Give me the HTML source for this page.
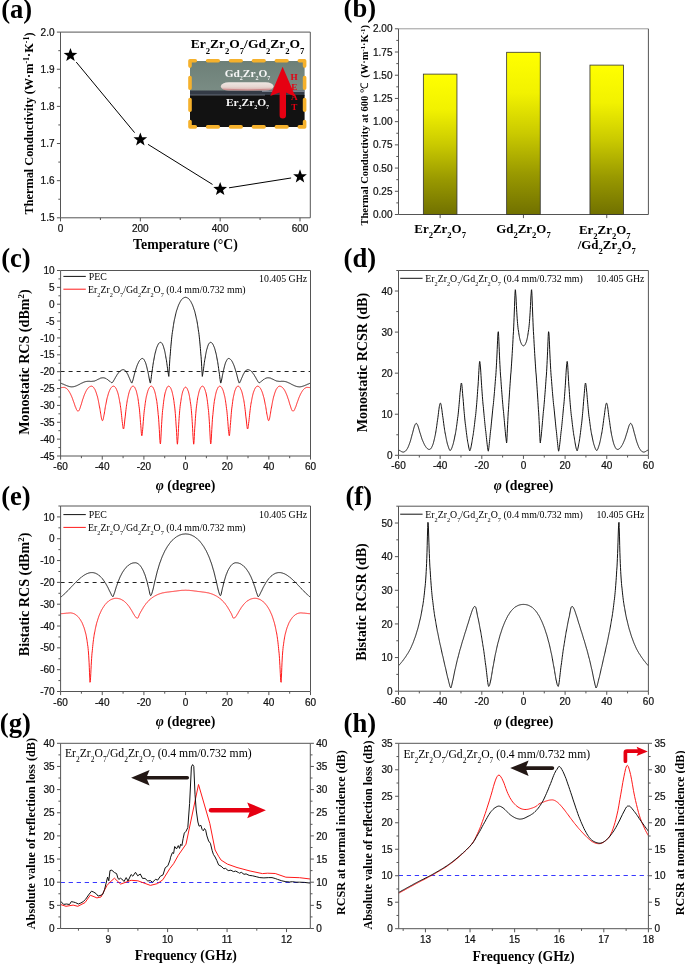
<!DOCTYPE html>
<html><head><meta charset="utf-8"><style>
html,body{margin:0;padding:0;background:#fff;}
svg{display:block;will-change:transform;}
</style></head><body>
<svg width="685" height="964" viewBox="0 0 685 964">
<rect width="685" height="964" fill="#fff"/>
<text x="1.20" y="17.50" text-anchor="start" font-family='"Liberation Serif", serif' font-size="26.6" font-weight="bold" fill="#000">(a)</text>
<text x="343.60" y="17.40" text-anchor="start" font-family='"Liberation Serif", serif' font-size="26.6" font-weight="bold" fill="#000">(b)</text>
<text x="1.20" y="266.90" text-anchor="start" font-family='"Liberation Serif", serif' font-size="26.6" font-weight="bold" fill="#000">(c)</text>
<text x="343.60" y="266.80" text-anchor="start" font-family='"Liberation Serif", serif' font-size="26.6" font-weight="bold" fill="#000">(d)</text>
<text x="1.20" y="505.20" text-anchor="start" font-family='"Liberation Serif", serif' font-size="26.6" font-weight="bold" fill="#000">(e)</text>
<text x="345.50" y="505.00" text-anchor="start" font-family='"Liberation Serif", serif' font-size="26.6" font-weight="bold" fill="#000">(f)</text>
<text x="-0.20" y="731.80" text-anchor="start" font-family='"Liberation Serif", serif' font-size="26.6" font-weight="bold" fill="#000">(g)</text>
<text x="343.60" y="731.70" text-anchor="start" font-family='"Liberation Serif", serif' font-size="26.6" font-weight="bold" fill="#000">(h)</text>
<path d="M60.50,32.10V217.80H310.30" fill="none" stroke="#555555" stroke-width="1.0"/>
<path d="M60.50,32.10H310.30" fill="none" stroke="#555555" stroke-width="1.0"/>
<path d="M310.30,32.10V217.80" fill="none" stroke="#555555" stroke-width="1.0"/>
<path d="M60.50,217.80h-3.60M60.50,180.66h-3.60M60.50,143.52h-3.60M60.50,106.38h-3.60M60.50,69.24h-3.60M60.50,32.10h-3.60M60.50,199.23h-2.20M60.50,162.09h-2.20M60.50,124.95h-2.20M60.50,87.81h-2.20M60.50,50.67h-2.20" stroke="#555555" stroke-width="1.0" fill="none"/>
<text x="54.50" y="221.40" text-anchor="end" font-family='"Liberation Sans", sans-serif' font-size="10.0" fill="#111" stroke="#111" stroke-width="0.22">1.5</text>
<text x="54.50" y="184.26" text-anchor="end" font-family='"Liberation Sans", sans-serif' font-size="10.0" fill="#111" stroke="#111" stroke-width="0.22">1.6</text>
<text x="54.50" y="147.12" text-anchor="end" font-family='"Liberation Sans", sans-serif' font-size="10.0" fill="#111" stroke="#111" stroke-width="0.22">1.7</text>
<text x="54.50" y="109.98" text-anchor="end" font-family='"Liberation Sans", sans-serif' font-size="10.0" fill="#111" stroke="#111" stroke-width="0.22">1.8</text>
<text x="54.50" y="72.84" text-anchor="end" font-family='"Liberation Sans", sans-serif' font-size="10.0" fill="#111" stroke="#111" stroke-width="0.22">1.9</text>
<text x="54.50" y="35.70" text-anchor="end" font-family='"Liberation Sans", sans-serif' font-size="10.0" fill="#111" stroke="#111" stroke-width="0.22">2.0</text>
<path d="M60.50,217.80v3.60M140.33,217.80v3.60M220.17,217.80v3.60M300.00,217.80v3.60M100.42,217.80v2.20M180.25,217.80v2.20M260.08,217.80v2.20" stroke="#555555" stroke-width="1.0" fill="none"/>
<text x="60.50" y="231.80" text-anchor="middle" font-family='"Liberation Sans", sans-serif' font-size="10.0" fill="#111" stroke="#111" stroke-width="0.22">0</text>
<text x="140.33" y="231.80" text-anchor="middle" font-family='"Liberation Sans", sans-serif' font-size="10.0" fill="#111" stroke="#111" stroke-width="0.22">200</text>
<text x="220.17" y="231.80" text-anchor="middle" font-family='"Liberation Sans", sans-serif' font-size="10.0" fill="#111" stroke="#111" stroke-width="0.22">400</text>
<text x="300.00" y="231.80" text-anchor="middle" font-family='"Liberation Sans", sans-serif' font-size="10.0" fill="#111" stroke="#111" stroke-width="0.22">600</text>
<text x="185.50" y="248.50" text-anchor="middle" font-family='"Liberation Serif", serif' font-size="13.8" font-weight="bold" fill="#000">Temperature (°C)</text>
<text x="32.60" y="123.50" text-anchor="middle" font-family='"Liberation Serif", serif' font-size="12.3" font-weight="bold" fill="#000" transform="rotate(-90 32.60 123.50)">Thermal Conductivity (W·m<tspan font-size="8" baseline-shift="super">-1</tspan>·K<tspan font-size="8" baseline-shift="super">-1</tspan>)</text>
<path d="M76.22,62.06L134.60,132.65M147.98,144.33L212.52,184.45M229.06,187.80L291.11,177.98" stroke="#000" stroke-width="1" fill="none"/>
<polygon points="70.48,47.93 72.24,52.70 77.33,52.90 73.33,56.05 74.71,60.95 70.48,58.13 66.25,60.95 67.63,56.05 63.63,52.90 68.72,52.70" fill="#000"/>
<polygon points="140.33,132.38 142.10,137.16 147.18,137.36 143.19,140.51 144.57,145.41 140.33,142.58 136.10,145.41 137.48,140.51 133.49,137.36 138.57,137.16" fill="#000"/>
<polygon points="220.17,182.00 221.93,186.78 227.01,186.98 223.02,190.13 224.40,195.03 220.17,192.20 215.93,195.03 217.31,190.13 213.32,186.98 218.40,186.78" fill="#000"/>
<polygon points="300.00,169.37 301.76,174.15 306.85,174.35 302.85,177.50 304.23,182.40 300.00,179.57 295.77,182.40 297.15,177.50 293.15,174.35 298.24,174.15" fill="#000"/>
<text x="247.50" y="48.00" text-anchor="middle" font-family='"Liberation Serif", serif' font-size="13.5" font-weight="bold" fill="#000"><tspan>Er</tspan><tspan font-size="8.64" baseline-shift="-5.80">2</tspan><tspan>Zr</tspan><tspan font-size="8.64" baseline-shift="-5.80">2</tspan><tspan>O</tspan><tspan font-size="8.64" baseline-shift="-5.80">7</tspan><tspan>/</tspan><tspan>Gd</tspan><tspan font-size="8.64" baseline-shift="-5.80">2</tspan><tspan>Zr</tspan><tspan font-size="8.64" baseline-shift="-5.80">2</tspan><tspan>O</tspan><tspan font-size="8.64" baseline-shift="-5.80">7</tspan></text>
<defs><linearGradient id="gtop" x1="0" y1="0" x2="0" y2="1"><stop offset="0" stop-color="#6d8078"/><stop offset="1" stop-color="#7a8c84"/></linearGradient><linearGradient id="ybar" x1="0" y1="0" x2="0" y2="1"><stop offset="0" stop-color="#ffff00"/><stop offset="0.25" stop-color="#f2f200"/><stop offset="0.5" stop-color="#caca00"/><stop offset="0.75" stop-color="#999900"/><stop offset="1" stop-color="#717100"/></linearGradient></defs>
<rect x="190" y="61" width="114.6" height="30" fill="url(#gtop)"/>
<rect x="190" y="90.5" width="114.6" height="5" fill="#343b46"/>
<rect x="190" y="95" width="114.6" height="32" fill="#121212"/>
<defs><linearGradient id="disk" x1="0" y1="0" x2="0" y2="1"><stop offset="0" stop-color="#efe7e3"/><stop offset="0.55" stop-color="#e6d6d1"/><stop offset="1" stop-color="#d9aaa8"/></linearGradient></defs>
<rect x="190" y="94.6" width="75" height="0.9" fill="#9aa3b0" opacity="0.6"/>
<rect x="262" y="90.6" width="42.6" height="1.2" fill="#aab3c0" opacity="0.75"/>
<rect x="220.8" y="82.3" width="52.8" height="8.2" rx="8" ry="4" fill="url(#disk)"/>
<path d="M223,89.2 Q247,90.6 271.5,89.2" stroke="#c77f82" stroke-width="0.8" fill="none"/>
<text x="247.50" y="76.60" text-anchor="middle" font-family='"Liberation Serif", serif' font-size="11.4" font-weight="bold" fill="#f6f6f6"><tspan>Gd</tspan><tspan font-size="6.00" baseline-shift="-3.00">2</tspan><tspan>Zr</tspan><tspan font-size="6.00" baseline-shift="-3.00">2</tspan><tspan>O</tspan><tspan font-size="6.00" baseline-shift="-3.00">7</tspan></text>
<text x="247.50" y="105.60" text-anchor="middle" font-family='"Liberation Serif", serif' font-size="11.4" font-weight="bold" fill="#f6f6f6"><tspan>Er</tspan><tspan font-size="6.00" baseline-shift="-3.00">2</tspan><tspan>Zr</tspan><tspan font-size="6.00" baseline-shift="-3.00">2</tspan><tspan>O</tspan><tspan font-size="6.00" baseline-shift="-3.00">7</tspan></text>
<path d="M282.6,66.8 L295.6,97.0 L286.0,92.6 L286.0,115.3 A3.2,3.2 0 0 1 279.6,115.3 L279.6,92.6 L270.3,96.0 Z" fill="#e60012"/>
<text x="294.20" y="79.70" text-anchor="middle" font-family='"Liberation Serif", serif' font-size="9.2" font-weight="bold" fill="#e60012">H</text>
<text x="294.20" y="89.60" text-anchor="middle" font-family='"Liberation Serif", serif' font-size="9.2" font-weight="bold" fill="#e60012">E</text>
<text x="294.20" y="99.60" text-anchor="middle" font-family='"Liberation Serif", serif' font-size="9.2" font-weight="bold" fill="#e60012">A</text>
<text x="294.20" y="109.60" text-anchor="middle" font-family='"Liberation Serif", serif' font-size="9.2" font-weight="bold" fill="#e60012">T</text>
<path d="M195.3,60.8L190.0,60.8L190.0,66.1M299.3,60.8L304.6,60.8L304.6,66.1M195.3,126.9L190.0,126.9L190.0,121.60000000000001M299.3,126.9L304.6,126.9L304.6,121.60000000000001M207.62,60.8H218.22M207.62,126.9H218.22M230.54,60.8H241.14M230.54,126.9H241.14M253.46,60.8H264.06M253.46,126.9H264.06M276.38,60.8H286.98M276.38,126.9H286.98M190.0,77.53V88.13M304.6,77.53V88.13M190.0,99.57V110.17M304.6,99.57V110.17" fill="none" stroke="#f5b12c" stroke-width="3.6" stroke-linecap="round" stroke-linejoin="round"/>
<path d="M398.50,28.80V214.50H648.40" fill="none" stroke="#555555" stroke-width="1.0"/>
<path d="M398.50,28.80H648.40" fill="none" stroke="#9a9a9a" stroke-width="1.0"/>
<path d="M648.40,28.80V214.50" fill="none" stroke="#555555" stroke-width="1.0"/>
<path d="M398.50,214.50h-3.60M398.50,191.29h-3.60M398.50,168.07h-3.60M398.50,144.86h-3.60M398.50,121.65h-3.60M398.50,98.44h-3.60M398.50,75.23h-3.60M398.50,52.01h-3.60M398.50,28.80h-3.60M398.50,202.89h-2.20M398.50,179.68h-2.20M398.50,156.47h-2.20M398.50,133.26h-2.20M398.50,110.04h-2.20M398.50,86.83h-2.20M398.50,63.62h-2.20M398.50,40.41h-2.20" stroke="#555555" stroke-width="1.0" fill="none"/>
<text x="392.50" y="218.10" text-anchor="end" font-family='"Liberation Sans", sans-serif' font-size="10.0" fill="#111" stroke="#111" stroke-width="0.22">0.00</text>
<text x="392.50" y="194.89" text-anchor="end" font-family='"Liberation Sans", sans-serif' font-size="10.0" fill="#111" stroke="#111" stroke-width="0.22">0.25</text>
<text x="392.50" y="171.67" text-anchor="end" font-family='"Liberation Sans", sans-serif' font-size="10.0" fill="#111" stroke="#111" stroke-width="0.22">0.50</text>
<text x="392.50" y="148.46" text-anchor="end" font-family='"Liberation Sans", sans-serif' font-size="10.0" fill="#111" stroke="#111" stroke-width="0.22">0.75</text>
<text x="392.50" y="125.25" text-anchor="end" font-family='"Liberation Sans", sans-serif' font-size="10.0" fill="#111" stroke="#111" stroke-width="0.22">1.00</text>
<text x="392.50" y="102.04" text-anchor="end" font-family='"Liberation Sans", sans-serif' font-size="10.0" fill="#111" stroke="#111" stroke-width="0.22">1.25</text>
<text x="392.50" y="78.83" text-anchor="end" font-family='"Liberation Sans", sans-serif' font-size="10.0" fill="#111" stroke="#111" stroke-width="0.22">1.50</text>
<text x="392.50" y="55.61" text-anchor="end" font-family='"Liberation Sans", sans-serif' font-size="10.0" fill="#111" stroke="#111" stroke-width="0.22">1.75</text>
<text x="392.50" y="32.40" text-anchor="end" font-family='"Liberation Sans", sans-serif' font-size="10.0" fill="#111" stroke="#111" stroke-width="0.22">2.00</text>
<path d="M440.15,214.50v3.60M523.45,214.50v3.60M606.75,214.50v3.60" stroke="#555555" stroke-width="1.0" fill="none"/>
<rect x="423.35" y="74.11" width="33.6" height="140.39" fill="url(#ybar)" stroke="#333" stroke-width="0.8"/>
<rect x="506.65" y="52.29" width="33.6" height="162.21" fill="url(#ybar)" stroke="#333" stroke-width="0.8"/>
<rect x="589.95" y="65.10" width="33.6" height="149.40" fill="url(#ybar)" stroke="#333" stroke-width="0.8"/>
<text x="440.15" y="232.60" text-anchor="middle" font-family='"Liberation Serif", serif' font-size="12.9" font-weight="bold" fill="#000"><tspan>Er</tspan><tspan font-size="8.60" baseline-shift="-5.20">2</tspan><tspan>Zr</tspan><tspan font-size="8.60" baseline-shift="-5.20">2</tspan><tspan>O</tspan><tspan font-size="8.60" baseline-shift="-5.20">7</tspan></text>
<text x="523.45" y="232.60" text-anchor="middle" font-family='"Liberation Serif", serif' font-size="12.9" font-weight="bold" fill="#000"><tspan>Gd</tspan><tspan font-size="8.60" baseline-shift="-5.20">2</tspan><tspan>Zr</tspan><tspan font-size="8.60" baseline-shift="-5.20">2</tspan><tspan>O</tspan><tspan font-size="8.60" baseline-shift="-5.20">7</tspan></text>
<text x="604.75" y="233.60" text-anchor="middle" font-family='"Liberation Serif", serif' font-size="12.9" font-weight="bold" fill="#000"><tspan>Er</tspan><tspan font-size="8.60" baseline-shift="-5.20">2</tspan><tspan>Zr</tspan><tspan font-size="8.60" baseline-shift="-5.20">2</tspan><tspan>O</tspan><tspan font-size="8.60" baseline-shift="-5.20">7</tspan></text>
<text x="606.75" y="248.60" text-anchor="middle" font-family='"Liberation Serif", serif' font-size="12.9" font-weight="bold" fill="#000">/<tspan>Gd</tspan><tspan font-size="8.60" baseline-shift="-5.20">2</tspan><tspan>Zr</tspan><tspan font-size="8.60" baseline-shift="-5.20">2</tspan><tspan>O</tspan><tspan font-size="8.60" baseline-shift="-5.20">7</tspan></text>
<text x="368.40" y="125.30" text-anchor="middle" font-family='"Liberation Serif", serif' font-size="10.5" font-weight="bold" fill="#000" transform="rotate(-90 368.40 125.30)">Thermal Conductivity at 600 <tspan font-weight="normal">℃</tspan>&#160;&#160;(W·m<tspan font-size="6.8" baseline-shift="super">-1</tspan>·K<tspan font-size="6.8" baseline-shift="super">-1</tspan>)</text>
<path d="M60.60,371.5H310.50" stroke="#222" stroke-width="1" stroke-dasharray="4 4" fill="none"/>
<path d="M60.6,387.7L60.8,387.7L61.0,387.7L61.2,387.6L61.4,387.6L61.6,387.6L61.8,387.5L62.1,387.5L62.3,387.5L62.5,387.5L62.7,387.4L62.9,387.4L63.1,387.4L63.3,387.4L63.5,387.4L63.7,387.4L63.9,387.4L64.1,387.4L64.4,387.4L64.6,387.5L64.8,387.5L65.0,387.6L65.2,387.7L65.4,387.8L65.6,387.9L65.8,388.0L66.0,388.1L66.3,388.3L66.5,388.4L66.7,388.6L66.9,388.8L67.1,389.0L67.3,389.2L67.5,389.4L67.7,389.7L68.0,389.9L68.2,390.2L68.4,390.5L68.6,390.7L68.8,391.1L69.0,391.4L69.2,391.7L69.4,392.1L69.6,392.4L69.9,392.8L70.1,393.2L70.3,393.6L70.5,394.0L70.7,394.4L70.9,394.9L71.1,395.3L71.3,395.8L71.5,396.3L71.8,396.8L72.0,397.3L72.2,397.9L72.4,398.4L72.6,398.9L72.8,399.5L73.0,400.1L73.2,400.7L73.4,401.3L73.7,401.9L73.9,402.5L74.1,403.1L74.3,403.7L74.5,404.3L74.7,404.9L74.9,405.5L75.1,406.1L75.3,406.7L75.6,407.2L75.8,407.8L76.0,408.3L76.2,408.8L76.4,409.3L76.6,409.7L76.8,410.0L77.0,410.4L77.2,410.6L77.5,410.9L77.7,411.0L77.9,411.1L78.1,411.1L78.3,411.1L78.5,411.0L78.7,410.8L78.9,410.5L79.2,410.2L79.4,409.7L79.6,409.3L79.8,408.8L80.0,408.2L80.2,407.6L80.4,407.0L80.6,406.3L80.8,405.6L81.1,405.0L81.3,404.3L81.5,403.6L81.7,402.9L81.9,402.2L82.1,401.5L82.3,400.8L82.5,400.1L82.7,399.4L83.0,398.8L83.2,398.2L83.4,397.5L83.6,396.9L83.8,396.3L84.0,395.8L84.2,395.2L84.4,394.7L84.7,394.1L84.9,393.6L85.1,393.2L85.3,392.7L85.5,392.2L85.7,391.8L85.9,391.4L86.1,391.0L86.3,390.6L86.6,390.2L86.8,389.9L87.0,389.5L87.2,389.2L87.4,388.9L87.6,388.6L87.8,388.4L88.0,388.1L88.2,387.9L88.5,387.7L88.7,387.5L88.9,387.3L89.1,387.1L89.3,386.9L89.5,386.8L89.7,386.7L89.9,386.6L90.2,386.5L90.4,386.4L90.6,386.3L90.8,386.3L91.0,386.2L91.2,386.2L91.4,386.2L91.6,386.2L91.8,386.2L92.0,386.3L92.3,386.4L92.5,386.5L92.7,386.6L92.9,386.8L93.1,386.9L93.3,387.1L93.5,387.4L93.7,387.6L93.9,387.9L94.1,388.2L94.3,388.5L94.5,388.9L94.8,389.2L95.0,389.7L95.2,390.1L95.4,390.6L95.6,391.0L95.8,391.6L96.0,392.1L96.2,392.7L96.4,393.3L96.6,394.0L96.8,394.6L97.0,395.4L97.3,396.1L97.5,396.9L97.7,397.7L97.9,398.6L98.1,399.5L98.3,400.4L98.5,401.4L98.7,402.5L98.9,403.5L99.1,404.6L99.3,405.8L99.5,406.9L99.8,408.1L100.0,409.4L100.2,410.6L100.4,411.9L100.6,413.2L100.8,414.4L101.0,415.6L101.2,416.8L101.4,417.8L101.6,418.8L101.8,419.5L102.0,420.1L102.2,420.5L102.5,420.6L102.7,420.5L102.9,420.1L103.1,419.5L103.3,418.7L103.5,417.7L103.7,416.7L103.9,415.5L104.2,414.2L104.4,413.0L104.6,411.7L104.8,410.4L105.0,409.1L105.2,407.8L105.4,406.6L105.6,405.4L105.9,404.3L106.1,403.2L106.3,402.1L106.5,401.1L106.7,400.1L106.9,399.1L107.1,398.2L107.3,397.4L107.6,396.5L107.8,395.8L108.0,395.0L108.2,394.3L108.4,393.6L108.6,393.0L108.8,392.4L109.0,391.8L109.3,391.2L109.5,390.7L109.7,390.2L109.9,389.8L110.1,389.4L110.3,389.0L110.5,388.6L110.7,388.3L110.9,388.0L111.2,387.7L111.4,387.4L111.6,387.2L111.8,387.0L112.0,386.8L112.2,386.6L112.4,386.5L112.6,386.4L112.9,386.3L113.1,386.2L113.3,386.2L113.5,386.2L113.7,386.2L113.9,386.2L114.1,386.3L114.3,386.4L114.5,386.6L114.7,386.7L115.0,386.9L115.2,387.1L115.4,387.4L115.6,387.7L115.8,388.0L116.0,388.4L116.2,388.8L116.4,389.2L116.6,389.6L116.8,390.1L117.0,390.7L117.2,391.2L117.5,391.9L117.7,392.5L117.9,393.2L118.1,393.9L118.3,394.7L118.5,395.6L118.7,396.5L118.9,397.4L119.1,398.4L119.3,399.4L119.5,400.6L119.7,401.7L120.0,403.0L120.2,404.3L120.4,405.7L120.6,407.2L120.8,408.7L121.0,410.3L121.2,412.0L121.4,413.8L121.6,415.7L121.8,417.6L122.0,419.6L122.2,421.5L122.5,423.4L122.7,425.2L122.9,426.7L123.1,428.0L123.3,428.7L123.5,429.0L123.7,428.7L123.9,427.9L124.1,426.5L124.3,424.9L124.5,423.0L124.7,421.0L124.9,419.0L125.2,416.9L125.4,415.0L125.6,413.0L125.8,411.2L126.0,409.5L126.2,407.8L126.4,406.3L126.6,404.8L126.8,403.4L127.0,402.1L127.2,400.8L127.4,399.6L127.7,398.5L127.9,397.5L128.1,396.5L128.3,395.6L128.5,394.7L128.7,393.9L128.9,393.1L129.1,392.4L129.3,391.7L129.5,391.1L129.7,390.5L129.9,390.0L130.2,389.5L130.4,389.0L130.6,388.6L130.8,388.2L131.0,387.8L131.2,387.5L131.4,387.2L131.6,387.0L131.8,386.8L132.0,386.6L132.2,386.4L132.4,386.3L132.7,386.2L132.9,386.2L133.1,386.2L133.3,386.2L133.5,386.3L133.7,386.4L133.9,386.5L134.1,386.7L134.4,386.9L134.6,387.2L134.8,387.5L135.0,387.9L135.2,388.3L135.4,388.8L135.6,389.3L135.8,389.8L136.1,390.4L136.3,391.1L136.5,391.8L136.7,392.6L136.9,393.5L137.1,394.4L137.3,395.3L137.6,396.4L137.8,397.5L138.0,398.7L138.2,400.0L138.4,401.4L138.6,402.9L138.8,404.5L139.0,406.2L139.3,408.1L139.5,410.1L139.7,412.2L139.9,414.5L140.1,417.0L140.3,419.7L140.5,422.5L140.8,425.4L141.0,428.3L141.2,431.1L141.4,433.5L141.6,435.2L141.8,435.8L142.0,435.3L142.2,433.9L142.4,431.8L142.7,429.3L142.9,426.7L143.1,424.0L143.3,421.4L143.5,418.9L143.7,416.5L143.9,414.3L144.1,412.2L144.3,410.2L144.6,408.4L144.8,406.7L145.0,405.1L145.2,403.6L145.4,402.2L145.6,400.8L145.8,399.6L146.0,398.4L146.2,397.4L146.4,396.3L146.7,395.4L146.9,394.5L147.1,393.6L147.3,392.9L147.5,392.1L147.7,391.5L147.9,390.8L148.1,390.2L148.3,389.7L148.6,389.2L148.8,388.7L149.0,388.3L149.2,387.9L149.4,387.6L149.6,387.3L149.8,387.0L150.0,386.8L150.2,386.6L150.5,386.5L150.7,386.3L150.9,386.3L151.1,386.2L151.3,386.2L151.5,386.2L151.7,386.3L151.9,386.4L152.1,386.5L152.3,386.7L152.6,386.9L152.8,387.1L153.0,387.4L153.2,387.8L153.4,388.1L153.6,388.6L153.8,389.0L154.0,389.5L154.2,390.1L154.5,390.7L154.7,391.4L154.9,392.1L155.1,392.9L155.3,393.7L155.5,394.6L155.7,395.5L155.9,396.6L156.1,397.7L156.3,398.9L156.6,400.1L156.8,401.5L157.0,403.0L157.2,404.5L157.4,406.2L157.6,408.1L157.8,410.0L158.0,412.2L158.2,414.5L158.5,417.0L158.7,419.8L158.9,422.8L159.1,426.0L159.3,429.5L159.5,433.2L159.7,437.0L159.9,440.4L160.1,442.9L160.4,443.9L160.6,442.8L160.8,439.9L161.0,436.1L161.2,432.1L161.4,428.2L161.6,424.5L161.8,421.2L162.0,418.1L162.2,415.3L162.4,412.7L162.6,410.4L162.9,408.3L163.1,406.3L163.3,404.5L163.5,402.8L163.7,401.2L163.9,399.8L164.1,398.4L164.3,397.2L164.5,396.1L164.7,395.0L164.9,394.0L165.1,393.1L165.3,392.2L165.6,391.5L165.8,390.7L166.0,390.1L166.2,389.5L166.4,388.9L166.6,388.5L166.8,388.0L167.0,387.6L167.2,387.3L167.4,387.0L167.6,386.7L167.8,386.5L168.1,386.4L168.3,386.3L168.5,386.2L168.7,386.2L168.9,386.2L169.1,386.3L169.3,386.4L169.5,386.5L169.7,386.7L170.0,387.0L170.2,387.2L170.4,387.6L170.6,387.9L170.8,388.3L171.0,388.8L171.2,389.3L171.5,389.9L171.7,390.5L171.9,391.2L172.1,391.9L172.3,392.7L172.5,393.6L172.7,394.5L172.9,395.5L173.2,396.6L173.4,397.8L173.6,399.0L173.8,400.4L174.0,401.8L174.2,403.4L174.4,405.1L174.7,406.9L174.9,408.9L175.1,411.0L175.3,413.4L175.5,415.9L175.7,418.7L175.9,421.8L176.1,425.1L176.4,428.8L176.6,432.6L176.8,436.6L177.0,440.3L177.2,443.1L177.4,444.2L177.6,443.1L177.8,440.2L178.1,436.4L178.3,432.4L178.5,428.5L178.7,424.8L178.9,421.5L179.1,418.4L179.3,415.6L179.5,413.1L179.7,410.7L179.9,408.6L180.1,406.6L180.3,404.8L180.6,403.1L180.8,401.6L181.0,400.2L181.2,398.9L181.4,397.6L181.6,396.5L181.8,395.4L182.0,394.5L182.2,393.6L182.4,392.8L182.6,392.0L182.8,391.3L183.1,390.7L183.3,390.1L183.5,389.6L183.7,389.1L183.9,388.7L184.1,388.4L184.3,388.0L184.5,387.8L184.7,387.6L184.9,387.4L185.1,387.3L185.3,387.2L185.6,387.2L185.8,387.2L186.0,387.3L186.2,387.4L186.4,387.6L186.6,387.8L186.8,388.0L187.0,388.4L187.2,388.7L187.4,389.1L187.6,389.6L187.8,390.1L188.0,390.7L188.3,391.3L188.5,392.0L188.7,392.8L188.9,393.6L189.1,394.5L189.3,395.4L189.5,396.5L189.7,397.6L189.9,398.9L190.1,400.2L190.3,401.6L190.5,403.1L190.8,404.8L191.0,406.6L191.2,408.6L191.4,410.7L191.6,413.1L191.8,415.6L192.0,418.4L192.2,421.5L192.4,424.8L192.6,428.5L192.8,432.4L193.0,436.4L193.3,440.2L193.5,443.1L193.7,444.2L193.9,443.1L194.1,440.3L194.3,436.6L194.5,432.6L194.7,428.8L195.0,425.1L195.2,421.8L195.4,418.7L195.6,415.9L195.8,413.4L196.0,411.0L196.2,408.9L196.4,406.9L196.7,405.1L196.9,403.4L197.1,401.8L197.3,400.4L197.5,399.0L197.7,397.8L197.9,396.6L198.2,395.5L198.4,394.5L198.6,393.6L198.8,392.7L199.0,391.9L199.2,391.2L199.4,390.5L199.6,389.9L199.9,389.3L200.1,388.8L200.3,388.3L200.5,387.9L200.7,387.6L200.9,387.2L201.1,387.0L201.4,386.7L201.6,386.5L201.8,386.4L202.0,386.3L202.2,386.2L202.4,386.2L202.6,386.2L202.8,386.3L203.0,386.4L203.3,386.5L203.5,386.7L203.7,387.0L203.9,387.3L204.1,387.6L204.3,388.0L204.5,388.5L204.7,388.9L204.9,389.5L205.1,390.1L205.3,390.7L205.5,391.5L205.8,392.2L206.0,393.1L206.2,394.0L206.4,395.0L206.6,396.1L206.8,397.2L207.0,398.4L207.2,399.8L207.4,401.2L207.6,402.8L207.8,404.5L208.0,406.3L208.2,408.3L208.5,410.4L208.7,412.7L208.9,415.3L209.1,418.1L209.3,421.2L209.5,424.5L209.7,428.2L209.9,432.1L210.1,436.1L210.3,439.9L210.5,442.8L210.7,443.9L211.0,442.9L211.2,440.4L211.4,437.0L211.6,433.2L211.8,429.5L212.0,426.0L212.2,422.8L212.4,419.8L212.6,417.0L212.9,414.5L213.1,412.2L213.3,410.0L213.5,408.1L213.7,406.2L213.9,404.5L214.1,403.0L214.3,401.5L214.5,400.1L214.8,398.9L215.0,397.7L215.2,396.6L215.4,395.5L215.6,394.6L215.8,393.7L216.0,392.9L216.2,392.1L216.4,391.4L216.6,390.7L216.9,390.1L217.1,389.5L217.3,389.0L217.5,388.6L217.7,388.1L217.9,387.8L218.1,387.4L218.3,387.1L218.5,386.9L218.8,386.7L219.0,386.5L219.2,386.4L219.4,386.3L219.6,386.2L219.8,386.2L220.0,386.2L220.2,386.3L220.4,386.3L220.6,386.5L220.9,386.6L221.1,386.8L221.3,387.0L221.5,387.3L221.7,387.6L221.9,387.9L222.1,388.3L222.3,388.7L222.5,389.2L222.8,389.7L223.0,390.2L223.2,390.8L223.4,391.5L223.6,392.1L223.8,392.9L224.0,393.6L224.2,394.5L224.4,395.4L224.7,396.3L224.9,397.4L225.1,398.4L225.3,399.6L225.5,400.8L225.7,402.2L225.9,403.6L226.1,405.1L226.3,406.7L226.5,408.4L226.8,410.2L227.0,412.2L227.2,414.3L227.4,416.5L227.6,418.9L227.8,421.4L228.0,424.0L228.2,426.7L228.4,429.3L228.7,431.8L228.9,433.9L229.1,435.3L229.3,435.8L229.5,435.2L229.7,433.5L229.9,431.1L230.1,428.3L230.3,425.4L230.6,422.5L230.8,419.7L231.0,417.0L231.2,414.5L231.4,412.2L231.6,410.1L231.8,408.1L232.1,406.2L232.3,404.5L232.5,402.9L232.7,401.4L232.9,400.0L233.1,398.7L233.3,397.5L233.5,396.4L233.8,395.3L234.0,394.4L234.2,393.5L234.4,392.6L234.6,391.8L234.8,391.1L235.0,390.4L235.3,389.8L235.5,389.3L235.7,388.8L235.9,388.3L236.1,387.9L236.3,387.5L236.5,387.2L236.7,386.9L237.0,386.7L237.2,386.5L237.4,386.4L237.6,386.3L237.8,386.2L238.0,386.2L238.2,386.2L238.4,386.2L238.7,386.3L238.9,386.4L239.1,386.6L239.3,386.8L239.5,387.0L239.7,387.2L239.9,387.5L240.1,387.8L240.3,388.2L240.5,388.6L240.7,389.0L240.9,389.5L241.2,390.0L241.4,390.5L241.6,391.1L241.8,391.7L242.0,392.4L242.2,393.1L242.4,393.9L242.6,394.7L242.8,395.6L243.0,396.5L243.2,397.5L243.4,398.5L243.7,399.6L243.9,400.8L244.1,402.1L244.3,403.4L244.5,404.8L244.7,406.3L244.9,407.8L245.1,409.5L245.3,411.2L245.5,413.0L245.7,415.0L245.9,416.9L246.2,419.0L246.4,421.0L246.6,423.0L246.8,424.9L247.0,426.5L247.2,427.9L247.4,428.7L247.6,429.0L247.8,428.7L248.0,428.0L248.2,426.7L248.4,425.2L248.6,423.4L248.9,421.5L249.1,419.6L249.3,417.6L249.5,415.7L249.7,413.8L249.9,412.0L250.1,410.3L250.3,408.7L250.5,407.2L250.7,405.7L250.9,404.3L251.1,403.0L251.4,401.7L251.6,400.6L251.8,399.4L252.0,398.4L252.2,397.4L252.4,396.5L252.6,395.6L252.8,394.7L253.0,393.9L253.2,393.2L253.4,392.5L253.6,391.9L253.9,391.2L254.1,390.7L254.3,390.1L254.5,389.6L254.7,389.2L254.9,388.8L255.1,388.4L255.3,388.0L255.5,387.7L255.7,387.4L255.9,387.1L256.1,386.9L256.4,386.7L256.6,386.6L256.8,386.4L257.0,386.3L257.2,386.2L257.4,386.2L257.6,386.2L257.8,386.2L258.0,386.2L258.2,386.3L258.5,386.4L258.7,386.5L258.9,386.6L259.1,386.8L259.3,387.0L259.5,387.2L259.7,387.4L259.9,387.7L260.2,388.0L260.4,388.3L260.6,388.6L260.8,389.0L261.0,389.4L261.2,389.8L261.4,390.2L261.6,390.7L261.8,391.2L262.1,391.8L262.3,392.4L262.5,393.0L262.7,393.6L262.9,394.3L263.1,395.0L263.3,395.8L263.5,396.5L263.8,397.4L264.0,398.2L264.2,399.1L264.4,400.1L264.6,401.1L264.8,402.1L265.0,403.2L265.2,404.3L265.5,405.4L265.7,406.6L265.9,407.8L266.1,409.1L266.3,410.4L266.5,411.7L266.7,413.0L266.9,414.2L267.2,415.5L267.4,416.7L267.6,417.7L267.8,418.7L268.0,419.5L268.2,420.1L268.4,420.5L268.6,420.6L268.9,420.5L269.1,420.1L269.3,419.5L269.5,418.8L269.7,417.8L269.9,416.8L270.1,415.6L270.3,414.4L270.5,413.2L270.7,411.9L270.9,410.6L271.1,409.4L271.3,408.1L271.6,406.9L271.8,405.8L272.0,404.6L272.2,403.5L272.4,402.5L272.6,401.4L272.8,400.4L273.0,399.5L273.2,398.6L273.4,397.7L273.6,396.9L273.8,396.1L274.1,395.4L274.3,394.6L274.5,394.0L274.7,393.3L274.9,392.7L275.1,392.1L275.3,391.6L275.5,391.0L275.7,390.6L275.9,390.1L276.1,389.7L276.3,389.2L276.6,388.9L276.8,388.5L277.0,388.2L277.2,387.9L277.4,387.6L277.6,387.4L277.8,387.1L278.0,386.9L278.2,386.8L278.4,386.6L278.6,386.5L278.8,386.4L279.1,386.3L279.3,386.2L279.5,386.2L279.7,386.2L279.9,386.2L280.1,386.2L280.3,386.3L280.5,386.3L280.7,386.4L280.9,386.5L281.2,386.6L281.4,386.7L281.6,386.8L281.8,386.9L282.0,387.1L282.2,387.3L282.4,387.5L282.6,387.7L282.9,387.9L283.1,388.1L283.3,388.4L283.5,388.6L283.7,388.9L283.9,389.2L284.1,389.5L284.3,389.9L284.5,390.2L284.8,390.6L285.0,391.0L285.2,391.4L285.4,391.8L285.6,392.2L285.8,392.7L286.0,393.2L286.2,393.6L286.4,394.1L286.7,394.7L286.9,395.2L287.1,395.8L287.3,396.3L287.5,396.9L287.7,397.5L287.9,398.2L288.1,398.8L288.4,399.4L288.6,400.1L288.8,400.8L289.0,401.5L289.2,402.2L289.4,402.9L289.6,403.6L289.8,404.3L290.0,405.0L290.3,405.6L290.5,406.3L290.7,407.0L290.9,407.6L291.1,408.2L291.3,408.8L291.5,409.3L291.7,409.7L291.9,410.2L292.2,410.5L292.4,410.8L292.6,411.0L292.8,411.1L293.0,411.1L293.2,411.1L293.4,411.0L293.6,410.9L293.9,410.6L294.1,410.4L294.3,410.0L294.5,409.7L294.7,409.3L294.9,408.8L295.1,408.3L295.3,407.8L295.5,407.2L295.8,406.7L296.0,406.1L296.2,405.5L296.4,404.9L296.6,404.3L296.8,403.7L297.0,403.1L297.2,402.5L297.4,401.9L297.7,401.3L297.9,400.7L298.1,400.1L298.3,399.5L298.5,398.9L298.7,398.4L298.9,397.9L299.1,397.3L299.3,396.8L299.6,396.3L299.8,395.8L300.0,395.3L300.2,394.9L300.4,394.4L300.6,394.0L300.8,393.6L301.0,393.2L301.2,392.8L301.5,392.4L301.7,392.1L301.9,391.7L302.1,391.4L302.3,391.1L302.5,390.7L302.7,390.5L302.9,390.2L303.2,389.9L303.4,389.7L303.6,389.4L303.8,389.2L304.0,389.0L304.2,388.8L304.4,388.6L304.6,388.4L304.8,388.3L305.1,388.1L305.3,388.0L305.5,387.9L305.7,387.8L305.9,387.7L306.1,387.6L306.3,387.5L306.5,387.5L306.7,387.4L307.0,387.4L307.2,387.4L307.4,387.4L307.6,387.4L307.8,387.4L308.0,387.4L308.2,387.4L308.4,387.4L308.6,387.5L308.8,387.5L309.0,387.5L309.3,387.5L309.5,387.6L309.7,387.6L309.9,387.6L310.1,387.7L310.3,387.7L310.5,387.7" fill="none" stroke="#ff1a1a" stroke-width="1.0" stroke-linejoin="round"/>
<path d="M60.6,383.1L60.8,383.2L61.0,383.3L61.2,383.4L61.4,383.4L61.7,383.5L61.9,383.6L62.1,383.7L62.3,383.8L62.5,383.9L62.7,384.0L62.9,384.0L63.1,384.1L63.4,384.2L63.6,384.3L63.8,384.4L64.0,384.5L64.2,384.6L64.4,384.7L64.6,384.8L64.8,384.9L65.1,385.0L65.3,385.1L65.5,385.2L65.7,385.2L65.9,385.3L66.1,385.4L66.3,385.5L66.5,385.6L66.8,385.7L67.0,385.8L67.2,385.8L67.4,385.9L67.6,386.0L67.8,386.1L68.0,386.1L68.2,386.2L68.5,386.3L68.7,386.3L68.9,386.4L69.1,386.5L69.3,386.5L69.5,386.6L69.7,386.6L69.9,386.7L70.1,386.7L70.4,386.7L70.6,386.8L70.8,386.8L71.0,386.8L71.2,386.8L71.4,386.8L71.6,386.9L71.8,386.9L72.1,386.9L72.3,386.8L72.5,386.8L72.7,386.8L72.9,386.8L73.1,386.8L73.3,386.7L73.5,386.7L73.7,386.7L73.9,386.6L74.1,386.6L74.3,386.5L74.6,386.4L74.8,386.4L75.0,386.3L75.2,386.2L75.4,386.2L75.6,386.1L75.8,386.0L76.0,385.9L76.2,385.9L76.4,385.8L76.6,385.7L76.8,385.6L77.1,385.5L77.3,385.4L77.5,385.3L77.7,385.2L77.9,385.1L78.1,385.0L78.3,384.9L78.5,384.8L78.7,384.7L78.9,384.6L79.1,384.5L79.3,384.4L79.6,384.3L79.8,384.2L80.0,384.1L80.2,383.9L80.4,383.8L80.6,383.7L80.8,383.6L81.0,383.5L81.2,383.4L81.4,383.3L81.6,383.2L81.8,383.1L82.0,383.0L82.3,382.9L82.5,382.8L82.7,382.7L82.9,382.6L83.1,382.5L83.3,382.4L83.5,382.3L83.7,382.3L83.9,382.2L84.1,382.1L84.3,382.0L84.5,381.9L84.8,381.9L85.0,381.8L85.2,381.7L85.4,381.7L85.6,381.6L85.8,381.6L86.0,381.5L86.2,381.5L86.4,381.5L86.6,381.4L86.8,381.4L87.0,381.4L87.3,381.4L87.5,381.3L87.7,381.3L87.9,381.3L88.1,381.3L88.3,381.3L88.5,381.3L88.7,381.3L88.9,381.3L89.1,381.3L89.3,381.3L89.5,381.3L89.8,381.3L90.0,381.3L90.2,381.4L90.4,381.4L90.6,381.4L90.8,381.4L91.0,381.4L91.2,381.4L91.4,381.4L91.6,381.4L91.8,381.4L92.0,381.4L92.3,381.3L92.5,381.3L92.7,381.3L92.9,381.3L93.1,381.3L93.3,381.2L93.5,381.2L93.7,381.2L93.9,381.1L94.1,381.1L94.3,381.0L94.6,381.0L94.8,380.9L95.0,380.8L95.2,380.7L95.4,380.6L95.6,380.6L95.8,380.5L96.1,380.4L96.3,380.3L96.5,380.2L96.7,380.1L96.9,380.0L97.1,379.8L97.3,379.7L97.5,379.6L97.8,379.5L98.0,379.4L98.2,379.3L98.4,379.2L98.6,379.1L98.8,379.0L99.0,378.9L99.3,378.8L99.5,378.7L99.7,378.6L99.9,378.5L100.1,378.4L100.3,378.3L100.5,378.2L100.7,378.1L101.0,378.1L101.2,378.0L101.4,378.0L101.6,377.9L101.8,377.9L102.0,377.8L102.2,377.8L102.4,377.8L102.7,377.8L102.9,377.8L103.1,377.8L103.3,377.8L103.5,377.8L103.7,377.8L103.9,377.9L104.1,377.9L104.3,377.9L104.5,378.0L104.7,378.1L105.0,378.1L105.2,378.2L105.4,378.3L105.6,378.4L105.8,378.5L106.0,378.6L106.2,378.7L106.4,378.9L106.6,379.0L106.8,379.1L107.0,379.3L107.2,379.4L107.5,379.5L107.7,379.7L107.9,379.8L108.1,380.0L108.3,380.2L108.5,380.3L108.7,380.5L108.9,380.7L109.1,380.8L109.3,381.0L109.5,381.2L109.7,381.3L110.0,381.5L110.2,381.7L110.4,381.8L110.6,382.0L110.8,382.1L111.0,382.3L111.2,382.4L111.4,382.5L111.6,382.7L111.8,382.8L112.0,382.8L112.2,382.7L112.5,382.4L112.7,382.2L112.9,381.9L113.1,381.6L113.3,381.3L113.5,380.9L113.7,380.6L113.9,380.2L114.2,379.8L114.4,379.4L114.6,379.1L114.8,378.7L115.0,378.3L115.2,377.9L115.4,377.6L115.6,377.2L115.9,376.8L116.1,376.4L116.3,376.1L116.5,375.7L116.7,375.4L116.9,375.0L117.1,374.7L117.3,374.4L117.6,374.1L117.8,373.8L118.0,373.5L118.2,373.2L118.4,372.9L118.6,372.6L118.8,372.4L119.0,372.1L119.3,371.9L119.5,371.7L119.7,371.4L119.9,371.2L120.1,371.1L120.3,370.9L120.5,370.7L120.7,370.6L120.9,370.4L121.2,370.3L121.4,370.2L121.6,370.1L121.8,370.0L122.0,369.9L122.2,369.8L122.4,369.8L122.6,369.7L122.9,369.7L123.1,369.7L123.3,369.7L123.5,369.7L123.7,369.7L123.9,369.8L124.1,369.8L124.4,369.9L124.6,370.1L124.8,370.2L125.0,370.4L125.2,370.6L125.4,370.8L125.6,371.0L125.8,371.3L126.1,371.5L126.3,371.8L126.5,372.1L126.7,372.5L126.9,372.8L127.1,373.2L127.3,373.6L127.6,374.0L127.8,374.4L128.0,374.9L128.2,375.3L128.4,375.8L128.6,376.3L128.8,376.8L129.0,377.3L129.3,377.8L129.5,378.3L129.7,378.8L129.9,379.3L130.1,379.8L130.3,380.3L130.5,380.8L130.8,381.3L131.0,381.8L131.2,382.2L131.4,382.6L131.6,382.9L131.8,383.1L132.0,382.8L132.2,382.3L132.4,381.6L132.7,381.0L132.9,380.2L133.1,379.5L133.3,378.7L133.5,377.9L133.7,377.1L133.9,376.3L134.1,375.5L134.3,374.7L134.5,373.9L134.7,373.2L134.9,372.4L135.2,371.7L135.4,370.9L135.6,370.2L135.8,369.5L136.0,368.9L136.2,368.2L136.4,367.6L136.6,367.0L136.8,366.4L137.0,365.8L137.2,365.3L137.4,364.7L137.7,364.2L137.9,363.7L138.1,363.3L138.3,362.8L138.5,362.4L138.7,362.0L138.9,361.6L139.1,361.3L139.3,360.9L139.5,360.6L139.7,360.3L139.9,360.1L140.2,359.8L140.4,359.6L140.6,359.4L140.8,359.2L141.0,359.1L141.2,358.9L141.4,358.8L141.6,358.7L141.8,358.6L142.0,358.6L142.2,358.5L142.4,358.5L142.7,358.5L142.9,358.6L143.1,358.7L143.3,358.8L143.5,359.0L143.7,359.2L143.9,359.5L144.1,359.8L144.3,360.1L144.5,360.5L144.7,360.9L144.9,361.3L145.1,361.8L145.4,362.3L145.6,362.9L145.8,363.5L146.0,364.1L146.2,364.8L146.4,365.5L146.6,366.3L146.8,367.1L147.0,367.9L147.2,368.8L147.4,369.7L147.6,370.6L147.9,371.6L148.1,372.6L148.3,373.6L148.5,374.7L148.7,375.7L148.9,376.8L149.1,377.9L149.3,378.9L149.5,380.0L149.7,380.9L149.9,381.8L150.1,382.6L150.4,383.1L150.6,382.3L150.8,381.0L151.0,379.5L151.2,378.0L151.4,376.3L151.6,374.7L151.8,373.1L152.1,371.5L152.3,369.9L152.5,368.4L152.7,366.9L152.9,365.5L153.1,364.1L153.3,362.8L153.5,361.5L153.8,360.2L154.0,359.0L154.2,357.9L154.4,356.8L154.6,355.7L154.8,354.7L155.0,353.8L155.2,352.9L155.5,352.0L155.7,351.2L155.9,350.4L156.1,349.6L156.3,348.9L156.5,348.3L156.7,347.6L156.9,347.1L157.2,346.5L157.4,346.0L157.6,345.5L157.8,345.1L158.0,344.7L158.2,344.3L158.4,343.9L158.6,343.6L158.9,343.4L159.1,343.1L159.3,342.9L159.5,342.7L159.7,342.6L159.9,342.5L160.1,342.4L160.3,342.4L160.6,342.3L160.8,342.4L161.0,342.4L161.2,342.5L161.4,342.7L161.6,342.9L161.8,343.1L162.0,343.4L162.2,343.8L162.5,344.1L162.7,344.6L162.9,345.0L163.1,345.6L163.3,346.1L163.5,346.7L163.7,347.4L163.9,348.1L164.1,348.9L164.4,349.7L164.6,350.6L164.8,351.5L165.0,352.5L165.2,353.5L165.4,354.6L165.6,355.7L165.8,356.9L166.0,358.2L166.3,359.5L166.5,360.8L166.7,362.3L166.9,363.7L167.1,365.2L167.3,366.7L167.5,368.3L167.7,369.9L167.9,371.4L168.2,372.9L168.4,374.3L168.6,375.6L168.8,376.4L169.0,373.6L169.2,370.0L169.4,366.5L169.6,363.1L169.8,359.8L170.0,356.8L170.3,353.9L170.5,351.2L170.7,348.6L170.9,346.2L171.1,344.0L171.3,341.9L171.5,339.8L171.7,337.9L171.9,336.1L172.1,334.4L172.3,332.7L172.6,331.2L172.8,329.7L173.0,328.2L173.2,326.9L173.4,325.6L173.6,324.3L173.8,323.1L174.0,321.9L174.2,320.8L174.4,319.7L174.7,318.7L174.9,317.7L175.1,316.8L175.3,315.9L175.5,315.0L175.7,314.1L175.9,313.3L176.1,312.5L176.3,311.7L176.5,311.0L176.7,310.3L177.0,309.6L177.2,309.0L177.4,308.3L177.6,307.7L177.8,307.1L178.0,306.6L178.2,306.0L178.4,305.5L178.6,305.0L178.8,304.5L179.1,304.0L179.3,303.6L179.5,303.1L179.7,302.7L179.9,302.3L180.1,301.9L180.3,301.6L180.5,301.2L180.7,300.9L180.9,300.6L181.1,300.3L181.4,300.0L181.6,299.7L181.8,299.5L182.0,299.2L182.2,299.0L182.4,298.8L182.6,298.6L182.8,298.4L183.0,298.3L183.2,298.1L183.5,298.0L183.7,297.8L183.9,297.7L184.1,297.6L184.3,297.6L184.5,297.5L184.7,297.4L184.9,297.4L185.1,297.3L185.3,297.3L185.6,297.3L185.8,297.3L186.0,297.3L186.2,297.4L186.4,297.4L186.6,297.5L186.8,297.6L187.0,297.6L187.2,297.7L187.4,297.8L187.6,298.0L187.9,298.1L188.1,298.3L188.3,298.4L188.5,298.6L188.7,298.8L188.9,299.0L189.1,299.2L189.3,299.5L189.5,299.7L189.7,300.0L190.0,300.3L190.2,300.6L190.4,300.9L190.6,301.2L190.8,301.6L191.0,301.9L191.2,302.3L191.4,302.7L191.6,303.1L191.8,303.6L192.0,304.0L192.3,304.5L192.5,305.0L192.7,305.5L192.9,306.0L193.1,306.6L193.3,307.1L193.5,307.7L193.7,308.3L193.9,309.0L194.1,309.6L194.4,310.3L194.6,311.0L194.8,311.7L195.0,312.5L195.2,313.3L195.4,314.1L195.6,315.0L195.8,315.9L196.0,316.8L196.2,317.7L196.4,318.7L196.7,319.7L196.9,320.8L197.1,321.9L197.3,323.1L197.5,324.3L197.7,325.6L197.9,326.9L198.1,328.2L198.3,329.7L198.5,331.2L198.8,332.7L199.0,334.4L199.2,336.1L199.4,337.9L199.6,339.8L199.8,341.9L200.0,344.0L200.2,346.2L200.4,348.6L200.6,351.2L200.8,353.9L201.1,356.8L201.3,359.8L201.5,363.1L201.7,366.5L201.9,370.0L202.1,373.6L202.3,376.4L202.5,375.6L202.7,374.3L202.9,372.9L203.2,371.4L203.4,369.9L203.6,368.3L203.8,366.7L204.0,365.2L204.2,363.7L204.4,362.3L204.6,360.8L204.8,359.5L205.1,358.2L205.3,356.9L205.5,355.7L205.7,354.6L205.9,353.5L206.1,352.5L206.3,351.5L206.5,350.6L206.7,349.7L207.0,348.9L207.2,348.1L207.4,347.4L207.6,346.7L207.8,346.1L208.0,345.6L208.2,345.0L208.4,344.6L208.6,344.1L208.9,343.8L209.1,343.4L209.3,343.1L209.5,342.9L209.7,342.7L209.9,342.5L210.1,342.4L210.3,342.4L210.5,342.3L210.8,342.4L211.0,342.4L211.2,342.5L211.4,342.6L211.6,342.7L211.8,342.9L212.0,343.1L212.2,343.4L212.5,343.6L212.7,343.9L212.9,344.3L213.1,344.7L213.3,345.1L213.5,345.5L213.7,346.0L213.9,346.5L214.2,347.1L214.4,347.6L214.6,348.3L214.8,348.9L215.0,349.6L215.2,350.4L215.4,351.2L215.6,352.0L215.9,352.9L216.1,353.8L216.3,354.7L216.5,355.7L216.7,356.8L216.9,357.9L217.1,359.0L217.3,360.2L217.6,361.5L217.8,362.8L218.0,364.1L218.2,365.5L218.4,366.9L218.6,368.4L218.8,369.9L219.0,371.5L219.3,373.1L219.5,374.7L219.7,376.3L219.9,378.0L220.1,379.5L220.3,381.0L220.5,382.3L220.7,383.1L221.0,382.6L221.2,381.8L221.4,380.9L221.6,380.0L221.8,378.9L222.0,377.9L222.2,376.8L222.4,375.7L222.6,374.7L222.8,373.6L223.0,372.6L223.2,371.6L223.5,370.6L223.7,369.7L223.9,368.8L224.1,367.9L224.3,367.1L224.5,366.3L224.7,365.5L224.9,364.8L225.1,364.1L225.3,363.5L225.5,362.9L225.7,362.3L226.0,361.8L226.2,361.3L226.4,360.9L226.6,360.5L226.8,360.1L227.0,359.8L227.2,359.5L227.4,359.2L227.6,359.0L227.8,358.8L228.0,358.7L228.2,358.6L228.4,358.5L228.7,358.5L228.9,358.5L229.1,358.6L229.3,358.6L229.5,358.7L229.7,358.8L229.9,358.9L230.1,359.1L230.3,359.2L230.5,359.4L230.7,359.6L230.9,359.8L231.2,360.1L231.4,360.3L231.6,360.6L231.8,360.9L232.0,361.3L232.2,361.6L232.4,362.0L232.6,362.4L232.8,362.8L233.0,363.3L233.2,363.7L233.4,364.2L233.7,364.7L233.9,365.3L234.1,365.8L234.3,366.4L234.5,367.0L234.7,367.6L234.9,368.2L235.1,368.9L235.3,369.5L235.5,370.2L235.7,370.9L235.9,371.7L236.2,372.4L236.4,373.2L236.6,373.9L236.8,374.7L237.0,375.5L237.2,376.3L237.4,377.1L237.6,377.9L237.8,378.7L238.0,379.5L238.2,380.2L238.4,381.0L238.7,381.6L238.9,382.3L239.1,382.8L239.3,383.1L239.5,382.9L239.7,382.6L239.9,382.2L240.1,381.8L240.3,381.3L240.6,380.8L240.8,380.3L241.0,379.8L241.2,379.3L241.4,378.8L241.6,378.3L241.8,377.8L242.1,377.3L242.3,376.8L242.5,376.3L242.7,375.8L242.9,375.3L243.1,374.9L243.3,374.4L243.5,374.0L243.8,373.6L244.0,373.2L244.2,372.8L244.4,372.5L244.6,372.1L244.8,371.8L245.0,371.5L245.3,371.3L245.5,371.0L245.7,370.8L245.9,370.6L246.1,370.4L246.3,370.2L246.5,370.1L246.7,369.9L247.0,369.8L247.2,369.8L247.4,369.7L247.6,369.7L247.8,369.7L248.0,369.7L248.2,369.7L248.5,369.7L248.7,369.8L248.9,369.8L249.1,369.9L249.3,370.0L249.5,370.1L249.7,370.2L249.9,370.3L250.2,370.4L250.4,370.6L250.6,370.7L250.8,370.9L251.0,371.1L251.2,371.2L251.4,371.4L251.6,371.7L251.8,371.9L252.1,372.1L252.3,372.4L252.5,372.6L252.7,372.9L252.9,373.2L253.1,373.5L253.3,373.8L253.5,374.1L253.8,374.4L254.0,374.7L254.2,375.0L254.4,375.4L254.6,375.7L254.8,376.1L255.0,376.4L255.2,376.8L255.5,377.2L255.7,377.6L255.9,377.9L256.1,378.3L256.3,378.7L256.5,379.1L256.7,379.4L256.9,379.8L257.2,380.2L257.4,380.6L257.6,380.9L257.8,381.3L258.0,381.6L258.2,381.9L258.4,382.2L258.6,382.4L258.9,382.7L259.1,382.8L259.3,382.8L259.5,382.7L259.7,382.5L259.9,382.4L260.1,382.3L260.3,382.1L260.5,382.0L260.7,381.8L260.9,381.7L261.1,381.5L261.4,381.3L261.6,381.2L261.8,381.0L262.0,380.8L262.2,380.7L262.4,380.5L262.6,380.3L262.8,380.2L263.0,380.0L263.2,379.8L263.4,379.7L263.6,379.5L263.9,379.4L264.1,379.3L264.3,379.1L264.5,379.0L264.7,378.9L264.9,378.7L265.1,378.6L265.3,378.5L265.5,378.4L265.7,378.3L265.9,378.2L266.1,378.1L266.4,378.1L266.6,378.0L266.8,377.9L267.0,377.9L267.2,377.9L267.4,377.8L267.6,377.8L267.8,377.8L268.0,377.8L268.2,377.8L268.4,377.8L268.7,377.8L268.9,377.8L269.1,377.8L269.3,377.9L269.5,377.9L269.7,378.0L269.9,378.0L270.1,378.1L270.4,378.1L270.6,378.2L270.8,378.3L271.0,378.4L271.2,378.5L271.4,378.6L271.6,378.7L271.8,378.8L272.1,378.9L272.3,379.0L272.5,379.1L272.7,379.2L272.9,379.3L273.1,379.4L273.3,379.5L273.6,379.6L273.8,379.7L274.0,379.8L274.2,380.0L274.4,380.1L274.6,380.2L274.8,380.3L275.0,380.4L275.3,380.5L275.5,380.6L275.7,380.6L275.9,380.7L276.1,380.8L276.3,380.9L276.5,381.0L276.8,381.0L277.0,381.1L277.2,381.1L277.4,381.2L277.6,381.2L277.8,381.2L278.0,381.3L278.2,381.3L278.4,381.3L278.6,381.3L278.8,381.3L279.1,381.4L279.3,381.4L279.5,381.4L279.7,381.4L279.9,381.4L280.1,381.4L280.3,381.4L280.5,381.4L280.7,381.4L280.9,381.4L281.1,381.3L281.3,381.3L281.6,381.3L281.8,381.3L282.0,381.3L282.2,381.3L282.4,381.3L282.6,381.3L282.8,381.3L283.0,381.3L283.2,381.3L283.4,381.3L283.6,381.3L283.8,381.4L284.1,381.4L284.3,381.4L284.5,381.4L284.7,381.5L284.9,381.5L285.1,381.5L285.3,381.6L285.5,381.6L285.7,381.7L285.9,381.7L286.1,381.8L286.3,381.9L286.6,381.9L286.8,382.0L287.0,382.1L287.2,382.2L287.4,382.3L287.6,382.3L287.8,382.4L288.0,382.5L288.2,382.6L288.4,382.7L288.6,382.8L288.8,382.9L289.1,383.0L289.3,383.1L289.5,383.2L289.7,383.3L289.9,383.4L290.1,383.5L290.3,383.6L290.5,383.7L290.7,383.8L290.9,383.9L291.1,384.1L291.3,384.2L291.5,384.3L291.8,384.4L292.0,384.5L292.2,384.6L292.4,384.7L292.6,384.8L292.8,384.9L293.0,385.0L293.2,385.1L293.4,385.2L293.6,385.3L293.8,385.4L294.0,385.5L294.3,385.6L294.5,385.7L294.7,385.8L294.9,385.9L295.1,385.9L295.3,386.0L295.5,386.1L295.7,386.2L295.9,386.2L296.1,386.3L296.3,386.4L296.5,386.4L296.8,386.5L297.0,386.6L297.2,386.6L297.4,386.7L297.6,386.7L297.8,386.7L298.0,386.8L298.2,386.8L298.4,386.8L298.6,386.8L298.8,386.8L299.0,386.9L299.3,386.9L299.5,386.9L299.7,386.8L299.9,386.8L300.1,386.8L300.3,386.8L300.5,386.8L300.7,386.7L301.0,386.7L301.2,386.7L301.4,386.6L301.6,386.6L301.8,386.5L302.0,386.5L302.2,386.4L302.4,386.3L302.6,386.3L302.9,386.2L303.1,386.1L303.3,386.1L303.5,386.0L303.7,385.9L303.9,385.8L304.1,385.8L304.3,385.7L304.6,385.6L304.8,385.5L305.0,385.4L305.2,385.3L305.4,385.2L305.6,385.2L305.8,385.1L306.0,385.0L306.3,384.9L306.5,384.8L306.7,384.7L306.9,384.6L307.1,384.5L307.3,384.4L307.5,384.3L307.7,384.2L308.0,384.1L308.2,384.0L308.4,384.0L308.6,383.9L308.8,383.8L309.0,383.7L309.2,383.6L309.4,383.5L309.7,383.4L309.9,383.4L310.1,383.3L310.3,383.2L310.5,383.1" fill="none" stroke="#111" stroke-width="1.0" stroke-linejoin="round"/>
<path d="M60.60,270.50V456.00H310.50" fill="none" stroke="#555555" stroke-width="1.0"/>
<path d="M60.60,270.50H310.50" fill="none" stroke="#555555" stroke-width="1.0"/>
<path d="M310.50,270.50V456.00" fill="none" stroke="#555555" stroke-width="1.0"/>
<path d="M60.60,270.50h-3.60M60.60,287.36h-3.60M60.60,304.23h-3.60M60.60,321.09h-3.60M60.60,337.95h-3.60M60.60,354.82h-3.60M60.60,371.68h-3.60M60.60,388.55h-3.60M60.60,405.41h-3.60M60.60,422.27h-3.60M60.60,439.14h-3.60M60.60,456.00h-3.60M60.60,447.57h-2.20M60.60,430.70h-2.20M60.60,413.84h-2.20M60.60,396.98h-2.20M60.60,380.11h-2.20M60.60,363.25h-2.20M60.60,346.39h-2.20M60.60,329.52h-2.20M60.60,312.66h-2.20M60.60,295.80h-2.20M60.60,278.93h-2.20" stroke="#555555" stroke-width="1.0" fill="none"/>
<text x="54.60" y="274.10" text-anchor="end" font-family='"Liberation Sans", sans-serif' font-size="10.0" fill="#111" stroke="#111" stroke-width="0.22">10</text>
<text x="54.60" y="290.96" text-anchor="end" font-family='"Liberation Sans", sans-serif' font-size="10.0" fill="#111" stroke="#111" stroke-width="0.22">5</text>
<text x="54.60" y="307.83" text-anchor="end" font-family='"Liberation Sans", sans-serif' font-size="10.0" fill="#111" stroke="#111" stroke-width="0.22">0</text>
<text x="54.60" y="324.69" text-anchor="end" font-family='"Liberation Sans", sans-serif' font-size="10.0" fill="#111" stroke="#111" stroke-width="0.22">-5</text>
<text x="54.60" y="341.55" text-anchor="end" font-family='"Liberation Sans", sans-serif' font-size="10.0" fill="#111" stroke="#111" stroke-width="0.22">-10</text>
<text x="54.60" y="358.42" text-anchor="end" font-family='"Liberation Sans", sans-serif' font-size="10.0" fill="#111" stroke="#111" stroke-width="0.22">-15</text>
<text x="54.60" y="375.28" text-anchor="end" font-family='"Liberation Sans", sans-serif' font-size="10.0" fill="#111" stroke="#111" stroke-width="0.22">-20</text>
<text x="54.60" y="392.15" text-anchor="end" font-family='"Liberation Sans", sans-serif' font-size="10.0" fill="#111" stroke="#111" stroke-width="0.22">-25</text>
<text x="54.60" y="409.01" text-anchor="end" font-family='"Liberation Sans", sans-serif' font-size="10.0" fill="#111" stroke="#111" stroke-width="0.22">-30</text>
<text x="54.60" y="425.87" text-anchor="end" font-family='"Liberation Sans", sans-serif' font-size="10.0" fill="#111" stroke="#111" stroke-width="0.22">-35</text>
<text x="54.60" y="442.74" text-anchor="end" font-family='"Liberation Sans", sans-serif' font-size="10.0" fill="#111" stroke="#111" stroke-width="0.22">-40</text>
<text x="54.60" y="459.60" text-anchor="end" font-family='"Liberation Sans", sans-serif' font-size="10.0" fill="#111" stroke="#111" stroke-width="0.22">-45</text>
<path d="M60.60,456.00v3.60M102.25,456.00v3.60M143.90,456.00v3.60M185.55,456.00v3.60M227.20,456.00v3.60M268.85,456.00v3.60M310.50,456.00v3.60M81.42,456.00v2.20M123.08,456.00v2.20M164.72,456.00v2.20M206.38,456.00v2.20M248.03,456.00v2.20M289.68,456.00v2.20" stroke="#555555" stroke-width="1.0" fill="none"/>
<text x="60.60" y="470.00" text-anchor="middle" font-family='"Liberation Sans", sans-serif' font-size="10.0" fill="#111" stroke="#111" stroke-width="0.22">-60</text>
<text x="102.25" y="470.00" text-anchor="middle" font-family='"Liberation Sans", sans-serif' font-size="10.0" fill="#111" stroke="#111" stroke-width="0.22">-40</text>
<text x="143.90" y="470.00" text-anchor="middle" font-family='"Liberation Sans", sans-serif' font-size="10.0" fill="#111" stroke="#111" stroke-width="0.22">-20</text>
<text x="185.55" y="470.00" text-anchor="middle" font-family='"Liberation Sans", sans-serif' font-size="10.0" fill="#111" stroke="#111" stroke-width="0.22">0</text>
<text x="227.20" y="470.00" text-anchor="middle" font-family='"Liberation Sans", sans-serif' font-size="10.0" fill="#111" stroke="#111" stroke-width="0.22">20</text>
<text x="268.85" y="470.00" text-anchor="middle" font-family='"Liberation Sans", sans-serif' font-size="10.0" fill="#111" stroke="#111" stroke-width="0.22">40</text>
<text x="310.50" y="470.00" text-anchor="middle" font-family='"Liberation Sans", sans-serif' font-size="10.0" fill="#111" stroke="#111" stroke-width="0.22">60</text>
<text x="185.50" y="490.00" text-anchor="middle" font-family='"Liberation Serif", serif' font-size="13.8" font-weight="bold" fill="#000"><tspan font-style="italic">φ</tspan> (degree)</text>
<text x="29.40" y="362.00" text-anchor="middle" font-family='"Liberation Serif", serif' font-size="14.1" font-weight="bold" fill="#000" transform="rotate(-90 29.40 362.00)">Monostatic RCS (dBm<tspan font-size="9" baseline-shift="super">2</tspan>)</text>
<path d="M63.4,276.4H85.8" stroke="#111" stroke-width="1"/>
<path d="M63.4,289.2H85.8" stroke="#ff1a1a" stroke-width="1"/>
<text x="88.80" y="280.00" text-anchor="start" font-family='"Liberation Serif", serif' font-size="9.85" fill="#000">PEC</text>
<text x="88.00" y="292.70" text-anchor="start" font-family='"Liberation Serif", serif' font-size="9.85" fill="#000"><tspan>Er</tspan><tspan font-size="6.30" baseline-shift="-4.24">2</tspan><tspan>Zr</tspan><tspan font-size="6.30" baseline-shift="-4.24">2</tspan><tspan>O</tspan><tspan font-size="6.30" baseline-shift="-4.24">7</tspan>/<tspan>Gd</tspan><tspan font-size="6.30" baseline-shift="-4.24">2</tspan><tspan>Zr</tspan><tspan font-size="6.30" baseline-shift="-4.24">2</tspan><tspan>O</tspan><tspan font-size="6.30" baseline-shift="-4.24">7</tspan> (0.4 mm/0.732 mm)</text>
<text x="307.20" y="281.60" text-anchor="end" font-family='"Liberation Serif", serif' font-size="9.85" fill="#000">10.405 GHz</text>
<path d="M398.5,449.8L398.7,449.9L398.9,450.0L399.1,450.1L399.3,450.2L399.5,450.4L399.7,450.5L400.0,450.6L400.2,450.8L400.4,450.9L400.6,451.1L400.8,451.2L401.0,451.3L401.2,451.4L401.4,451.6L401.6,451.7L401.8,451.8L402.0,451.9L402.2,451.9L402.5,452.0L402.7,452.0L402.9,452.1L403.1,452.1L403.3,452.1L403.5,452.1L403.7,452.0L403.9,452.0L404.1,451.9L404.3,451.8L404.5,451.7L404.7,451.6L405.0,451.5L405.2,451.3L405.4,451.2L405.6,451.0L405.8,450.8L406.0,450.5L406.2,450.3L406.4,450.0L406.6,449.7L406.8,449.4L407.0,449.1L407.2,448.7L407.5,448.4L407.7,448.0L407.9,447.6L408.1,447.1L408.3,446.7L408.5,446.2L408.7,445.7L408.9,445.2L409.1,444.7L409.3,444.1L409.5,443.5L409.7,442.9L410.0,442.3L410.2,441.6L410.4,441.0L410.6,440.3L410.8,439.6L411.0,438.8L411.2,438.1L411.4,437.3L411.6,436.6L411.8,435.8L412.0,435.0L412.2,434.2L412.5,433.4L412.7,432.6L412.9,431.8L413.1,431.0L413.3,430.2L413.5,429.4L413.7,428.7L413.9,428.0L414.1,427.3L414.3,426.6L414.5,426.0L414.7,425.5L415.0,425.0L415.2,424.5L415.4,424.2L415.6,423.9L415.8,423.6L416.0,423.5L416.2,423.4L416.4,423.4L416.6,423.5L416.8,423.7L417.0,424.0L417.2,424.4L417.5,424.8L417.7,425.3L417.9,425.8L418.1,426.4L418.3,427.0L418.5,427.7L418.7,428.3L418.9,429.0L419.1,429.7L419.3,430.4L419.5,431.1L419.7,431.9L419.9,432.6L420.2,433.3L420.4,434.0L420.6,434.6L420.8,435.3L421.0,436.0L421.2,436.6L421.4,437.2L421.6,437.9L421.8,438.5L422.0,439.0L422.2,439.6L422.4,440.1L422.7,440.7L422.9,441.2L423.1,441.7L423.3,442.2L423.5,442.6L423.7,443.1L423.9,443.5L424.1,443.9L424.3,444.4L424.5,444.7L424.7,445.1L424.9,445.5L425.2,445.8L425.4,446.2L425.6,446.5L425.8,446.8L426.0,447.1L426.2,447.4L426.4,447.6L426.6,447.9L426.8,448.1L427.0,448.3L427.2,448.5L427.4,448.7L427.7,448.8L427.9,449.0L428.1,449.1L428.3,449.2L428.5,449.3L428.7,449.4L428.9,449.4L429.1,449.4L429.3,449.4L429.5,449.4L429.7,449.4L429.9,449.3L430.2,449.2L430.4,449.0L430.6,448.9L430.8,448.7L431.0,448.4L431.2,448.1L431.4,447.8L431.6,447.5L431.8,447.1L432.0,446.6L432.2,446.2L432.4,445.7L432.7,445.1L432.9,444.5L433.1,443.9L433.3,443.3L433.5,442.5L433.7,441.8L433.9,441.0L434.1,440.2L434.3,439.3L434.5,438.4L434.7,437.5L434.9,436.5L435.2,435.4L435.4,434.3L435.6,433.2L435.8,432.0L436.0,430.8L436.2,429.5L436.4,428.2L436.6,426.8L436.8,425.4L437.0,423.9L437.2,422.4L437.4,420.8L437.7,419.2L437.9,417.6L438.1,416.0L438.3,414.4L438.5,412.7L438.7,411.1L438.9,409.5L439.1,408.1L439.3,406.7L439.5,405.5L439.7,404.6L439.9,403.8L440.1,403.3L440.4,403.2L440.6,403.3L440.8,403.7L441.0,404.4L441.2,405.4L441.4,406.5L441.6,407.9L441.8,409.3L442.0,410.8L442.2,412.4L442.4,414.0L442.6,415.6L442.9,417.3L443.1,418.9L443.3,420.4L443.5,422.0L443.7,423.5L443.9,425.0L444.1,426.4L444.3,427.8L444.5,429.2L444.7,430.5L444.9,431.7L445.1,433.0L445.4,434.2L445.6,435.3L445.8,436.4L446.0,437.5L446.2,438.5L446.4,439.5L446.6,440.4L446.8,441.4L447.0,442.2L447.2,443.1L447.4,443.9L447.6,444.6L447.9,445.4L448.1,446.1L448.3,446.7L448.5,447.3L448.7,447.9L448.9,448.5L449.1,449.0L449.3,449.4L449.5,449.8L449.7,450.2L449.9,450.5L450.1,450.5L450.4,450.4L450.6,450.2L450.8,450.0L451.0,449.7L451.2,449.3L451.4,448.9L451.6,448.5L451.8,448.0L452.0,447.5L452.2,446.9L452.4,446.3L452.6,445.6L452.9,444.9L453.1,444.2L453.3,443.4L453.5,442.6L453.7,441.8L453.9,440.9L454.1,440.0L454.3,439.1L454.5,438.1L454.7,437.1L454.9,436.0L455.1,435.0L455.4,433.8L455.6,432.7L455.8,431.4L456.0,430.2L456.2,428.9L456.4,427.6L456.6,426.2L456.8,424.7L457.0,423.2L457.2,421.6L457.4,420.0L457.6,418.3L457.9,416.6L458.1,414.8L458.3,412.9L458.5,410.9L458.7,408.8L458.9,406.7L459.1,404.4L459.3,402.1L459.5,399.7L459.7,397.3L459.9,394.8L460.1,392.4L460.4,390.0L460.6,387.8L460.8,385.8L461.0,384.3L461.2,383.4L461.4,383.0L461.6,383.4L461.8,384.5L462.0,386.2L462.2,388.4L462.4,390.8L462.6,393.4L462.8,396.1L463.1,398.8L463.3,401.4L463.5,404.0L463.7,406.6L463.9,409.0L464.1,411.4L464.3,413.6L464.5,415.8L464.7,417.9L464.9,420.0L465.1,421.9L465.3,423.8L465.6,425.7L465.8,427.5L466.0,429.2L466.2,430.9L466.4,432.5L466.6,434.1L466.8,435.6L467.0,437.1L467.2,438.5L467.4,439.9L467.6,441.2L467.8,442.5L468.1,443.7L468.3,444.9L468.5,446.0L468.7,447.0L468.9,448.0L469.1,448.9L469.3,449.7L469.5,450.4L469.7,450.9L469.9,450.7L470.1,450.2L470.3,449.6L470.6,448.9L470.8,448.0L471.0,447.1L471.2,446.2L471.4,445.1L471.6,444.0L471.8,442.9L472.0,441.7L472.2,440.5L472.4,439.2L472.6,437.9L472.8,436.5L473.1,435.2L473.3,433.7L473.5,432.3L473.7,430.8L473.9,429.3L474.1,427.7L474.3,426.1L474.5,424.5L474.7,422.8L474.9,421.0L475.1,419.2L475.3,417.4L475.6,415.5L475.8,413.5L476.0,411.5L476.2,409.3L476.4,407.1L476.6,404.8L476.8,402.4L477.0,399.8L477.2,397.2L477.4,394.4L477.6,391.4L477.8,388.3L478.1,385.0L478.3,381.6L478.5,378.0L478.7,374.3L478.9,370.7L479.1,367.2L479.3,364.2L479.5,362.2L479.7,361.4L479.9,361.9L480.1,363.5L480.3,366.0L480.6,369.0L480.8,372.2L481.0,375.6L481.2,378.9L481.4,382.1L481.6,385.3L481.8,388.3L482.0,391.2L482.2,393.9L482.4,396.6L482.6,399.2L482.8,401.7L483.0,404.1L483.3,406.5L483.5,408.8L483.7,411.0L483.9,413.2L484.1,415.4L484.3,417.5L484.5,419.6L484.7,421.6L484.9,423.7L485.1,425.7L485.3,427.7L485.5,429.7L485.8,431.6L486.0,433.6L486.2,435.5L486.4,437.4L486.6,439.3L486.8,441.1L487.0,442.9L487.2,444.6L487.4,446.2L487.6,447.7L487.8,449.1L488.0,450.3L488.3,451.2L488.5,450.3L488.7,448.9L488.9,447.3L489.1,445.4L489.3,443.5L489.5,441.5L489.7,439.5L489.9,437.5L490.1,435.4L490.3,433.3L490.5,431.3L490.8,429.2L491.0,427.2L491.2,425.1L491.4,423.1L491.6,421.1L491.8,419.0L492.0,417.0L492.2,415.0L492.4,413.0L492.6,410.9L492.8,408.9L493.0,406.8L493.3,404.7L493.5,402.6L493.7,400.5L493.9,398.3L494.1,396.1L494.3,393.8L494.5,391.5L494.7,389.1L494.9,386.6L495.1,384.1L495.3,381.4L495.5,378.6L495.8,375.7L496.0,372.6L496.2,369.4L496.4,365.9L496.6,362.2L496.8,358.2L497.0,354.0L497.2,349.5L497.4,344.9L497.6,340.2L497.8,336.0L498.0,332.9L498.3,331.7L498.5,333.0L498.7,336.5L498.9,341.2L499.1,346.2L499.3,351.2L499.5,355.9L499.7,360.3L499.9,364.3L500.1,368.1L500.3,371.7L500.5,375.1L500.8,378.2L501.0,381.3L501.2,384.2L501.4,386.9L501.6,389.6L501.8,392.2L502.0,394.8L502.2,397.2L502.4,399.7L502.6,402.1L502.8,404.4L503.0,406.8L503.2,409.1L503.5,411.4L503.7,413.7L503.9,415.9L504.1,418.2L504.3,420.5L504.5,422.8L504.7,425.0L504.9,427.3L505.1,429.5L505.3,431.7L505.5,433.9L505.7,436.0L506.0,438.1L506.2,440.0L506.4,441.6L506.6,442.9L506.8,441.6L507.0,437.7L507.2,433.3L507.4,428.9L507.6,424.7L507.8,420.6L508.0,416.7L508.2,412.9L508.5,409.3L508.7,405.8L508.9,402.4L509.1,399.2L509.3,396.0L509.5,392.9L509.7,389.8L509.9,386.8L510.1,383.8L510.3,380.9L510.5,378.0L510.7,375.0L511.0,372.1L511.2,369.1L511.4,366.1L511.6,363.1L511.8,360.0L512.0,356.8L512.2,353.6L512.4,350.2L512.6,346.8L512.8,343.2L513.0,339.4L513.2,335.5L513.5,331.3L513.7,326.9L513.9,322.2L514.1,317.3L514.3,312.0L514.5,306.5L514.7,300.9L514.9,295.8L515.1,291.7L515.3,289.7L515.5,290.3L515.7,293.1L516.0,297.0L516.2,301.2L516.4,305.4L516.6,309.2L516.8,312.7L517.0,315.9L517.2,318.8L517.4,321.3L517.6,323.7L517.8,325.8L518.0,327.8L518.2,329.5L518.5,331.1L518.7,332.6L518.9,334.0L519.1,335.2L519.3,336.4L519.5,337.5L519.7,338.4L519.9,339.3L520.1,340.1L520.3,340.9L520.5,341.6L520.7,342.2L521.0,342.8L521.2,343.3L521.4,343.7L521.6,344.2L521.8,344.5L522.0,344.8L522.2,345.1L522.4,345.3L522.6,345.5L522.8,345.7L523.0,345.8L523.2,345.8L523.5,345.9L523.7,345.8L523.9,345.8L524.1,345.7L524.3,345.5L524.5,345.3L524.7,345.1L524.9,344.8L525.1,344.5L525.3,344.2L525.5,343.7L525.7,343.3L525.9,342.8L526.2,342.2L526.4,341.6L526.6,340.9L526.8,340.1L527.0,339.3L527.2,338.4L527.4,337.5L527.6,336.4L527.8,335.2L528.0,334.0L528.2,332.6L528.4,331.1L528.7,329.5L528.9,327.8L529.1,325.8L529.3,323.7L529.5,321.3L529.7,318.8L529.9,315.9L530.1,312.7L530.3,309.2L530.5,305.4L530.7,301.2L530.9,297.0L531.2,293.1L531.4,290.3L531.6,289.7L531.8,291.7L532.0,295.8L532.2,300.9L532.4,306.5L532.6,312.0L532.8,317.3L533.0,322.2L533.2,326.9L533.4,331.3L533.7,335.5L533.9,339.4L534.1,343.2L534.3,346.8L534.5,350.2L534.7,353.6L534.9,356.8L535.1,360.0L535.3,363.1L535.5,366.1L535.7,369.1L535.9,372.1L536.2,375.0L536.4,378.0L536.6,380.9L536.8,383.8L537.0,386.8L537.2,389.8L537.4,392.9L537.6,396.0L537.8,399.2L538.0,402.4L538.2,405.8L538.4,409.3L538.7,412.9L538.9,416.7L539.1,420.6L539.3,424.7L539.5,428.9L539.7,433.3L539.9,437.7L540.1,441.6L540.3,442.9L540.5,441.6L540.7,440.0L540.9,438.1L541.2,436.0L541.4,433.9L541.6,431.7L541.8,429.5L542.0,427.3L542.2,425.0L542.4,422.8L542.6,420.5L542.8,418.2L543.0,415.9L543.2,413.7L543.4,411.4L543.7,409.1L543.9,406.8L544.1,404.4L544.3,402.1L544.5,399.7L544.7,397.2L544.9,394.8L545.1,392.2L545.3,389.6L545.5,386.9L545.7,384.2L545.9,381.3L546.1,378.2L546.4,375.1L546.6,371.7L546.8,368.1L547.0,364.3L547.2,360.3L547.4,355.9L547.6,351.2L547.8,346.2L548.0,341.2L548.2,336.5L548.4,333.0L548.6,331.7L548.9,332.9L549.1,336.0L549.3,340.2L549.5,344.9L549.7,349.5L549.9,354.0L550.1,358.2L550.3,362.2L550.5,365.9L550.7,369.4L550.9,372.6L551.1,375.7L551.4,378.6L551.6,381.4L551.8,384.1L552.0,386.6L552.2,389.1L552.4,391.5L552.6,393.8L552.8,396.1L553.0,398.3L553.2,400.5L553.4,402.6L553.6,404.7L553.9,406.8L554.1,408.9L554.3,410.9L554.5,413.0L554.7,415.0L554.9,417.0L555.1,419.0L555.3,421.1L555.5,423.1L555.7,425.1L555.9,427.2L556.1,429.2L556.4,431.3L556.6,433.3L556.8,435.4L557.0,437.5L557.2,439.5L557.4,441.5L557.6,443.5L557.8,445.4L558.0,447.3L558.2,448.9L558.4,450.3L558.6,451.2L558.9,450.3L559.1,449.1L559.3,447.7L559.5,446.2L559.7,444.6L559.9,442.9L560.1,441.1L560.3,439.3L560.5,437.4L560.7,435.5L560.9,433.6L561.1,431.6L561.4,429.7L561.6,427.7L561.8,425.7L562.0,423.7L562.2,421.6L562.4,419.6L562.6,417.5L562.8,415.4L563.0,413.2L563.2,411.0L563.4,408.8L563.6,406.5L563.9,404.1L564.1,401.7L564.3,399.2L564.5,396.6L564.7,393.9L564.9,391.2L565.1,388.3L565.3,385.3L565.5,382.1L565.7,378.9L565.9,375.6L566.1,372.2L566.3,369.0L566.6,366.0L566.8,363.5L567.0,361.9L567.2,361.4L567.4,362.2L567.6,364.2L567.8,367.2L568.0,370.7L568.2,374.3L568.4,378.0L568.6,381.6L568.8,385.0L569.1,388.3L569.3,391.4L569.5,394.4L569.7,397.2L569.9,399.8L570.1,402.4L570.3,404.8L570.5,407.1L570.7,409.3L570.9,411.5L571.1,413.5L571.3,415.5L571.6,417.4L571.8,419.2L572.0,421.0L572.2,422.8L572.4,424.5L572.6,426.1L572.8,427.7L573.0,429.3L573.2,430.8L573.4,432.3L573.6,433.7L573.8,435.2L574.1,436.5L574.3,437.9L574.5,439.2L574.7,440.5L574.9,441.7L575.1,442.9L575.3,444.0L575.5,445.1L575.7,446.2L575.9,447.1L576.1,448.0L576.3,448.9L576.6,449.6L576.8,450.2L577.0,450.7L577.2,450.9L577.4,450.4L577.6,449.7L577.8,448.9L578.0,448.0L578.2,447.0L578.4,446.0L578.6,444.9L578.8,443.7L579.1,442.5L579.3,441.2L579.5,439.9L579.7,438.5L579.9,437.1L580.1,435.6L580.3,434.1L580.5,432.5L580.7,430.9L580.9,429.2L581.1,427.5L581.3,425.7L581.6,423.8L581.8,421.9L582.0,420.0L582.2,417.9L582.4,415.8L582.6,413.6L582.8,411.4L583.0,409.0L583.2,406.6L583.4,404.0L583.6,401.4L583.8,398.8L584.1,396.1L584.3,393.4L584.5,390.8L584.7,388.4L584.9,386.2L585.1,384.5L585.3,383.4L585.5,383.0L585.7,383.4L585.9,384.3L586.1,385.8L586.3,387.8L586.5,390.0L586.8,392.4L587.0,394.8L587.2,397.3L587.4,399.7L587.6,402.1L587.8,404.4L588.0,406.7L588.2,408.8L588.4,410.9L588.6,412.9L588.8,414.8L589.0,416.6L589.3,418.3L589.5,420.0L589.7,421.6L589.9,423.2L590.1,424.7L590.3,426.2L590.5,427.6L590.7,428.9L590.9,430.2L591.1,431.4L591.3,432.7L591.5,433.8L591.8,435.0L592.0,436.0L592.2,437.1L592.4,438.1L592.6,439.1L592.8,440.0L593.0,440.9L593.2,441.8L593.4,442.6L593.6,443.4L593.8,444.2L594.0,444.9L594.3,445.6L594.5,446.3L594.7,446.9L594.9,447.5L595.1,448.0L595.3,448.5L595.5,448.9L595.7,449.3L595.9,449.7L596.1,450.0L596.3,450.2L596.5,450.4L596.8,450.5L597.0,450.5L597.2,450.2L597.4,449.8L597.6,449.4L597.8,449.0L598.0,448.5L598.2,447.9L598.4,447.3L598.6,446.7L598.8,446.1L599.0,445.4L599.3,444.6L599.5,443.9L599.7,443.1L599.9,442.2L600.1,441.4L600.3,440.4L600.5,439.5L600.7,438.5L600.9,437.5L601.1,436.4L601.3,435.3L601.5,434.2L601.8,433.0L602.0,431.7L602.2,430.5L602.4,429.2L602.6,427.8L602.8,426.4L603.0,425.0L603.2,423.5L603.4,422.0L603.6,420.4L603.8,418.9L604.0,417.3L604.3,415.6L604.5,414.0L604.7,412.4L604.9,410.8L605.1,409.3L605.3,407.9L605.5,406.5L605.7,405.4L605.9,404.4L606.1,403.7L606.3,403.3L606.5,403.2L606.8,403.3L607.0,403.8L607.2,404.6L607.4,405.5L607.6,406.7L607.8,408.1L608.0,409.5L608.2,411.1L608.4,412.7L608.6,414.4L608.8,416.0L609.0,417.6L609.2,419.2L609.5,420.8L609.7,422.4L609.9,423.9L610.1,425.4L610.3,426.8L610.5,428.2L610.7,429.5L610.9,430.8L611.1,432.0L611.3,433.2L611.5,434.3L611.7,435.4L612.0,436.5L612.2,437.5L612.4,438.4L612.6,439.3L612.8,440.2L613.0,441.0L613.2,441.8L613.4,442.5L613.6,443.3L613.8,443.9L614.0,444.5L614.2,445.1L614.5,445.7L614.7,446.2L614.9,446.6L615.1,447.1L615.3,447.5L615.5,447.8L615.7,448.1L615.9,448.4L616.1,448.7L616.3,448.9L616.5,449.0L616.7,449.2L617.0,449.3L617.2,449.4L617.4,449.4L617.6,449.4L617.8,449.4L618.0,449.4L618.2,449.4L618.4,449.3L618.6,449.2L618.8,449.1L619.0,449.0L619.2,448.8L619.5,448.7L619.7,448.5L619.9,448.3L620.1,448.1L620.3,447.9L620.5,447.6L620.7,447.4L620.9,447.1L621.1,446.8L621.3,446.5L621.5,446.2L621.7,445.8L622.0,445.5L622.2,445.1L622.4,444.7L622.6,444.4L622.8,443.9L623.0,443.5L623.2,443.1L623.4,442.6L623.6,442.2L623.8,441.7L624.0,441.2L624.2,440.7L624.5,440.1L624.7,439.6L624.9,439.0L625.1,438.5L625.3,437.9L625.5,437.2L625.7,436.6L625.9,436.0L626.1,435.3L626.3,434.6L626.5,434.0L626.7,433.3L627.0,432.6L627.2,431.9L627.4,431.1L627.6,430.4L627.8,429.7L628.0,429.0L628.2,428.3L628.4,427.7L628.6,427.0L628.8,426.4L629.0,425.8L629.2,425.3L629.4,424.8L629.7,424.4L629.9,424.0L630.1,423.7L630.3,423.5L630.5,423.4L630.7,423.4L630.9,423.5L631.1,423.6L631.3,423.9L631.5,424.2L631.7,424.5L631.9,425.0L632.2,425.5L632.4,426.0L632.6,426.6L632.8,427.3L633.0,428.0L633.2,428.7L633.4,429.4L633.6,430.2L633.8,431.0L634.0,431.8L634.2,432.6L634.4,433.4L634.7,434.2L634.9,435.0L635.1,435.8L635.3,436.6L635.5,437.3L635.7,438.1L635.9,438.8L636.1,439.6L636.3,440.3L636.5,441.0L636.7,441.6L636.9,442.3L637.2,442.9L637.4,443.5L637.6,444.1L637.8,444.7L638.0,445.2L638.2,445.7L638.4,446.2L638.6,446.7L638.8,447.1L639.0,447.6L639.2,448.0L639.4,448.4L639.7,448.7L639.9,449.1L640.1,449.4L640.3,449.7L640.5,450.0L640.7,450.3L640.9,450.5L641.1,450.8L641.3,451.0L641.5,451.2L641.7,451.3L641.9,451.5L642.2,451.6L642.4,451.7L642.6,451.8L642.8,451.9L643.0,452.0L643.2,452.0L643.4,452.1L643.6,452.1L643.8,452.1L644.0,452.1L644.2,452.0L644.4,452.0L644.7,451.9L644.9,451.9L645.1,451.8L645.3,451.7L645.5,451.6L645.7,451.4L645.9,451.3L646.1,451.2L646.3,451.1L646.5,450.9L646.7,450.8L646.9,450.6L647.2,450.5L647.4,450.4L647.6,450.2L647.8,450.1L648.0,450.0L648.2,449.9L648.4,449.8" fill="none" stroke="#111" stroke-width="1.0" stroke-linejoin="round"/>
<path d="M398.50,270.50V455.30H648.40" fill="none" stroke="#555555" stroke-width="1.0"/>
<path d="M398.50,270.50H648.40" fill="none" stroke="#555555" stroke-width="1.0"/>
<path d="M648.40,270.50V455.30" fill="none" stroke="#555555" stroke-width="1.0"/>
<path d="M398.50,455.30h-3.60M398.50,414.23h-3.60M398.50,373.17h-3.60M398.50,332.10h-3.60M398.50,291.03h-3.60M398.50,434.77h-2.20M398.50,393.70h-2.20M398.50,352.63h-2.20M398.50,311.57h-2.20M398.50,270.50h-2.20" stroke="#555555" stroke-width="1.0" fill="none"/>
<text x="392.50" y="458.90" text-anchor="end" font-family='"Liberation Sans", sans-serif' font-size="10.0" fill="#111" stroke="#111" stroke-width="0.22">0</text>
<text x="392.50" y="417.83" text-anchor="end" font-family='"Liberation Sans", sans-serif' font-size="10.0" fill="#111" stroke="#111" stroke-width="0.22">10</text>
<text x="392.50" y="376.77" text-anchor="end" font-family='"Liberation Sans", sans-serif' font-size="10.0" fill="#111" stroke="#111" stroke-width="0.22">20</text>
<text x="392.50" y="335.70" text-anchor="end" font-family='"Liberation Sans", sans-serif' font-size="10.0" fill="#111" stroke="#111" stroke-width="0.22">30</text>
<text x="392.50" y="294.63" text-anchor="end" font-family='"Liberation Sans", sans-serif' font-size="10.0" fill="#111" stroke="#111" stroke-width="0.22">40</text>
<path d="M398.50,455.30v3.60M440.15,455.30v3.60M481.80,455.30v3.60M523.45,455.30v3.60M565.10,455.30v3.60M606.75,455.30v3.60M648.40,455.30v3.60M419.32,455.30v2.20M460.98,455.30v2.20M502.62,455.30v2.20M544.27,455.30v2.20M585.92,455.30v2.20M627.57,455.30v2.20" stroke="#555555" stroke-width="1.0" fill="none"/>
<text x="398.50" y="469.30" text-anchor="middle" font-family='"Liberation Sans", sans-serif' font-size="10.0" fill="#111" stroke="#111" stroke-width="0.22">-60</text>
<text x="440.15" y="469.30" text-anchor="middle" font-family='"Liberation Sans", sans-serif' font-size="10.0" fill="#111" stroke="#111" stroke-width="0.22">-40</text>
<text x="481.80" y="469.30" text-anchor="middle" font-family='"Liberation Sans", sans-serif' font-size="10.0" fill="#111" stroke="#111" stroke-width="0.22">-20</text>
<text x="523.45" y="469.30" text-anchor="middle" font-family='"Liberation Sans", sans-serif' font-size="10.0" fill="#111" stroke="#111" stroke-width="0.22">0</text>
<text x="565.10" y="469.30" text-anchor="middle" font-family='"Liberation Sans", sans-serif' font-size="10.0" fill="#111" stroke="#111" stroke-width="0.22">20</text>
<text x="606.75" y="469.30" text-anchor="middle" font-family='"Liberation Sans", sans-serif' font-size="10.0" fill="#111" stroke="#111" stroke-width="0.22">40</text>
<text x="648.40" y="469.30" text-anchor="middle" font-family='"Liberation Sans", sans-serif' font-size="10.0" fill="#111" stroke="#111" stroke-width="0.22">60</text>
<text x="523.50" y="490.00" text-anchor="middle" font-family='"Liberation Serif", serif' font-size="13.8" font-weight="bold" fill="#000"><tspan font-style="italic">φ</tspan> (degree)</text>
<text x="366.60" y="362.50" text-anchor="middle" font-family='"Liberation Serif", serif' font-size="14.1" font-weight="bold" fill="#000" transform="rotate(-90 366.60 362.50)">Monostatic RCSR (dB)</text>
<path d="M400.2,278.3H422.6" stroke="#111" stroke-width="1"/>
<text x="425.20" y="282.10" text-anchor="start" font-family='"Liberation Serif", serif' font-size="9.85" fill="#000"><tspan>Er</tspan><tspan font-size="6.30" baseline-shift="-4.24">2</tspan><tspan>Zr</tspan><tspan font-size="6.30" baseline-shift="-4.24">2</tspan><tspan>O</tspan><tspan font-size="6.30" baseline-shift="-4.24">7</tspan>/<tspan>Gd</tspan><tspan font-size="6.30" baseline-shift="-4.24">2</tspan><tspan>Zr</tspan><tspan font-size="6.30" baseline-shift="-4.24">2</tspan><tspan>O</tspan><tspan font-size="6.30" baseline-shift="-4.24">7</tspan> (0.4 mm/0.732 mm)</text>
<text x="644.50" y="282.10" text-anchor="end" font-family='"Liberation Serif", serif' font-size="9.85" fill="#000">10.405 GHz</text>
<path d="M60.60,582.5H310.50" stroke="#222" stroke-width="1" stroke-dasharray="4 4" fill="none"/>
<path d="M60.6,613.8L60.8,613.8L61.0,613.8L61.2,613.7L61.4,613.7L61.6,613.7L61.8,613.7L62.1,613.7L62.3,613.6L62.5,613.6L62.7,613.6L62.9,613.6L63.1,613.5L63.3,613.5L63.5,613.5L63.7,613.5L63.9,613.4L64.1,613.4L64.3,613.4L64.6,613.4L64.8,613.3L65.0,613.3L65.2,613.3L65.4,613.3L65.6,613.3L65.8,613.2L66.0,613.2L66.2,613.2L66.4,613.2L66.6,613.1L66.8,613.1L67.1,613.1L67.3,613.1L67.5,613.1L67.7,613.1L67.9,613.0L68.1,613.0L68.3,613.0L68.5,613.0L68.7,613.0L68.9,613.0L69.1,613.0L69.3,613.0L69.6,612.9L69.8,612.9L70.0,612.9L70.2,612.9L70.4,612.9L70.6,612.9L70.8,612.9L71.0,613.0L71.2,613.0L71.4,613.0L71.7,613.0L71.9,613.1L72.1,613.1L72.3,613.2L72.5,613.2L72.7,613.3L72.9,613.3L73.1,613.4L73.3,613.5L73.5,613.5L73.8,613.6L74.0,613.7L74.2,613.8L74.4,613.9L74.6,614.0L74.8,614.2L75.0,614.3L75.2,614.4L75.4,614.5L75.6,614.7L75.9,614.8L76.1,615.0L76.3,615.1L76.5,615.3L76.7,615.5L76.9,615.7L77.1,615.8L77.3,616.0L77.5,616.2L77.8,616.5L78.0,616.7L78.2,616.9L78.4,617.1L78.6,617.4L78.8,617.6L79.0,617.9L79.2,618.2L79.4,618.4L79.6,618.7L79.9,619.0L80.1,619.3L80.3,619.7L80.5,620.0L80.7,620.3L80.9,620.7L81.1,621.1L81.3,621.4L81.5,621.8L81.8,622.2L82.0,622.6L82.2,623.1L82.4,623.5L82.6,624.0L82.8,624.5L83.0,625.0L83.2,625.5L83.4,626.1L83.6,626.6L83.9,627.2L84.1,627.8L84.3,628.5L84.5,629.1L84.7,629.8L84.9,630.5L85.1,631.3L85.3,632.1L85.5,632.9L85.8,633.8L86.0,634.7L86.2,635.7L86.4,636.8L86.6,637.9L86.8,639.1L87.0,640.3L87.2,641.7L87.4,643.2L87.6,644.8L87.9,646.5L88.1,648.5L88.3,650.6L88.5,653.0L88.7,655.8L88.9,659.0L89.1,662.8L89.3,667.3L89.5,672.8L89.8,678.9L90.0,682.3L90.2,682.0L90.4,680.4L90.6,677.2L90.8,673.3L91.0,669.2L91.2,665.4L91.4,661.9L91.6,658.7L91.8,655.8L92.0,653.2L92.3,650.8L92.5,648.6L92.7,646.5L92.9,644.6L93.1,642.8L93.3,641.1L93.5,639.6L93.7,638.1L93.9,636.7L94.1,635.4L94.3,634.1L94.5,632.9L94.8,631.8L95.0,630.7L95.2,629.6L95.4,628.6L95.6,627.7L95.8,626.8L96.0,625.9L96.2,625.0L96.4,624.2L96.6,623.4L96.8,622.6L97.0,621.9L97.3,621.2L97.5,620.5L97.7,619.8L97.9,619.1L98.1,618.5L98.3,617.9L98.5,617.3L98.7,616.7L98.9,616.1L99.1,615.6L99.3,615.1L99.5,614.5L99.8,614.0L100.0,613.5L100.2,613.1L100.4,612.6L100.6,612.1L100.8,611.7L101.0,611.3L101.2,610.8L101.4,610.4L101.6,610.0L101.8,609.6L102.0,609.3L102.2,608.9L102.5,608.5L102.7,608.2L102.9,607.8L103.1,607.5L103.3,607.2L103.5,606.9L103.7,606.6L103.9,606.2L104.1,606.0L104.3,605.7L104.5,605.4L104.7,605.1L105.0,604.8L105.2,604.6L105.4,604.3L105.6,604.1L105.8,603.8L106.0,603.6L106.2,603.4L106.4,603.2L106.6,602.9L106.8,602.7L107.0,602.5L107.2,602.3L107.5,602.1L107.7,601.9L107.9,601.8L108.1,601.6L108.3,601.4L108.5,601.2L108.7,601.1L108.9,600.9L109.1,600.8L109.3,600.6L109.5,600.5L109.7,600.3L110.0,600.2L110.2,600.1L110.4,600.0L110.6,599.8L110.8,599.7L111.0,599.6L111.2,599.5L111.4,599.4L111.6,599.3L111.8,599.2L112.0,599.1L112.2,599.1L112.5,599.0L112.7,598.9L112.9,598.8L113.1,598.8L113.3,598.7L113.5,598.7L113.7,598.6L113.9,598.6L114.1,598.5L114.3,598.5L114.5,598.4L114.7,598.4L115.0,598.4L115.2,598.4L115.4,598.3L115.6,598.3L115.8,598.3L116.0,598.3L116.2,598.3L116.4,598.3L116.6,598.3L116.8,598.3L117.0,598.3L117.3,598.4L117.5,598.4L117.7,598.4L117.9,598.4L118.1,598.5L118.3,598.5L118.5,598.6L118.7,598.6L118.9,598.7L119.1,598.7L119.4,598.8L119.6,598.8L119.8,598.9L120.0,599.0L120.2,599.0L120.4,599.1L120.6,599.2L120.8,599.3L121.0,599.4L121.3,599.5L121.5,599.6L121.7,599.7L121.9,599.8L122.1,599.9L122.3,600.0L122.5,600.2L122.7,600.3L122.9,600.4L123.1,600.6L123.4,600.7L123.6,600.9L123.8,601.0L124.0,601.2L124.2,601.3L124.4,601.5L124.6,601.7L124.8,601.8L125.0,602.0L125.2,602.2L125.5,602.4L125.7,602.6L125.9,602.8L126.1,603.0L126.3,603.2L126.5,603.4L126.7,603.7L126.9,603.9L127.1,604.1L127.3,604.4L127.6,604.6L127.8,604.9L128.0,605.1L128.2,605.4L128.4,605.7L128.6,605.9L128.8,606.2L129.0,606.5L129.2,606.8L129.5,607.1L129.7,607.4L129.9,607.7L130.1,608.0L130.3,608.4L130.5,608.7L130.7,609.0L130.9,609.4L131.1,609.7L131.3,610.1L131.6,610.4L131.8,610.8L132.0,611.1L132.2,611.5L132.4,611.9L132.6,612.2L132.8,612.6L133.0,613.0L133.2,613.3L133.4,613.7L133.7,614.1L133.9,614.4L134.1,614.8L134.3,615.1L134.5,615.5L134.7,615.8L134.9,616.1L135.1,616.4L135.3,616.7L135.6,616.9L135.8,617.2L136.0,617.4L136.2,617.6L136.4,617.8L136.6,617.9L136.8,618.0L137.0,618.1L137.2,618.2L137.4,618.2L137.7,618.1L137.9,617.9L138.1,617.6L138.3,617.3L138.5,616.8L138.7,616.3L138.9,615.8L139.1,615.3L139.3,614.7L139.5,614.2L139.7,613.8L139.9,613.4L140.2,613.0L140.4,612.6L140.6,612.2L140.8,611.8L141.0,611.4L141.2,611.1L141.5,610.7L141.7,610.3L141.9,609.9L142.1,609.5L142.3,609.1L142.6,608.8L142.8,608.4L143.0,608.0L143.2,607.7L143.4,607.3L143.6,607.0L143.9,606.6L144.1,606.3L144.3,606.0L144.5,605.7L144.7,605.4L144.9,605.1L145.2,604.8L145.4,604.5L145.6,604.2L145.8,604.0L146.0,603.7L146.2,603.4L146.4,603.2L146.7,602.9L146.9,602.7L147.1,602.4L147.3,602.2L147.5,601.9L147.7,601.7L148.0,601.5L148.2,601.2L148.4,601.0L148.6,600.8L148.8,600.6L149.0,600.3L149.2,600.1L149.5,599.9L149.7,599.7L149.9,599.5L150.1,599.3L150.3,599.1L150.5,599.0L150.7,598.8L151.0,598.6L151.2,598.4L151.4,598.3L151.6,598.1L151.8,597.9L152.0,597.8L152.2,597.6L152.4,597.5L152.6,597.4L152.9,597.2L153.1,597.1L153.3,596.9L153.5,596.8L153.7,596.7L153.9,596.5L154.1,596.4L154.3,596.3L154.5,596.2L154.7,596.1L154.9,595.9L155.1,595.8L155.4,595.7L155.6,595.6L155.8,595.5L156.0,595.4L156.2,595.3L156.4,595.2L156.6,595.1L156.8,595.0L157.0,594.9L157.2,594.8L157.4,594.7L157.6,594.6L157.9,594.5L158.1,594.4L158.3,594.3L158.5,594.2L158.7,594.2L158.9,594.1L159.1,594.0L159.3,593.9L159.5,593.9L159.7,593.8L159.9,593.7L160.1,593.6L160.4,593.6L160.6,593.5L160.8,593.4L161.0,593.4L161.2,593.3L161.4,593.3L161.6,593.2L161.8,593.2L162.0,593.1L162.2,593.0L162.4,593.0L162.6,592.9L162.9,592.9L163.1,592.9L163.3,592.8L163.5,592.8L163.7,592.7L163.9,592.7L164.1,592.6L164.3,592.6L164.5,592.6L164.7,592.5L164.9,592.5L165.1,592.4L165.3,592.4L165.6,592.4L165.8,592.3L166.0,592.3L166.2,592.3L166.4,592.3L166.6,592.2L166.8,592.2L167.0,592.2L167.2,592.1L167.4,592.1L167.6,592.1L167.8,592.1L168.1,592.0L168.3,592.0L168.5,592.0L168.7,592.0L168.9,591.9L169.1,591.9L169.3,591.9L169.5,591.9L169.7,591.8L169.9,591.8L170.1,591.8L170.3,591.8L170.6,591.7L170.8,591.7L171.0,591.7L171.2,591.7L171.4,591.6L171.6,591.6L171.8,591.6L172.0,591.6L172.2,591.5L172.4,591.5L172.6,591.5L172.8,591.5L173.1,591.4L173.3,591.4L173.5,591.4L173.7,591.4L173.9,591.3L174.1,591.3L174.3,591.3L174.5,591.2L174.7,591.2L174.9,591.2L175.1,591.2L175.3,591.1L175.6,591.1L175.8,591.1L176.0,591.0L176.2,591.0L176.4,591.0L176.6,591.0L176.8,590.9L177.0,590.9L177.2,590.9L177.4,590.9L177.6,590.8L177.8,590.8L178.1,590.8L178.3,590.8L178.5,590.7L178.7,590.7L178.9,590.7L179.1,590.7L179.3,590.6L179.5,590.6L179.7,590.6L179.9,590.6L180.1,590.5L180.3,590.5L180.6,590.5L180.8,590.5L181.0,590.5L181.2,590.4L181.4,590.4L181.6,590.4L181.8,590.4L182.0,590.4L182.2,590.4L182.4,590.3L182.6,590.3L182.8,590.3L183.1,590.3L183.3,590.3L183.5,590.3L183.7,590.3L183.9,590.3L184.1,590.3L184.3,590.3L184.5,590.3L184.7,590.2L184.9,590.2L185.1,590.2L185.3,590.2L185.6,590.2L185.8,590.2L186.0,590.2L186.2,590.2L186.4,590.2L186.6,590.3L186.8,590.3L187.0,590.3L187.2,590.3L187.4,590.3L187.6,590.3L187.8,590.3L188.0,590.3L188.3,590.3L188.5,590.3L188.7,590.3L188.9,590.4L189.1,590.4L189.3,590.4L189.5,590.4L189.7,590.4L189.9,590.4L190.1,590.5L190.3,590.5L190.5,590.5L190.8,590.5L191.0,590.5L191.2,590.6L191.4,590.6L191.6,590.6L191.8,590.6L192.0,590.7L192.2,590.7L192.4,590.7L192.6,590.7L192.8,590.8L193.0,590.8L193.3,590.8L193.5,590.8L193.7,590.9L193.9,590.9L194.1,590.9L194.3,590.9L194.5,591.0L194.7,591.0L194.9,591.0L195.1,591.0L195.3,591.1L195.5,591.1L195.8,591.1L196.0,591.2L196.2,591.2L196.4,591.2L196.6,591.2L196.8,591.3L197.0,591.3L197.2,591.3L197.4,591.4L197.6,591.4L197.8,591.4L198.0,591.4L198.3,591.5L198.5,591.5L198.7,591.5L198.9,591.5L199.1,591.6L199.3,591.6L199.5,591.6L199.7,591.6L199.9,591.7L200.1,591.7L200.3,591.7L200.5,591.7L200.8,591.8L201.0,591.8L201.2,591.8L201.4,591.8L201.6,591.9L201.8,591.9L202.0,591.9L202.2,591.9L202.4,592.0L202.6,592.0L202.8,592.0L203.0,592.0L203.3,592.1L203.5,592.1L203.7,592.1L203.9,592.1L204.1,592.2L204.3,592.2L204.5,592.2L204.7,592.3L204.9,592.3L205.1,592.3L205.3,592.3L205.5,592.4L205.8,592.4L206.0,592.4L206.2,592.5L206.4,592.5L206.6,592.6L206.8,592.6L207.0,592.6L207.2,592.7L207.4,592.7L207.6,592.8L207.8,592.8L208.0,592.9L208.2,592.9L208.5,592.9L208.7,593.0L208.9,593.0L209.1,593.1L209.3,593.2L209.5,593.2L209.7,593.3L209.9,593.3L210.1,593.4L210.3,593.4L210.5,593.5L210.7,593.6L211.0,593.6L211.2,593.7L211.4,593.8L211.6,593.9L211.8,593.9L212.0,594.0L212.2,594.1L212.4,594.2L212.6,594.2L212.8,594.3L213.0,594.4L213.2,594.5L213.5,594.6L213.7,594.7L213.9,594.8L214.1,594.9L214.3,595.0L214.5,595.1L214.7,595.2L214.9,595.3L215.1,595.4L215.3,595.5L215.5,595.6L215.7,595.7L216.0,595.8L216.2,595.9L216.4,596.1L216.6,596.2L216.8,596.3L217.0,596.4L217.2,596.5L217.4,596.7L217.6,596.8L217.8,596.9L218.0,597.1L218.2,597.2L218.5,597.4L218.7,597.5L218.9,597.6L219.1,597.8L219.3,597.9L219.5,598.1L219.7,598.3L219.9,598.4L220.1,598.6L220.4,598.8L220.6,599.0L220.8,599.1L221.0,599.3L221.2,599.5L221.4,599.7L221.6,599.9L221.9,600.1L222.1,600.3L222.3,600.6L222.5,600.8L222.7,601.0L222.9,601.2L223.1,601.5L223.4,601.7L223.6,601.9L223.8,602.2L224.0,602.4L224.2,602.7L224.4,602.9L224.7,603.2L224.9,603.4L225.1,603.7L225.3,604.0L225.5,604.2L225.7,604.5L225.9,604.8L226.2,605.1L226.4,605.4L226.6,605.7L226.8,606.0L227.0,606.3L227.2,606.6L227.5,607.0L227.7,607.3L227.9,607.7L228.1,608.0L228.3,608.4L228.5,608.8L228.8,609.1L229.0,609.5L229.2,609.9L229.4,610.3L229.6,610.7L229.9,611.1L230.1,611.4L230.3,611.8L230.5,612.2L230.7,612.6L230.9,613.0L231.2,613.4L231.4,613.8L231.6,614.2L231.8,614.7L232.0,615.3L232.2,615.8L232.4,616.3L232.6,616.8L232.8,617.3L233.0,617.6L233.2,617.9L233.4,618.1L233.7,618.2L233.9,618.2L234.1,618.1L234.3,618.0L234.5,617.9L234.7,617.8L234.9,617.6L235.1,617.4L235.3,617.2L235.5,616.9L235.8,616.7L236.0,616.4L236.2,616.1L236.4,615.8L236.6,615.5L236.8,615.1L237.0,614.8L237.2,614.4L237.4,614.1L237.7,613.7L237.9,613.3L238.1,613.0L238.3,612.6L238.5,612.2L238.7,611.9L238.9,611.5L239.1,611.1L239.3,610.8L239.5,610.4L239.8,610.1L240.0,609.7L240.2,609.4L240.4,609.0L240.6,608.7L240.8,608.4L241.0,608.0L241.2,607.7L241.4,607.4L241.6,607.1L241.9,606.8L242.1,606.5L242.3,606.2L242.5,605.9L242.7,605.7L242.9,605.4L243.1,605.1L243.3,604.9L243.5,604.6L243.8,604.4L244.0,604.1L244.2,603.9L244.4,603.7L244.6,603.4L244.8,603.2L245.0,603.0L245.2,602.8L245.4,602.6L245.6,602.4L245.9,602.2L246.1,602.0L246.3,601.8L246.5,601.7L246.7,601.5L246.9,601.3L247.1,601.2L247.3,601.0L247.5,600.9L247.7,600.7L248.0,600.6L248.2,600.4L248.4,600.3L248.6,600.2L248.8,600.0L249.0,599.9L249.2,599.8L249.4,599.7L249.6,599.6L249.8,599.5L250.1,599.4L250.3,599.3L250.5,599.2L250.7,599.1L250.9,599.0L251.1,599.0L251.3,598.9L251.5,598.8L251.7,598.8L252.0,598.7L252.2,598.7L252.4,598.6L252.6,598.6L252.8,598.5L253.0,598.5L253.2,598.4L253.4,598.4L253.6,598.4L253.8,598.4L254.1,598.3L254.3,598.3L254.5,598.3L254.7,598.3L254.9,598.3L255.1,598.3L255.3,598.3L255.5,598.3L255.7,598.3L255.9,598.4L256.1,598.4L256.4,598.4L256.6,598.4L256.8,598.5L257.0,598.5L257.2,598.6L257.4,598.6L257.6,598.7L257.8,598.7L258.0,598.8L258.2,598.8L258.4,598.9L258.6,599.0L258.9,599.1L259.1,599.1L259.3,599.2L259.5,599.3L259.7,599.4L259.9,599.5L260.1,599.6L260.3,599.7L260.5,599.8L260.7,600.0L260.9,600.1L261.1,600.2L261.4,600.3L261.6,600.5L261.8,600.6L262.0,600.8L262.2,600.9L262.4,601.1L262.6,601.2L262.8,601.4L263.0,601.6L263.2,601.8L263.4,601.9L263.6,602.1L263.9,602.3L264.1,602.5L264.3,602.7L264.5,602.9L264.7,603.2L264.9,603.4L265.1,603.6L265.3,603.8L265.5,604.1L265.7,604.3L265.9,604.6L266.1,604.8L266.4,605.1L266.6,605.4L266.8,605.7L267.0,606.0L267.2,606.2L267.4,606.6L267.6,606.9L267.8,607.2L268.0,607.5L268.2,607.8L268.4,608.2L268.6,608.5L268.9,608.9L269.1,609.3L269.3,609.6L269.5,610.0L269.7,610.4L269.9,610.8L270.1,611.3L270.3,611.7L270.5,612.1L270.7,612.6L270.9,613.1L271.1,613.5L271.3,614.0L271.6,614.5L271.8,615.1L272.0,615.6L272.2,616.1L272.4,616.7L272.6,617.3L272.8,617.9L273.0,618.5L273.2,619.1L273.4,619.8L273.6,620.5L273.8,621.2L274.1,621.9L274.3,622.6L274.5,623.4L274.7,624.2L274.9,625.0L275.1,625.9L275.3,626.8L275.5,627.7L275.7,628.6L275.9,629.6L276.1,630.7L276.3,631.8L276.6,632.9L276.8,634.1L277.0,635.4L277.2,636.7L277.4,638.1L277.6,639.6L277.8,641.1L278.0,642.8L278.2,644.6L278.4,646.5L278.6,648.6L278.8,650.8L279.1,653.2L279.3,655.8L279.5,658.7L279.7,661.9L279.9,665.4L280.1,669.2L280.3,673.3L280.5,677.2L280.7,680.4L280.9,682.0L281.1,682.3L281.3,678.9L281.6,672.8L281.8,667.3L282.0,662.8L282.2,659.0L282.4,655.8L282.6,653.0L282.8,650.6L283.0,648.5L283.2,646.5L283.5,644.8L283.7,643.2L283.9,641.7L284.1,640.3L284.3,639.1L284.5,637.9L284.7,636.8L284.9,635.7L285.1,634.7L285.3,633.8L285.6,632.9L285.8,632.1L286.0,631.3L286.2,630.5L286.4,629.8L286.6,629.1L286.8,628.5L287.0,627.8L287.2,627.2L287.5,626.6L287.7,626.1L287.9,625.5L288.1,625.0L288.3,624.5L288.5,624.0L288.7,623.5L288.9,623.1L289.1,622.6L289.3,622.2L289.6,621.8L289.8,621.4L290.0,621.1L290.2,620.7L290.4,620.3L290.6,620.0L290.8,619.7L291.0,619.3L291.2,619.0L291.5,618.7L291.7,618.4L291.9,618.2L292.1,617.9L292.3,617.6L292.5,617.4L292.7,617.1L292.9,616.9L293.1,616.7L293.3,616.5L293.6,616.2L293.8,616.0L294.0,615.8L294.2,615.7L294.4,615.5L294.6,615.3L294.8,615.1L295.0,615.0L295.2,614.8L295.5,614.7L295.7,614.5L295.9,614.4L296.1,614.3L296.3,614.2L296.5,614.0L296.7,613.9L296.9,613.8L297.1,613.7L297.3,613.6L297.6,613.5L297.8,613.5L298.0,613.4L298.2,613.3L298.4,613.3L298.6,613.2L298.8,613.2L299.0,613.1L299.2,613.1L299.4,613.0L299.7,613.0L299.9,613.0L300.1,613.0L300.3,612.9L300.5,612.9L300.7,612.9L300.9,612.9L301.1,612.9L301.3,612.9L301.5,612.9L301.8,613.0L302.0,613.0L302.2,613.0L302.4,613.0L302.6,613.0L302.8,613.0L303.0,613.0L303.2,613.0L303.4,613.1L303.6,613.1L303.8,613.1L304.0,613.1L304.3,613.1L304.5,613.1L304.7,613.2L304.9,613.2L305.1,613.2L305.3,613.2L305.5,613.3L305.7,613.3L305.9,613.3L306.1,613.3L306.3,613.3L306.5,613.4L306.8,613.4L307.0,613.4L307.2,613.4L307.4,613.5L307.6,613.5L307.8,613.5L308.0,613.5L308.2,613.6L308.4,613.6L308.6,613.6L308.8,613.6L309.0,613.7L309.3,613.7L309.5,613.7L309.7,613.7L309.9,613.7L310.1,613.8L310.3,613.8L310.5,613.8" fill="none" stroke="#ff1a1a" stroke-width="1.0" stroke-linejoin="round"/>
<path d="M60.6,597.3L60.8,597.2L61.0,597.0L61.2,596.8L61.4,596.7L61.6,596.5L61.8,596.3L62.1,596.1L62.3,595.9L62.5,595.8L62.7,595.6L62.9,595.4L63.1,595.2L63.3,595.0L63.5,594.8L63.7,594.6L63.9,594.4L64.1,594.2L64.3,594.0L64.6,593.8L64.8,593.6L65.0,593.4L65.2,593.2L65.4,593.0L65.6,592.8L65.8,592.6L66.0,592.4L66.2,592.2L66.4,592.0L66.6,591.8L66.8,591.6L67.1,591.4L67.3,591.2L67.5,590.9L67.7,590.7L67.9,590.5L68.1,590.3L68.3,590.1L68.5,589.9L68.7,589.7L68.9,589.4L69.1,589.2L69.3,589.0L69.6,588.8L69.8,588.6L70.0,588.3L70.2,588.1L70.4,587.9L70.6,587.7L70.8,587.5L71.0,587.2L71.2,587.0L71.4,586.8L71.6,586.6L71.8,586.4L72.1,586.1L72.3,585.9L72.5,585.7L72.7,585.5L72.9,585.3L73.1,585.0L73.3,584.8L73.5,584.6L73.7,584.4L73.9,584.2L74.1,584.0L74.3,583.7L74.6,583.5L74.8,583.3L75.0,583.1L75.2,582.9L75.4,582.7L75.6,582.5L75.8,582.3L76.0,582.1L76.2,581.9L76.4,581.6L76.6,581.4L76.8,581.2L77.1,581.0L77.3,580.8L77.5,580.6L77.7,580.4L77.9,580.2L78.1,580.0L78.3,579.8L78.5,579.7L78.7,579.5L78.9,579.3L79.1,579.1L79.3,578.9L79.6,578.7L79.8,578.5L80.0,578.4L80.2,578.2L80.4,578.0L80.6,577.8L80.8,577.7L81.0,577.5L81.2,577.3L81.4,577.1L81.6,577.0L81.8,576.8L82.0,576.7L82.3,576.5L82.5,576.4L82.7,576.2L82.9,576.0L83.1,575.9L83.3,575.8L83.5,575.6L83.7,575.5L83.9,575.3L84.1,575.2L84.3,575.1L84.5,574.9L84.8,574.8L85.0,574.7L85.2,574.6L85.4,574.5L85.6,574.3L85.8,574.2L86.0,574.1L86.2,574.0L86.4,573.9L86.6,573.8L86.8,573.7L87.0,573.6L87.3,573.5L87.5,573.5L87.7,573.4L87.9,573.3L88.1,573.2L88.3,573.2L88.5,573.1L88.7,573.0L88.9,573.0L89.1,572.9L89.3,572.9L89.5,572.8L89.8,572.8L90.0,572.7L90.2,572.7L90.4,572.7L90.6,572.6L90.8,572.6L91.0,572.6L91.2,572.6L91.4,572.6L91.6,572.6L91.8,572.6L92.0,572.6L92.3,572.6L92.5,572.6L92.7,572.6L92.9,572.6L93.1,572.6L93.3,572.7L93.5,572.7L93.7,572.7L93.9,572.8L94.1,572.8L94.3,572.9L94.5,573.0L94.8,573.0L95.0,573.1L95.2,573.2L95.4,573.2L95.6,573.3L95.8,573.4L96.0,573.5L96.2,573.6L96.4,573.7L96.6,573.8L96.8,573.9L97.0,574.0L97.3,574.1L97.5,574.3L97.7,574.4L97.9,574.5L98.1,574.7L98.3,574.8L98.5,575.0L98.7,575.1L98.9,575.3L99.1,575.5L99.3,575.6L99.5,575.8L99.8,576.0L100.0,576.2L100.2,576.4L100.4,576.6L100.6,576.8L100.8,577.0L101.0,577.2L101.2,577.4L101.4,577.6L101.6,577.9L101.8,578.1L102.0,578.3L102.2,578.6L102.5,578.8L102.7,579.1L102.9,579.4L103.1,579.6L103.3,579.9L103.5,580.2L103.7,580.5L103.9,580.8L104.1,581.1L104.3,581.4L104.5,581.7L104.7,582.0L105.0,582.3L105.2,582.7L105.4,583.0L105.6,583.4L105.8,583.7L106.0,584.1L106.2,584.4L106.4,584.8L106.6,585.2L106.8,585.5L107.0,585.9L107.2,586.3L107.5,586.7L107.7,587.1L107.9,587.5L108.1,587.9L108.3,588.3L108.5,588.8L108.7,589.2L108.9,589.6L109.1,590.0L109.3,590.5L109.5,590.9L109.7,591.3L110.0,591.8L110.2,592.2L110.4,592.6L110.6,593.1L110.8,593.5L111.0,593.9L111.2,594.3L111.4,594.7L111.6,595.1L111.8,595.5L112.0,595.8L112.2,596.1L112.5,596.4L112.7,596.6L112.9,596.8L113.1,596.5L113.3,596.1L113.5,595.6L113.7,595.0L113.9,594.4L114.1,593.8L114.3,593.2L114.6,592.5L114.8,591.8L115.0,591.2L115.2,590.5L115.4,589.8L115.6,589.1L115.8,588.5L116.0,587.8L116.2,587.2L116.4,586.5L116.7,585.9L116.9,585.3L117.1,584.6L117.3,584.0L117.5,583.5L117.7,582.9L117.9,582.3L118.1,581.7L118.3,581.2L118.5,580.7L118.8,580.1L119.0,579.6L119.2,579.1L119.4,578.6L119.6,578.1L119.8,577.6L120.0,577.2L120.2,576.7L120.4,576.3L120.6,575.8L120.9,575.4L121.1,575.0L121.3,574.6L121.5,574.2L121.7,573.8L121.9,573.4L122.1,573.1L122.3,572.7L122.5,572.3L122.8,572.0L123.0,571.6L123.2,571.3L123.4,571.0L123.6,570.7L123.8,570.4L124.0,570.1L124.2,569.8L124.4,569.5L124.6,569.2L124.9,568.9L125.1,568.7L125.3,568.4L125.5,568.2L125.7,567.9L125.9,567.7L126.1,567.4L126.3,567.2L126.5,567.0L126.7,566.8L127.0,566.6L127.2,566.4L127.4,566.2L127.6,566.0L127.8,565.8L128.0,565.6L128.2,565.5L128.4,565.3L128.6,565.1L128.8,565.0L129.1,564.8L129.3,564.7L129.5,564.5L129.7,564.4L129.9,564.3L130.1,564.2L130.3,564.0L130.5,563.9L130.7,563.8L130.9,563.7L131.2,563.6L131.4,563.5L131.6,563.4L131.8,563.4L132.0,563.3L132.2,563.2L132.4,563.2L132.6,563.1L132.8,563.0L133.1,563.0L133.3,562.9L133.5,562.9L133.7,562.9L133.9,562.8L134.1,562.8L134.3,562.8L134.5,562.8L134.7,562.8L134.9,562.7L135.2,562.7L135.4,562.7L135.6,562.8L135.8,562.8L136.0,562.8L136.2,562.9L136.4,562.9L136.6,563.0L136.8,563.1L137.1,563.2L137.3,563.3L137.5,563.4L137.7,563.5L137.9,563.6L138.1,563.7L138.3,563.9L138.5,564.1L138.7,564.2L139.0,564.4L139.2,564.6L139.4,564.8L139.6,565.0L139.8,565.3L140.0,565.5L140.2,565.7L140.4,566.0L140.6,566.3L140.9,566.6L141.1,566.9L141.3,567.2L141.5,567.5L141.7,567.8L141.9,568.2L142.1,568.6L142.3,568.9L142.5,569.3L142.8,569.8L143.0,570.2L143.2,570.6L143.4,571.1L143.6,571.5L143.8,572.0L144.0,572.5L144.2,573.1L144.4,573.6L144.7,574.1L144.9,574.7L145.1,575.3L145.3,575.9L145.5,576.5L145.7,577.2L145.9,577.9L146.1,578.6L146.3,579.3L146.6,580.0L146.8,580.8L147.0,581.5L147.2,582.3L147.4,583.1L147.6,584.0L147.8,584.8L148.0,585.7L148.2,586.6L148.5,587.5L148.7,588.4L148.9,589.4L149.1,590.3L149.3,591.2L149.5,592.1L149.7,593.0L149.9,593.9L150.1,594.6L150.4,595.3L150.6,595.7L150.8,595.6L151.0,595.4L151.2,595.1L151.4,594.7L151.6,594.2L151.8,593.6L152.0,593.0L152.2,592.3L152.4,591.6L152.6,590.8L152.9,589.9L153.1,589.1L153.3,588.2L153.5,587.3L153.7,586.4L153.9,585.5L154.1,584.6L154.3,583.7L154.5,582.8L154.7,581.9L154.9,580.9L155.1,580.1L155.4,579.2L155.6,578.3L155.8,577.4L156.0,576.6L156.2,575.7L156.4,574.9L156.6,574.1L156.8,573.3L157.0,572.5L157.2,571.7L157.4,570.9L157.6,570.2L157.9,569.4L158.1,568.7L158.3,568.0L158.5,567.3L158.7,566.6L158.9,565.9L159.1,565.3L159.3,564.6L159.5,564.0L159.7,563.4L159.9,562.8L160.1,562.1L160.4,561.6L160.6,561.0L160.8,560.4L161.0,559.8L161.2,559.3L161.4,558.7L161.6,558.2L161.8,557.7L162.0,557.2L162.2,556.7L162.4,556.2L162.6,555.7L162.9,555.2L163.1,554.7L163.3,554.3L163.5,553.8L163.7,553.4L163.9,552.9L164.1,552.5L164.3,552.1L164.5,551.7L164.7,551.2L164.9,550.8L165.1,550.4L165.3,550.1L165.6,549.7L165.8,549.3L166.0,548.9L166.2,548.6L166.4,548.2L166.6,547.9L166.8,547.5L167.0,547.2L167.2,546.8L167.4,546.5L167.6,546.2L167.8,545.9L168.1,545.6L168.3,545.3L168.5,545.0L168.7,544.7L168.9,544.4L169.1,544.1L169.3,543.8L169.5,543.5L169.7,543.3L169.9,543.0L170.1,542.7L170.3,542.5L170.6,542.2L170.8,542.0L171.0,541.7L171.2,541.5L171.4,541.3L171.6,541.0L171.8,540.8L172.0,540.6L172.2,540.4L172.4,540.2L172.6,540.0L172.8,539.8L173.1,539.6L173.3,539.4L173.5,539.2L173.7,539.0L173.9,538.8L174.1,538.6L174.3,538.5L174.5,538.3L174.7,538.1L174.9,537.9L175.1,537.8L175.3,537.6L175.6,537.5L175.8,537.3L176.0,537.2L176.2,537.0L176.4,536.9L176.6,536.8L176.8,536.6L177.0,536.5L177.2,536.4L177.4,536.2L177.6,536.1L177.8,536.0L178.1,535.9L178.3,535.8L178.5,535.7L178.7,535.6L178.9,535.5L179.1,535.4L179.3,535.3L179.5,535.2L179.7,535.1L179.9,535.0L180.1,535.0L180.3,534.9L180.6,534.8L180.8,534.7L181.0,534.7L181.2,534.6L181.4,534.5L181.6,534.5L181.8,534.4L182.0,534.4L182.2,534.3L182.4,534.3L182.6,534.2L182.8,534.2L183.1,534.1L183.3,534.1L183.5,534.1L183.7,534.1L183.9,534.0L184.1,534.0L184.3,534.0L184.5,534.0L184.7,534.0L184.9,533.9L185.1,533.9L185.3,533.9L185.6,533.9L185.8,533.9L186.0,533.9L186.2,533.9L186.4,534.0L186.6,534.0L186.8,534.0L187.0,534.0L187.2,534.0L187.4,534.1L187.6,534.1L187.8,534.1L188.0,534.1L188.3,534.2L188.5,534.2L188.7,534.3L188.9,534.3L189.1,534.4L189.3,534.4L189.5,534.5L189.7,534.5L189.9,534.6L190.1,534.7L190.3,534.7L190.5,534.8L190.8,534.9L191.0,535.0L191.2,535.0L191.4,535.1L191.6,535.2L191.8,535.3L192.0,535.4L192.2,535.5L192.4,535.6L192.6,535.7L192.8,535.8L193.0,535.9L193.3,536.0L193.5,536.1L193.7,536.2L193.9,536.4L194.1,536.5L194.3,536.6L194.5,536.8L194.7,536.9L194.9,537.0L195.1,537.2L195.3,537.3L195.5,537.5L195.8,537.6L196.0,537.8L196.2,537.9L196.4,538.1L196.6,538.3L196.8,538.5L197.0,538.6L197.2,538.8L197.4,539.0L197.6,539.2L197.8,539.4L198.0,539.6L198.3,539.8L198.5,540.0L198.7,540.2L198.9,540.4L199.1,540.6L199.3,540.8L199.5,541.0L199.7,541.3L199.9,541.5L200.1,541.7L200.3,542.0L200.5,542.2L200.8,542.5L201.0,542.7L201.2,543.0L201.4,543.3L201.6,543.5L201.8,543.8L202.0,544.1L202.2,544.4L202.4,544.7L202.6,545.0L202.8,545.3L203.0,545.6L203.3,545.9L203.5,546.2L203.7,546.5L203.9,546.8L204.1,547.2L204.3,547.5L204.5,547.9L204.7,548.2L204.9,548.6L205.1,548.9L205.3,549.3L205.5,549.7L205.8,550.1L206.0,550.4L206.2,550.8L206.4,551.2L206.6,551.7L206.8,552.1L207.0,552.5L207.2,552.9L207.4,553.4L207.6,553.8L207.8,554.3L208.0,554.7L208.2,555.2L208.5,555.7L208.7,556.2L208.9,556.7L209.1,557.2L209.3,557.7L209.5,558.2L209.7,558.7L209.9,559.3L210.1,559.8L210.3,560.4L210.5,561.0L210.7,561.6L211.0,562.1L211.2,562.8L211.4,563.4L211.6,564.0L211.8,564.6L212.0,565.3L212.2,565.9L212.4,566.6L212.6,567.3L212.8,568.0L213.0,568.7L213.2,569.4L213.5,570.2L213.7,570.9L213.9,571.7L214.1,572.5L214.3,573.3L214.5,574.1L214.7,574.9L214.9,575.7L215.1,576.6L215.3,577.4L215.5,578.3L215.7,579.2L216.0,580.1L216.2,580.9L216.4,581.9L216.6,582.8L216.8,583.7L217.0,584.6L217.2,585.5L217.4,586.4L217.6,587.3L217.8,588.2L218.0,589.1L218.2,589.9L218.5,590.8L218.7,591.6L218.9,592.3L219.1,593.0L219.3,593.6L219.5,594.2L219.7,594.7L219.9,595.1L220.1,595.4L220.3,595.6L220.5,595.7L220.7,595.3L221.0,594.6L221.2,593.9L221.4,593.0L221.6,592.1L221.8,591.2L222.0,590.3L222.2,589.4L222.4,588.4L222.6,587.5L222.9,586.6L223.1,585.7L223.3,584.8L223.5,584.0L223.7,583.1L223.9,582.3L224.1,581.5L224.3,580.8L224.5,580.0L224.8,579.3L225.0,578.6L225.2,577.9L225.4,577.2L225.6,576.5L225.8,575.9L226.0,575.3L226.2,574.7L226.4,574.1L226.7,573.6L226.9,573.1L227.1,572.5L227.3,572.0L227.5,571.5L227.7,571.1L227.9,570.6L228.1,570.2L228.3,569.8L228.6,569.3L228.8,568.9L229.0,568.6L229.2,568.2L229.4,567.8L229.6,567.5L229.8,567.2L230.0,566.9L230.2,566.6L230.5,566.3L230.7,566.0L230.9,565.7L231.1,565.5L231.3,565.3L231.5,565.0L231.7,564.8L231.9,564.6L232.1,564.4L232.4,564.2L232.6,564.1L232.8,563.9L233.0,563.7L233.2,563.6L233.4,563.5L233.6,563.4L233.8,563.3L234.0,563.2L234.3,563.1L234.5,563.0L234.7,562.9L234.9,562.9L235.1,562.8L235.3,562.8L235.5,562.8L235.7,562.7L235.9,562.7L236.2,562.7L236.4,562.8L236.6,562.8L236.8,562.8L237.0,562.8L237.2,562.8L237.4,562.9L237.6,562.9L237.8,562.9L238.0,563.0L238.3,563.0L238.5,563.1L238.7,563.2L238.9,563.2L239.1,563.3L239.3,563.4L239.5,563.4L239.7,563.5L239.9,563.6L240.2,563.7L240.4,563.8L240.6,563.9L240.8,564.0L241.0,564.2L241.2,564.3L241.4,564.4L241.6,564.5L241.8,564.7L242.0,564.8L242.3,565.0L242.5,565.1L242.7,565.3L242.9,565.5L243.1,565.6L243.3,565.8L243.5,566.0L243.7,566.2L243.9,566.4L244.1,566.6L244.4,566.8L244.6,567.0L244.8,567.2L245.0,567.4L245.2,567.7L245.4,567.9L245.6,568.2L245.8,568.4L246.0,568.7L246.2,568.9L246.5,569.2L246.7,569.5L246.9,569.8L247.1,570.1L247.3,570.4L247.5,570.7L247.7,571.0L247.9,571.3L248.1,571.6L248.3,572.0L248.6,572.3L248.8,572.7L249.0,573.1L249.2,573.4L249.4,573.8L249.6,574.2L249.8,574.6L250.0,575.0L250.2,575.4L250.5,575.8L250.7,576.3L250.9,576.7L251.1,577.2L251.3,577.6L251.5,578.1L251.7,578.6L251.9,579.1L252.1,579.6L252.3,580.1L252.6,580.7L252.8,581.2L253.0,581.7L253.2,582.3L253.4,582.9L253.6,583.5L253.8,584.0L254.0,584.6L254.2,585.3L254.4,585.9L254.7,586.5L254.9,587.2L255.1,587.8L255.3,588.5L255.5,589.1L255.7,589.8L255.9,590.5L256.1,591.2L256.3,591.8L256.5,592.5L256.8,593.2L257.0,593.8L257.2,594.4L257.4,595.0L257.6,595.6L257.8,596.1L258.0,596.5L258.2,596.8L258.4,596.6L258.6,596.4L258.9,596.1L259.1,595.8L259.3,595.5L259.5,595.1L259.7,594.7L259.9,594.3L260.1,593.9L260.3,593.5L260.5,593.1L260.7,592.6L260.9,592.2L261.1,591.8L261.4,591.3L261.6,590.9L261.8,590.5L262.0,590.0L262.2,589.6L262.4,589.2L262.6,588.8L262.8,588.3L263.0,587.9L263.2,587.5L263.4,587.1L263.6,586.7L263.9,586.3L264.1,585.9L264.3,585.5L264.5,585.2L264.7,584.8L264.9,584.4L265.1,584.1L265.3,583.7L265.5,583.4L265.7,583.0L265.9,582.7L266.1,582.3L266.4,582.0L266.6,581.7L266.8,581.4L267.0,581.1L267.2,580.8L267.4,580.5L267.6,580.2L267.8,579.9L268.0,579.6L268.2,579.4L268.4,579.1L268.6,578.8L268.9,578.6L269.1,578.3L269.3,578.1L269.5,577.9L269.7,577.6L269.9,577.4L270.1,577.2L270.3,577.0L270.5,576.8L270.7,576.6L270.9,576.4L271.1,576.2L271.3,576.0L271.6,575.8L271.8,575.6L272.0,575.5L272.2,575.3L272.4,575.1L272.6,575.0L272.8,574.8L273.0,574.7L273.2,574.5L273.4,574.4L273.6,574.3L273.8,574.1L274.1,574.0L274.3,573.9L274.5,573.8L274.7,573.7L274.9,573.6L275.1,573.5L275.3,573.4L275.5,573.3L275.7,573.2L275.9,573.2L276.1,573.1L276.3,573.0L276.6,573.0L276.8,572.9L277.0,572.8L277.2,572.8L277.4,572.7L277.6,572.7L277.8,572.7L278.0,572.6L278.2,572.6L278.4,572.6L278.6,572.6L278.8,572.6L279.1,572.6L279.3,572.6L279.5,572.6L279.7,572.6L279.9,572.6L280.1,572.6L280.3,572.6L280.5,572.6L280.7,572.7L280.9,572.7L281.1,572.7L281.3,572.8L281.6,572.8L281.8,572.9L282.0,572.9L282.2,573.0L282.4,573.0L282.6,573.1L282.8,573.2L283.0,573.2L283.2,573.3L283.4,573.4L283.6,573.5L283.8,573.5L284.1,573.6L284.3,573.7L284.5,573.8L284.7,573.9L284.9,574.0L285.1,574.1L285.3,574.2L285.5,574.3L285.7,574.5L285.9,574.6L286.1,574.7L286.3,574.8L286.6,574.9L286.8,575.1L287.0,575.2L287.2,575.3L287.4,575.5L287.6,575.6L287.8,575.8L288.0,575.9L288.2,576.0L288.4,576.2L288.6,576.4L288.8,576.5L289.1,576.7L289.3,576.8L289.5,577.0L289.7,577.1L289.9,577.3L290.1,577.5L290.3,577.7L290.5,577.8L290.7,578.0L290.9,578.2L291.1,578.4L291.3,578.5L291.5,578.7L291.8,578.9L292.0,579.1L292.2,579.3L292.4,579.5L292.6,579.7L292.8,579.8L293.0,580.0L293.2,580.2L293.4,580.4L293.6,580.6L293.8,580.8L294.0,581.0L294.3,581.2L294.5,581.4L294.7,581.6L294.9,581.9L295.1,582.1L295.3,582.3L295.5,582.5L295.7,582.7L295.9,582.9L296.1,583.1L296.3,583.3L296.5,583.5L296.8,583.7L297.0,584.0L297.2,584.2L297.4,584.4L297.6,584.6L297.8,584.8L298.0,585.0L298.2,585.3L298.4,585.5L298.6,585.7L298.8,585.9L299.0,586.1L299.3,586.4L299.5,586.6L299.7,586.8L299.9,587.0L300.1,587.2L300.3,587.5L300.5,587.7L300.7,587.9L300.9,588.1L301.1,588.3L301.3,588.6L301.5,588.8L301.8,589.0L302.0,589.2L302.2,589.4L302.4,589.7L302.6,589.9L302.8,590.1L303.0,590.3L303.2,590.5L303.4,590.7L303.6,590.9L303.8,591.2L304.0,591.4L304.3,591.6L304.5,591.8L304.7,592.0L304.9,592.2L305.1,592.4L305.3,592.6L305.5,592.8L305.7,593.0L305.9,593.2L306.1,593.4L306.3,593.6L306.5,593.8L306.8,594.0L307.0,594.2L307.2,594.4L307.4,594.6L307.6,594.8L307.8,595.0L308.0,595.2L308.2,595.4L308.4,595.6L308.6,595.8L308.8,595.9L309.0,596.1L309.3,596.3L309.5,596.5L309.7,596.7L309.9,596.8L310.1,597.0L310.3,597.2L310.5,597.3" fill="none" stroke="#111" stroke-width="1.0" stroke-linejoin="round"/>
<path d="M60.60,506.00V691.50H310.50" fill="none" stroke="#555555" stroke-width="1.0"/>
<path d="M60.60,506.00H310.50" fill="none" stroke="#555555" stroke-width="1.0"/>
<path d="M310.50,506.00V691.50" fill="none" stroke="#555555" stroke-width="1.0"/>
<path d="M60.60,516.91h-3.60M60.60,538.74h-3.60M60.60,560.56h-3.60M60.60,582.38h-3.60M60.60,604.21h-3.60M60.60,626.03h-3.60M60.60,647.85h-3.60M60.60,669.68h-3.60M60.60,691.50h-3.60M60.60,680.59h-2.20M60.60,658.76h-2.20M60.60,636.94h-2.20M60.60,615.12h-2.20M60.60,593.29h-2.20M60.60,571.47h-2.20M60.60,549.65h-2.20M60.60,527.82h-2.20M60.60,506.00h-2.20" stroke="#555555" stroke-width="1.0" fill="none"/>
<text x="54.60" y="520.51" text-anchor="end" font-family='"Liberation Sans", sans-serif' font-size="10.0" fill="#111" stroke="#111" stroke-width="0.22">10</text>
<text x="54.60" y="542.34" text-anchor="end" font-family='"Liberation Sans", sans-serif' font-size="10.0" fill="#111" stroke="#111" stroke-width="0.22">0</text>
<text x="54.60" y="564.16" text-anchor="end" font-family='"Liberation Sans", sans-serif' font-size="10.0" fill="#111" stroke="#111" stroke-width="0.22">-10</text>
<text x="54.60" y="585.98" text-anchor="end" font-family='"Liberation Sans", sans-serif' font-size="10.0" fill="#111" stroke="#111" stroke-width="0.22">-20</text>
<text x="54.60" y="607.81" text-anchor="end" font-family='"Liberation Sans", sans-serif' font-size="10.0" fill="#111" stroke="#111" stroke-width="0.22">-30</text>
<text x="54.60" y="629.63" text-anchor="end" font-family='"Liberation Sans", sans-serif' font-size="10.0" fill="#111" stroke="#111" stroke-width="0.22">-40</text>
<text x="54.60" y="651.45" text-anchor="end" font-family='"Liberation Sans", sans-serif' font-size="10.0" fill="#111" stroke="#111" stroke-width="0.22">-50</text>
<text x="54.60" y="673.28" text-anchor="end" font-family='"Liberation Sans", sans-serif' font-size="10.0" fill="#111" stroke="#111" stroke-width="0.22">-60</text>
<text x="54.60" y="695.10" text-anchor="end" font-family='"Liberation Sans", sans-serif' font-size="10.0" fill="#111" stroke="#111" stroke-width="0.22">-70</text>
<path d="M60.60,691.50v3.60M102.25,691.50v3.60M143.90,691.50v3.60M185.55,691.50v3.60M227.20,691.50v3.60M268.85,691.50v3.60M310.50,691.50v3.60M81.42,691.50v2.20M123.08,691.50v2.20M164.72,691.50v2.20M206.38,691.50v2.20M248.03,691.50v2.20M289.68,691.50v2.20" stroke="#555555" stroke-width="1.0" fill="none"/>
<text x="60.60" y="705.50" text-anchor="middle" font-family='"Liberation Sans", sans-serif' font-size="10.0" fill="#111" stroke="#111" stroke-width="0.22">-60</text>
<text x="102.25" y="705.50" text-anchor="middle" font-family='"Liberation Sans", sans-serif' font-size="10.0" fill="#111" stroke="#111" stroke-width="0.22">-40</text>
<text x="143.90" y="705.50" text-anchor="middle" font-family='"Liberation Sans", sans-serif' font-size="10.0" fill="#111" stroke="#111" stroke-width="0.22">-20</text>
<text x="185.55" y="705.50" text-anchor="middle" font-family='"Liberation Sans", sans-serif' font-size="10.0" fill="#111" stroke="#111" stroke-width="0.22">0</text>
<text x="227.20" y="705.50" text-anchor="middle" font-family='"Liberation Sans", sans-serif' font-size="10.0" fill="#111" stroke="#111" stroke-width="0.22">20</text>
<text x="268.85" y="705.50" text-anchor="middle" font-family='"Liberation Sans", sans-serif' font-size="10.0" fill="#111" stroke="#111" stroke-width="0.22">40</text>
<text x="310.50" y="705.50" text-anchor="middle" font-family='"Liberation Sans", sans-serif' font-size="10.0" fill="#111" stroke="#111" stroke-width="0.22">60</text>
<text x="185.50" y="725.80" text-anchor="middle" font-family='"Liberation Serif", serif' font-size="13.8" font-weight="bold" fill="#000"><tspan font-style="italic">φ</tspan> (degree)</text>
<text x="29.40" y="594.40" text-anchor="middle" font-family='"Liberation Serif", serif' font-size="14.1" font-weight="bold" fill="#000" transform="rotate(-90 29.40 594.40)">Bistatic RCS (dBm<tspan font-size="9" baseline-shift="super">2</tspan>)</text>
<path d="M63.4,514.6H85.8" stroke="#111" stroke-width="1"/>
<path d="M63.4,527.4H85.8" stroke="#ff1a1a" stroke-width="1"/>
<text x="88.80" y="517.60" text-anchor="start" font-family='"Liberation Serif", serif' font-size="9.85" fill="#000">PEC</text>
<text x="88.00" y="530.80" text-anchor="start" font-family='"Liberation Serif", serif' font-size="9.85" fill="#000"><tspan>Er</tspan><tspan font-size="6.30" baseline-shift="-4.24">2</tspan><tspan>Zr</tspan><tspan font-size="6.30" baseline-shift="-4.24">2</tspan><tspan>O</tspan><tspan font-size="6.30" baseline-shift="-4.24">7</tspan>/<tspan>Gd</tspan><tspan font-size="6.30" baseline-shift="-4.24">2</tspan><tspan>Zr</tspan><tspan font-size="6.30" baseline-shift="-4.24">2</tspan><tspan>O</tspan><tspan font-size="6.30" baseline-shift="-4.24">7</tspan> (0.4 mm/0.732 mm)</text>
<text x="307.20" y="517.60" text-anchor="end" font-family='"Liberation Serif", serif' font-size="9.85" fill="#000">10.405 GHz</text>
<path d="M398.5,665.8L398.7,665.6L398.9,665.3L399.1,665.1L399.3,664.9L399.5,664.6L399.7,664.4L400.0,664.2L400.2,663.9L400.4,663.7L400.6,663.4L400.8,663.2L401.0,662.9L401.2,662.7L401.4,662.4L401.6,662.2L401.8,661.9L402.0,661.6L402.2,661.4L402.5,661.1L402.7,660.8L402.9,660.6L403.1,660.3L403.3,660.0L403.5,659.7L403.7,659.5L403.9,659.2L404.1,658.9L404.3,658.6L404.5,658.3L404.7,658.0L405.0,657.7L405.2,657.4L405.4,657.1L405.6,656.8L405.8,656.5L406.0,656.2L406.2,655.9L406.4,655.6L406.6,655.2L406.8,654.9L407.0,654.6L407.2,654.3L407.5,653.9L407.7,653.6L407.9,653.3L408.1,653.0L408.3,652.6L408.5,652.3L408.7,651.9L408.9,651.6L409.1,651.2L409.3,650.8L409.5,650.4L409.7,650.0L410.0,649.6L410.2,649.2L410.4,648.8L410.6,648.4L410.8,648.0L411.0,647.5L411.2,647.1L411.4,646.6L411.6,646.2L411.8,645.7L412.0,645.2L412.2,644.7L412.5,644.2L412.7,643.7L412.9,643.2L413.1,642.7L413.3,642.2L413.5,641.6L413.7,641.1L413.9,640.5L414.1,640.0L414.3,639.4L414.5,638.8L414.7,638.2L415.0,637.6L415.2,637.0L415.4,636.4L415.6,635.8L415.8,635.2L416.0,634.5L416.2,633.9L416.4,633.2L416.6,632.5L416.8,631.9L417.0,631.2L417.2,630.5L417.5,629.7L417.7,629.0L417.9,628.3L418.1,627.5L418.3,626.7L418.5,626.0L418.7,625.2L418.9,624.4L419.1,623.5L419.3,622.7L419.5,621.8L419.7,620.9L419.9,620.1L420.2,619.1L420.4,618.2L420.6,617.2L420.8,616.3L421.0,615.3L421.2,614.2L421.4,613.2L421.6,612.1L421.8,611.0L422.0,609.8L422.2,608.6L422.4,607.4L422.7,606.1L422.9,604.8L423.1,603.5L423.3,602.1L423.5,600.6L423.7,599.1L423.9,597.5L424.1,595.8L424.3,594.0L424.5,592.1L424.7,590.2L424.9,588.1L425.2,585.8L425.4,583.4L425.6,580.9L425.8,578.0L426.0,574.9L426.2,571.5L426.4,567.7L426.6,563.4L426.8,558.3L427.0,552.4L427.2,545.4L427.4,536.9L427.7,527.5L427.9,522.3L428.1,522.7L428.3,525.2L428.5,530.0L428.7,536.0L428.9,542.2L429.1,548.1L429.3,553.5L429.5,558.4L429.7,562.9L429.9,566.9L430.2,570.7L430.4,574.1L430.6,577.3L430.8,580.3L431.0,583.0L431.2,585.7L431.4,588.1L431.6,590.5L431.8,592.7L432.0,594.8L432.2,596.8L432.4,598.8L432.7,600.6L432.9,602.4L433.1,604.1L433.3,605.8L433.5,607.4L433.7,609.0L433.9,610.5L434.1,611.9L434.3,613.4L434.5,614.8L434.7,616.1L434.9,617.4L435.2,618.7L435.4,620.0L435.6,621.3L435.8,622.5L436.0,623.7L436.2,624.8L436.4,626.0L436.6,627.1L436.8,628.2L437.0,629.3L437.2,630.4L437.4,631.5L437.7,632.6L437.9,633.6L438.1,634.6L438.3,635.7L438.5,636.7L438.7,637.7L438.9,638.7L439.1,639.7L439.3,640.6L439.5,641.6L439.7,642.6L439.9,643.5L440.1,644.5L440.4,645.4L440.6,646.4L440.8,647.3L441.0,648.2L441.2,649.2L441.4,650.1L441.6,651.0L441.8,652.0L442.0,652.9L442.2,653.8L442.4,654.7L442.6,655.6L442.9,656.5L443.1,657.4L443.3,658.4L443.5,659.3L443.7,660.2L443.9,661.1L444.1,662.0L444.3,662.9L444.5,663.8L444.7,664.7L444.9,665.6L445.1,666.5L445.4,667.4L445.6,668.3L445.8,669.2L446.0,670.2L446.2,671.1L446.4,672.0L446.6,672.9L446.8,673.8L447.0,674.7L447.2,675.5L447.4,676.4L447.6,677.3L447.9,678.2L448.1,679.0L448.3,679.9L448.5,680.7L448.7,681.6L448.9,682.4L449.1,683.2L449.3,683.9L449.5,684.7L449.7,685.4L449.9,686.1L450.1,686.7L450.4,687.2L450.6,687.7L450.8,688.0L451.0,687.7L451.2,687.2L451.4,686.5L451.6,685.7L451.8,684.9L452.0,684.0L452.2,683.1L452.4,682.1L452.6,681.2L452.9,680.2L453.1,679.2L453.3,678.2L453.5,677.2L453.7,676.2L453.9,675.2L454.1,674.2L454.3,673.2L454.5,672.2L454.7,671.2L454.9,670.3L455.1,669.3L455.4,668.4L455.6,667.4L455.8,666.5L456.0,665.6L456.2,664.7L456.4,663.8L456.6,662.9L456.8,662.1L457.0,661.2L457.2,660.4L457.4,659.5L457.6,658.7L457.9,657.9L458.1,657.0L458.3,656.2L458.5,655.4L458.7,654.7L458.9,653.9L459.1,653.1L459.3,652.3L459.5,651.6L459.7,650.8L459.9,650.1L460.1,649.3L460.4,648.6L460.6,647.9L460.8,647.1L461.0,646.4L461.2,645.7L461.4,645.0L461.6,644.3L461.8,643.6L462.0,642.9L462.2,642.2L462.4,641.5L462.6,640.8L462.8,640.1L463.1,639.5L463.3,638.8L463.5,638.1L463.7,637.4L463.9,636.7L464.1,636.1L464.3,635.4L464.5,634.7L464.7,634.1L464.9,633.4L465.1,632.7L465.3,632.1L465.6,631.4L465.8,630.7L466.0,630.0L466.2,629.4L466.4,628.7L466.6,628.0L466.8,627.4L467.0,626.7L467.2,626.0L467.4,625.4L467.6,624.7L467.8,624.0L468.1,623.4L468.3,622.7L468.5,622.0L468.7,621.3L468.9,620.7L469.1,620.0L469.3,619.3L469.5,618.6L469.7,618.0L469.9,617.3L470.1,616.7L470.3,616.0L470.6,615.3L470.8,614.7L471.0,614.1L471.2,613.4L471.4,612.8L471.6,612.2L471.8,611.6L472.0,611.0L472.2,610.5L472.4,609.9L472.6,609.4L472.8,608.9L473.1,608.5L473.3,608.0L473.5,607.7L473.7,607.3L473.9,607.0L474.1,606.8L474.3,606.6L474.5,606.5L474.7,606.5L474.9,606.5L475.1,606.6L475.3,606.7L475.6,607.0L475.8,607.5L476.0,608.1L476.2,608.9L476.4,609.8L476.6,610.8L476.8,611.9L477.0,613.0L477.2,614.2L477.4,615.3L477.6,616.3L477.8,617.3L478.1,618.2L478.3,619.2L478.5,620.2L478.7,621.2L478.9,622.2L479.1,623.2L479.3,624.3L479.5,625.4L479.7,626.5L479.9,627.6L480.1,628.7L480.3,629.9L480.6,631.0L480.8,632.2L481.0,633.4L481.2,634.6L481.4,635.8L481.6,637.1L481.8,638.3L482.0,639.6L482.2,640.8L482.4,642.1L482.6,643.4L482.8,644.7L483.0,646.1L483.3,647.4L483.5,648.8L483.7,650.2L483.9,651.6L484.1,653.1L484.3,654.6L484.5,656.1L484.7,657.6L484.9,659.2L485.1,660.7L485.3,662.4L485.5,664.0L485.8,665.7L486.0,667.3L486.2,669.0L486.4,670.8L486.6,672.5L486.8,674.2L487.0,676.0L487.2,677.7L487.4,679.4L487.6,681.0L487.8,682.6L488.0,684.1L488.3,685.3L488.5,686.2L488.7,686.4L488.9,686.3L489.1,686.1L489.3,685.7L489.5,685.2L489.7,684.6L489.9,683.8L490.1,683.0L490.3,682.0L490.5,681.1L490.8,680.0L491.0,678.9L491.2,677.8L491.4,676.6L491.6,675.4L491.8,674.2L492.0,673.0L492.2,671.8L492.4,670.5L492.6,669.3L492.8,668.1L493.0,666.9L493.3,665.7L493.5,664.5L493.7,663.4L493.9,662.2L494.1,661.1L494.3,660.0L494.5,658.8L494.7,657.8L494.9,656.7L495.1,655.6L495.3,654.6L495.5,653.6L495.8,652.6L496.0,651.6L496.2,650.6L496.4,649.7L496.6,648.7L496.8,647.8L497.0,646.9L497.2,646.0L497.4,645.2L497.6,644.3L497.8,643.5L498.0,642.6L498.3,641.8L498.5,641.0L498.7,640.3L498.9,639.5L499.1,638.7L499.3,638.0L499.5,637.2L499.7,636.5L499.9,635.8L500.1,635.1L500.3,634.4L500.5,633.8L500.8,633.1L501.0,632.4L501.2,631.8L501.4,631.2L501.6,630.5L501.8,629.9L502.0,629.3L502.2,628.7L502.4,628.1L502.6,627.6L502.8,627.0L503.0,626.5L503.2,625.9L503.5,625.4L503.7,624.8L503.9,624.3L504.1,623.8L504.3,623.3L504.5,622.8L504.7,622.3L504.9,621.9L505.1,621.4L505.3,620.9L505.5,620.5L505.7,620.0L506.0,619.6L506.2,619.2L506.4,618.7L506.6,618.3L506.8,617.9L507.0,617.5L507.2,617.1L507.4,616.7L507.6,616.3L507.8,616.0L508.0,615.6L508.2,615.3L508.5,614.9L508.7,614.6L508.9,614.2L509.1,613.9L509.3,613.6L509.5,613.3L509.7,613.0L509.9,612.6L510.1,612.4L510.3,612.1L510.5,611.8L510.7,611.5L511.0,611.3L511.2,611.0L511.4,610.7L511.6,610.5L511.8,610.3L512.0,610.0L512.2,609.8L512.4,609.6L512.6,609.4L512.8,609.1L513.0,608.9L513.2,608.7L513.5,608.5L513.7,608.4L513.9,608.2L514.1,608.0L514.3,607.8L514.5,607.6L514.7,607.5L514.9,607.3L515.1,607.2L515.3,607.0L515.5,606.9L515.7,606.7L516.0,606.6L516.2,606.5L516.4,606.4L516.6,606.2L516.8,606.1L517.0,606.0L517.2,605.9L517.4,605.8L517.6,605.7L517.8,605.6L518.0,605.5L518.2,605.4L518.5,605.3L518.7,605.3L518.9,605.2L519.1,605.1L519.3,605.0L519.5,605.0L519.7,604.9L519.9,604.9L520.1,604.8L520.3,604.8L520.5,604.7L520.7,604.7L521.0,604.6L521.2,604.6L521.4,604.6L521.6,604.5L521.8,604.5L522.0,604.5L522.2,604.5L522.4,604.5L522.6,604.4L522.8,604.4L523.0,604.4L523.2,604.4L523.5,604.4L523.7,604.4L523.9,604.4L524.1,604.4L524.3,604.4L524.5,604.5L524.7,604.5L524.9,604.5L525.1,604.5L525.3,604.5L525.5,604.6L525.7,604.6L525.9,604.6L526.2,604.7L526.4,604.7L526.6,604.8L526.8,604.8L527.0,604.9L527.2,604.9L527.4,605.0L527.6,605.0L527.8,605.1L528.0,605.2L528.2,605.3L528.4,605.3L528.7,605.4L528.9,605.5L529.1,605.6L529.3,605.7L529.5,605.8L529.7,605.9L529.9,606.0L530.1,606.1L530.3,606.2L530.5,606.4L530.7,606.5L530.9,606.6L531.2,606.7L531.4,606.9L531.6,607.0L531.8,607.2L532.0,607.3L532.2,607.5L532.4,607.6L532.6,607.8L532.8,608.0L533.0,608.2L533.2,608.4L533.4,608.5L533.7,608.7L533.9,608.9L534.1,609.1L534.3,609.4L534.5,609.6L534.7,609.8L534.9,610.0L535.1,610.3L535.3,610.5L535.5,610.7L535.7,611.0L535.9,611.3L536.2,611.5L536.4,611.8L536.6,612.1L536.8,612.4L537.0,612.6L537.2,613.0L537.4,613.3L537.6,613.6L537.8,613.9L538.0,614.2L538.2,614.6L538.4,614.9L538.7,615.3L538.9,615.6L539.1,616.0L539.3,616.3L539.5,616.7L539.7,617.1L539.9,617.5L540.1,617.9L540.3,618.3L540.5,618.7L540.7,619.2L540.9,619.6L541.2,620.0L541.4,620.5L541.6,620.9L541.8,621.4L542.0,621.9L542.2,622.3L542.4,622.8L542.6,623.3L542.8,623.8L543.0,624.3L543.2,624.8L543.4,625.4L543.7,625.9L543.9,626.5L544.1,627.0L544.3,627.6L544.5,628.1L544.7,628.7L544.9,629.3L545.1,629.9L545.3,630.5L545.5,631.2L545.7,631.8L545.9,632.4L546.1,633.1L546.4,633.8L546.6,634.4L546.8,635.1L547.0,635.8L547.2,636.5L547.4,637.2L547.6,638.0L547.8,638.7L548.0,639.5L548.2,640.3L548.4,641.0L548.6,641.8L548.9,642.6L549.1,643.5L549.3,644.3L549.5,645.2L549.7,646.0L549.9,646.9L550.1,647.8L550.3,648.7L550.5,649.7L550.7,650.6L550.9,651.6L551.1,652.6L551.4,653.6L551.6,654.6L551.8,655.6L552.0,656.7L552.2,657.8L552.4,658.8L552.6,660.0L552.8,661.1L553.0,662.2L553.2,663.4L553.4,664.5L553.6,665.7L553.9,666.9L554.1,668.1L554.3,669.3L554.5,670.5L554.7,671.8L554.9,673.0L555.1,674.2L555.3,675.4L555.5,676.6L555.7,677.8L555.9,678.9L556.1,680.0L556.4,681.1L556.6,682.0L556.8,683.0L557.0,683.8L557.2,684.6L557.4,685.2L557.6,685.7L557.8,686.1L558.0,686.3L558.2,686.4L558.4,686.2L558.6,685.3L558.9,684.1L559.1,682.6L559.3,681.0L559.5,679.4L559.7,677.7L559.9,676.0L560.1,674.2L560.3,672.5L560.5,670.8L560.7,669.0L560.9,667.3L561.1,665.7L561.4,664.0L561.6,662.4L561.8,660.7L562.0,659.2L562.2,657.6L562.4,656.1L562.6,654.6L562.8,653.1L563.0,651.6L563.2,650.2L563.4,648.8L563.6,647.4L563.9,646.1L564.1,644.7L564.3,643.4L564.5,642.1L564.7,640.8L564.9,639.6L565.1,638.3L565.3,637.1L565.5,635.8L565.7,634.6L565.9,633.4L566.1,632.2L566.3,631.0L566.6,629.9L566.8,628.7L567.0,627.6L567.2,626.5L567.4,625.4L567.6,624.3L567.8,623.2L568.0,622.2L568.2,621.2L568.4,620.2L568.6,619.2L568.8,618.2L569.1,617.3L569.3,616.3L569.5,615.3L569.7,614.2L569.9,613.0L570.1,611.9L570.3,610.8L570.5,609.8L570.7,608.9L570.9,608.1L571.1,607.5L571.3,607.0L571.6,606.7L571.8,606.6L572.0,606.5L572.2,606.5L572.4,606.5L572.6,606.6L572.8,606.8L573.0,607.0L573.2,607.3L573.4,607.7L573.6,608.0L573.8,608.5L574.1,608.9L574.3,609.4L574.5,609.9L574.7,610.5L574.9,611.0L575.1,611.6L575.3,612.2L575.5,612.8L575.7,613.4L575.9,614.1L576.1,614.7L576.3,615.3L576.6,616.0L576.8,616.7L577.0,617.3L577.2,618.0L577.4,618.6L577.6,619.3L577.8,620.0L578.0,620.7L578.2,621.3L578.4,622.0L578.6,622.7L578.8,623.4L579.1,624.0L579.3,624.7L579.5,625.4L579.7,626.0L579.9,626.7L580.1,627.4L580.3,628.0L580.5,628.7L580.7,629.4L580.9,630.0L581.1,630.7L581.3,631.4L581.6,632.1L581.8,632.7L582.0,633.4L582.2,634.1L582.4,634.7L582.6,635.4L582.8,636.1L583.0,636.7L583.2,637.4L583.4,638.1L583.6,638.8L583.8,639.5L584.1,640.1L584.3,640.8L584.5,641.5L584.7,642.2L584.9,642.9L585.1,643.6L585.3,644.3L585.5,645.0L585.7,645.7L585.9,646.4L586.1,647.1L586.3,647.9L586.5,648.6L586.8,649.3L587.0,650.1L587.2,650.8L587.4,651.6L587.6,652.3L587.8,653.1L588.0,653.9L588.2,654.7L588.4,655.4L588.6,656.2L588.8,657.0L589.0,657.9L589.3,658.7L589.5,659.5L589.7,660.4L589.9,661.2L590.1,662.1L590.3,662.9L590.5,663.8L590.7,664.7L590.9,665.6L591.1,666.5L591.3,667.4L591.5,668.4L591.8,669.3L592.0,670.3L592.2,671.2L592.4,672.2L592.6,673.2L592.8,674.2L593.0,675.2L593.2,676.2L593.4,677.2L593.6,678.2L593.8,679.2L594.0,680.2L594.3,681.2L594.5,682.1L594.7,683.1L594.9,684.0L595.1,684.9L595.3,685.7L595.5,686.5L595.7,687.2L595.9,687.7L596.1,688.0L596.3,687.7L596.5,687.2L596.8,686.7L597.0,686.1L597.2,685.4L597.4,684.7L597.6,683.9L597.8,683.2L598.0,682.4L598.2,681.6L598.4,680.7L598.6,679.9L598.8,679.0L599.0,678.2L599.3,677.3L599.5,676.4L599.7,675.5L599.9,674.7L600.1,673.8L600.3,672.9L600.5,672.0L600.7,671.1L600.9,670.2L601.1,669.2L601.3,668.3L601.5,667.4L601.8,666.5L602.0,665.6L602.2,664.7L602.4,663.8L602.6,662.9L602.8,662.0L603.0,661.1L603.2,660.2L603.4,659.3L603.6,658.4L603.8,657.4L604.0,656.5L604.3,655.6L604.5,654.7L604.7,653.8L604.9,652.9L605.1,652.0L605.3,651.0L605.5,650.1L605.7,649.2L605.9,648.2L606.1,647.3L606.3,646.4L606.5,645.4L606.8,644.5L607.0,643.5L607.2,642.6L607.4,641.6L607.6,640.6L607.8,639.7L608.0,638.7L608.2,637.7L608.4,636.7L608.6,635.7L608.8,634.6L609.0,633.6L609.2,632.6L609.5,631.5L609.7,630.4L609.9,629.3L610.1,628.2L610.3,627.1L610.5,626.0L610.7,624.8L610.9,623.7L611.1,622.5L611.3,621.3L611.5,620.0L611.7,618.7L612.0,617.4L612.2,616.1L612.4,614.8L612.6,613.4L612.8,611.9L613.0,610.5L613.2,609.0L613.4,607.4L613.6,605.8L613.8,604.1L614.0,602.4L614.2,600.6L614.5,598.8L614.7,596.8L614.9,594.8L615.1,592.7L615.3,590.5L615.5,588.1L615.7,585.7L615.9,583.0L616.1,580.3L616.3,577.3L616.5,574.1L616.7,570.7L617.0,566.9L617.2,562.9L617.4,558.4L617.6,553.5L617.8,548.1L618.0,542.2L618.2,536.0L618.4,530.0L618.6,525.2L618.8,522.7L619.0,522.3L619.2,527.5L619.5,536.9L619.7,545.4L619.9,552.4L620.1,558.3L620.3,563.4L620.5,567.7L620.7,571.5L620.9,574.9L621.1,578.0L621.3,580.9L621.5,583.4L621.7,585.8L622.0,588.1L622.2,590.2L622.4,592.1L622.6,594.0L622.8,595.8L623.0,597.5L623.2,599.1L623.4,600.6L623.6,602.1L623.8,603.5L624.0,604.8L624.2,606.1L624.5,607.4L624.7,608.6L624.9,609.8L625.1,611.0L625.3,612.1L625.5,613.2L625.7,614.2L625.9,615.3L626.1,616.3L626.3,617.2L626.5,618.2L626.7,619.1L627.0,620.1L627.2,620.9L627.4,621.8L627.6,622.7L627.8,623.5L628.0,624.4L628.2,625.2L628.4,626.0L628.6,626.7L628.8,627.5L629.0,628.3L629.2,629.0L629.4,629.7L629.7,630.5L629.9,631.2L630.1,631.9L630.3,632.5L630.5,633.2L630.7,633.9L630.9,634.5L631.1,635.2L631.3,635.8L631.5,636.4L631.7,637.0L631.9,637.6L632.2,638.2L632.4,638.8L632.6,639.4L632.8,640.0L633.0,640.5L633.2,641.1L633.4,641.6L633.6,642.2L633.8,642.7L634.0,643.2L634.2,643.7L634.4,644.2L634.7,644.7L634.9,645.2L635.1,645.7L635.3,646.2L635.5,646.6L635.7,647.1L635.9,647.5L636.1,648.0L636.3,648.4L636.5,648.8L636.7,649.2L636.9,649.6L637.2,650.0L637.4,650.4L637.6,650.8L637.8,651.2L638.0,651.6L638.2,651.9L638.4,652.3L638.6,652.6L638.8,653.0L639.0,653.3L639.2,653.6L639.4,653.9L639.7,654.3L639.9,654.6L640.1,654.9L640.3,655.2L640.5,655.6L640.7,655.9L640.9,656.2L641.1,656.5L641.3,656.8L641.5,657.1L641.7,657.4L641.9,657.7L642.2,658.0L642.4,658.3L642.6,658.6L642.8,658.9L643.0,659.2L643.2,659.5L643.4,659.7L643.6,660.0L643.8,660.3L644.0,660.6L644.2,660.8L644.4,661.1L644.7,661.4L644.9,661.6L645.1,661.9L645.3,662.2L645.5,662.4L645.7,662.7L645.9,662.9L646.1,663.2L646.3,663.4L646.5,663.7L646.7,663.9L646.9,664.2L647.2,664.4L647.4,664.6L647.6,664.9L647.8,665.1L648.0,665.3L648.2,665.6L648.4,665.8" fill="none" stroke="#111" stroke-width="1.0" stroke-linejoin="round"/>
<path d="M398.50,506.20V691.20H648.40" fill="none" stroke="#555555" stroke-width="1.0"/>
<path d="M398.50,506.20H648.40" fill="none" stroke="#555555" stroke-width="1.0"/>
<path d="M648.40,506.20V691.20" fill="none" stroke="#555555" stroke-width="1.0"/>
<path d="M398.50,691.20h-3.60M398.50,657.56h-3.60M398.50,623.93h-3.60M398.50,590.29h-3.60M398.50,556.65h-3.60M398.50,523.02h-3.60M398.50,674.38h-2.20M398.50,640.75h-2.20M398.50,607.11h-2.20M398.50,573.47h-2.20M398.50,539.84h-2.20M398.50,506.20h-2.20" stroke="#555555" stroke-width="1.0" fill="none"/>
<text x="392.50" y="694.80" text-anchor="end" font-family='"Liberation Sans", sans-serif' font-size="10.0" fill="#111" stroke="#111" stroke-width="0.22">0</text>
<text x="392.50" y="661.16" text-anchor="end" font-family='"Liberation Sans", sans-serif' font-size="10.0" fill="#111" stroke="#111" stroke-width="0.22">10</text>
<text x="392.50" y="627.53" text-anchor="end" font-family='"Liberation Sans", sans-serif' font-size="10.0" fill="#111" stroke="#111" stroke-width="0.22">20</text>
<text x="392.50" y="593.89" text-anchor="end" font-family='"Liberation Sans", sans-serif' font-size="10.0" fill="#111" stroke="#111" stroke-width="0.22">30</text>
<text x="392.50" y="560.25" text-anchor="end" font-family='"Liberation Sans", sans-serif' font-size="10.0" fill="#111" stroke="#111" stroke-width="0.22">40</text>
<text x="392.50" y="526.62" text-anchor="end" font-family='"Liberation Sans", sans-serif' font-size="10.0" fill="#111" stroke="#111" stroke-width="0.22">50</text>
<path d="M398.50,691.20v3.60M440.15,691.20v3.60M481.80,691.20v3.60M523.45,691.20v3.60M565.10,691.20v3.60M606.75,691.20v3.60M648.40,691.20v3.60M419.32,691.20v2.20M460.98,691.20v2.20M502.62,691.20v2.20M544.27,691.20v2.20M585.92,691.20v2.20M627.57,691.20v2.20" stroke="#555555" stroke-width="1.0" fill="none"/>
<text x="398.50" y="705.20" text-anchor="middle" font-family='"Liberation Sans", sans-serif' font-size="10.0" fill="#111" stroke="#111" stroke-width="0.22">-60</text>
<text x="440.15" y="705.20" text-anchor="middle" font-family='"Liberation Sans", sans-serif' font-size="10.0" fill="#111" stroke="#111" stroke-width="0.22">-40</text>
<text x="481.80" y="705.20" text-anchor="middle" font-family='"Liberation Sans", sans-serif' font-size="10.0" fill="#111" stroke="#111" stroke-width="0.22">-20</text>
<text x="523.45" y="705.20" text-anchor="middle" font-family='"Liberation Sans", sans-serif' font-size="10.0" fill="#111" stroke="#111" stroke-width="0.22">0</text>
<text x="565.10" y="705.20" text-anchor="middle" font-family='"Liberation Sans", sans-serif' font-size="10.0" fill="#111" stroke="#111" stroke-width="0.22">20</text>
<text x="606.75" y="705.20" text-anchor="middle" font-family='"Liberation Sans", sans-serif' font-size="10.0" fill="#111" stroke="#111" stroke-width="0.22">40</text>
<text x="648.40" y="705.20" text-anchor="middle" font-family='"Liberation Sans", sans-serif' font-size="10.0" fill="#111" stroke="#111" stroke-width="0.22">60</text>
<text x="523.50" y="725.80" text-anchor="middle" font-family='"Liberation Serif", serif' font-size="13.8" font-weight="bold" fill="#000"><tspan font-style="italic">φ</tspan> (degree)</text>
<text x="366.40" y="602.00" text-anchor="middle" font-family='"Liberation Serif", serif' font-size="14.1" font-weight="bold" fill="#000" transform="rotate(-90 366.40 602.00)">Bistatic RCSR (dB)</text>
<path d="M400.2,514.2H422.6" stroke="#111" stroke-width="1"/>
<text x="425.20" y="517.80" text-anchor="start" font-family='"Liberation Serif", serif' font-size="9.85" fill="#000"><tspan>Er</tspan><tspan font-size="6.30" baseline-shift="-4.24">2</tspan><tspan>Zr</tspan><tspan font-size="6.30" baseline-shift="-4.24">2</tspan><tspan>O</tspan><tspan font-size="6.30" baseline-shift="-4.24">7</tspan>/<tspan>Gd</tspan><tspan font-size="6.30" baseline-shift="-4.24">2</tspan><tspan>Zr</tspan><tspan font-size="6.30" baseline-shift="-4.24">2</tspan><tspan>O</tspan><tspan font-size="6.30" baseline-shift="-4.24">7</tspan> (0.4 mm/0.732 mm)</text>
<text x="644.50" y="517.80" text-anchor="end" font-family='"Liberation Serif", serif' font-size="9.85" fill="#000">10.405 GHz</text>
<path d="M60.60,882.5H310.30" stroke="#3838ff" stroke-width="1.1" stroke-dasharray="4.3 3.73" fill="none"/>
<path d="M60.6,904.5L66.0,906.3L73.1,905.1L77.8,906.3L85.0,902.6L90.3,895.2L96.9,897.9L101.0,897.0L107.0,885.4L109.9,882.3L114.4,878.2L120.6,884.1L131.1,880.3L137.9,880.8L150.4,885.4L157.5,883.6L162.9,879.7L170.0,868.3L173.6,863.7L178.3,855.3L186.0,844.2L198.5,784.5L209.8,823.4L215.1,850.0L218.6,856.3L221.1,860.1L227.4,864.1L237.0,867.5L250.1,871.0L262.4,873.6L267.7,873.2L275.2,873.5L285.9,877.2L299.6,877.7L310.3,879.0" fill="none" stroke="#ff1a1a" stroke-width="1.0" stroke-linejoin="round"/>
<path d="M60.6,901.2L63.6,904.4L66.5,904.0L69.5,904.5L71.3,901.6L73.7,902.1L75.5,902.6L78.4,904.0L80.8,903.0L83.2,901.6L85.6,899.3L88.5,895.0L91.5,891.2L93.9,892.2L96.3,893.8L98.1,896.1L101.0,895.2L102.8,894.2L104.6,889.3L107.6,877.1L108.8,880.8L110.0,870.5L111.8,870.2L114.4,872.5L116.6,873.6L117.9,878.0L118.8,879.4L120.5,878.2L121.8,879.0L124.0,881.5L126.2,877.6L128.0,881.0L131.1,874.5L132.8,876.2L135.5,872.3L137.7,875.8L140.3,874.0L142.5,878.4L145.0,878.4L147.8,881.0L150.4,880.6L152.5,882.3L155.5,879.3L157.7,880.1L160.4,876.2L163.0,874.9L165.2,867.8L167.9,865.7L170.0,860.0L170.6,857.2L172.4,852.6L173.6,853.5L174.7,846.5L176.5,848.9L178.3,845.6L179.5,848.4L180.7,844.2L181.9,845.6L183.1,838.7L184.3,833.1L186.0,831.3L187.8,827.6L189.6,803.5L191.4,766.9L192.6,764.6L193.8,766.4L195.0,794.2L196.2,810.0L197.9,822.0L199.1,826.2L200.9,825.3L202.1,829.4L203.3,830.8L204.5,828.5L205.7,830.3L206.9,835.9L208.6,841.0L210.4,843.3L212.2,850.7L213.4,854.4L215.1,857.0L216.8,860.5L218.6,864.9L221.1,866.2L223.9,868.8L225.6,868.4L228.2,870.6L230.9,870.2L233.5,871.6L235.7,871.1L238.4,872.5L239.6,873.2L241.3,872.3L244.0,874.3L246.1,873.9L249.2,875.4L252.6,875.8L256.2,876.7L259.8,877.6L263.9,877.9L268.7,877.6L272.0,877.6L275.2,878.5L277.6,879.4L281.8,880.8L285.9,881.7L289.5,882.0L292.5,881.7L296.0,882.2L299.6,882.2L304.4,882.4L310.3,883.1" fill="none" stroke="#111" stroke-width="1.0" stroke-linejoin="round"/>
<path d="M60.60,743.30V928.50H310.30" fill="none" stroke="#555555" stroke-width="1.0"/>
<path d="M60.60,743.30H310.30" fill="none" stroke="#555555" stroke-width="1.0"/>
<path d="M310.30,743.30V928.50" fill="none" stroke="#555555" stroke-width="1.0"/>
<path d="M60.60,928.50h-3.60M60.60,905.35h-3.60M60.60,882.20h-3.60M60.60,859.05h-3.60M60.60,835.90h-3.60M60.60,812.75h-3.60M60.60,789.60h-3.60M60.60,766.45h-3.60M60.60,743.30h-3.60M60.60,916.92h-2.20M60.60,893.77h-2.20M60.60,870.62h-2.20M60.60,847.48h-2.20M60.60,824.32h-2.20M60.60,801.17h-2.20M60.60,778.02h-2.20M60.60,754.88h-2.20" stroke="#555555" stroke-width="1.0" fill="none"/>
<text x="54.60" y="932.10" text-anchor="end" font-family='"Liberation Sans", sans-serif' font-size="10.0" fill="#111" stroke="#111" stroke-width="0.22">0</text>
<text x="54.60" y="908.95" text-anchor="end" font-family='"Liberation Sans", sans-serif' font-size="10.0" fill="#111" stroke="#111" stroke-width="0.22">5</text>
<text x="54.60" y="885.80" text-anchor="end" font-family='"Liberation Sans", sans-serif' font-size="10.0" fill="#111" stroke="#111" stroke-width="0.22">10</text>
<text x="54.60" y="862.65" text-anchor="end" font-family='"Liberation Sans", sans-serif' font-size="10.0" fill="#111" stroke="#111" stroke-width="0.22">15</text>
<text x="54.60" y="839.50" text-anchor="end" font-family='"Liberation Sans", sans-serif' font-size="10.0" fill="#111" stroke="#111" stroke-width="0.22">20</text>
<text x="54.60" y="816.35" text-anchor="end" font-family='"Liberation Sans", sans-serif' font-size="10.0" fill="#111" stroke="#111" stroke-width="0.22">25</text>
<text x="54.60" y="793.20" text-anchor="end" font-family='"Liberation Sans", sans-serif' font-size="10.0" fill="#111" stroke="#111" stroke-width="0.22">30</text>
<text x="54.60" y="770.05" text-anchor="end" font-family='"Liberation Sans", sans-serif' font-size="10.0" fill="#111" stroke="#111" stroke-width="0.22">35</text>
<text x="54.60" y="746.90" text-anchor="end" font-family='"Liberation Sans", sans-serif' font-size="10.0" fill="#111" stroke="#111" stroke-width="0.22">40</text>
<path d="M310.30,928.50h3.60M310.30,905.35h3.60M310.30,882.20h3.60M310.30,859.05h3.60M310.30,835.90h3.60M310.30,812.75h3.60M310.30,789.60h3.60M310.30,766.45h3.60M310.30,743.30h3.60M310.30,916.92h2.20M310.30,893.77h2.20M310.30,870.62h2.20M310.30,847.48h2.20M310.30,824.32h2.20M310.30,801.17h2.20M310.30,778.02h2.20M310.30,754.88h2.20" stroke="#555555" stroke-width="1.0" fill="none"/>
<text x="316.30" y="932.10" text-anchor="start" font-family='"Liberation Sans", sans-serif' font-size="10.0" fill="#111" stroke="#111" stroke-width="0.22">0</text>
<text x="316.30" y="908.95" text-anchor="start" font-family='"Liberation Sans", sans-serif' font-size="10.0" fill="#111" stroke="#111" stroke-width="0.22">5</text>
<text x="316.30" y="885.80" text-anchor="start" font-family='"Liberation Sans", sans-serif' font-size="10.0" fill="#111" stroke="#111" stroke-width="0.22">10</text>
<text x="316.30" y="862.65" text-anchor="start" font-family='"Liberation Sans", sans-serif' font-size="10.0" fill="#111" stroke="#111" stroke-width="0.22">15</text>
<text x="316.30" y="839.50" text-anchor="start" font-family='"Liberation Sans", sans-serif' font-size="10.0" fill="#111" stroke="#111" stroke-width="0.22">20</text>
<text x="316.30" y="816.35" text-anchor="start" font-family='"Liberation Sans", sans-serif' font-size="10.0" fill="#111" stroke="#111" stroke-width="0.22">25</text>
<text x="316.30" y="793.20" text-anchor="start" font-family='"Liberation Sans", sans-serif' font-size="10.0" fill="#111" stroke="#111" stroke-width="0.22">30</text>
<text x="316.30" y="770.05" text-anchor="start" font-family='"Liberation Sans", sans-serif' font-size="10.0" fill="#111" stroke="#111" stroke-width="0.22">35</text>
<text x="316.30" y="746.90" text-anchor="start" font-family='"Liberation Sans", sans-serif' font-size="10.0" fill="#111" stroke="#111" stroke-width="0.22">40</text>
<path d="M108.16,928.50v3.60M167.61,928.50v3.60M227.07,928.50v3.60M286.52,928.50v3.60M78.44,928.50v2.20M137.89,928.50v2.20M197.34,928.50v2.20M256.79,928.50v2.20" stroke="#555555" stroke-width="1.0" fill="none"/>
<text x="108.16" y="942.50" text-anchor="middle" font-family='"Liberation Sans", sans-serif' font-size="10.0" fill="#111" stroke="#111" stroke-width="0.22">9</text>
<text x="167.61" y="942.50" text-anchor="middle" font-family='"Liberation Sans", sans-serif' font-size="10.0" fill="#111" stroke="#111" stroke-width="0.22">10</text>
<text x="227.07" y="942.50" text-anchor="middle" font-family='"Liberation Sans", sans-serif' font-size="10.0" fill="#111" stroke="#111" stroke-width="0.22">11</text>
<text x="286.52" y="942.50" text-anchor="middle" font-family='"Liberation Sans", sans-serif' font-size="10.0" fill="#111" stroke="#111" stroke-width="0.22">12</text>
<text x="185.80" y="960.40" text-anchor="middle" font-family='"Liberation Serif", serif' font-size="13.7" font-weight="bold" fill="#000">Frequency (GHz)</text>
<text x="34.60" y="833.60" text-anchor="middle" font-family='"Liberation Serif", serif' font-size="12.25" font-weight="bold" fill="#000" transform="rotate(-90 34.60 833.60)">Absolute value of reflection loss (dB)</text>
<text x="345.30" y="832.70" text-anchor="middle" font-family='"Liberation Serif", serif' font-size="12.17" font-weight="bold" fill="#000" transform="rotate(-90 345.30 832.70)">RCSR at normal incidence (dB)</text>
<text x="65.00" y="757.10" text-anchor="start" font-family='"Liberation Serif", serif' font-size="11.67" fill="#000"><tspan>Er</tspan><tspan font-size="7.47" baseline-shift="-5.02">2</tspan><tspan>Zr</tspan><tspan font-size="7.47" baseline-shift="-5.02">2</tspan><tspan>O</tspan><tspan font-size="7.47" baseline-shift="-5.02">7</tspan>/<tspan>Gd</tspan><tspan font-size="7.47" baseline-shift="-5.02">2</tspan><tspan>Zr</tspan><tspan font-size="7.47" baseline-shift="-5.02">2</tspan><tspan>O</tspan><tspan font-size="7.47" baseline-shift="-5.02">7</tspan> (0.4 mm/0.732 mm)</text>
<path d="M131.1,777.8 L149.6,770.1 L146.3,777.8 L149.6,785.5 Z" fill="#231815"/>
<path d="M145.5,777.8 H187.3" stroke="#231815" stroke-width="3.5" stroke-linecap="round"/>
<path d="M265.9,810.3 L247.2,802.4 L250.4,810.3 L247.2,818.3 Z" fill="#e60012"/>
<path d="M211,810.3 H251" stroke="#e60012" stroke-width="4.4" stroke-linecap="round"/>
<path d="M398.70,875.5H648.40" stroke="#3838ff" stroke-width="1.1" stroke-dasharray="4.3 3.73" fill="none"/>
<path d="M398.7,893.2L399.2,892.9L399.8,892.6L400.4,892.3L401.1,891.9L401.9,891.4L402.7,891.0L403.6,890.5L404.6,890.0L405.5,889.5L406.5,888.9L407.5,888.3L408.5,887.8L409.6,887.2L410.6,886.6L411.7,886.1L412.7,885.5L413.7,885.0L414.7,884.4L415.6,883.9L416.5,883.4L417.5,882.9L418.4,882.4L419.4,881.9L420.3,881.4L421.2,880.9L422.2,880.4L423.1,880.0L424.0,879.5L425.0,879.0L425.9,878.5L426.9,878.0L427.8,877.5L428.7,877.0L429.7,876.5L430.6,876.0L431.6,875.5L432.5,875.0L433.4,874.4L434.4,873.9L435.3,873.4L436.2,872.8L437.0,872.3L437.9,871.8L438.8,871.3L439.7,870.8L440.6,870.2L441.5,869.7L442.4,869.2L443.3,868.6L444.2,868.1L445.1,867.5L446.0,866.9L446.9,866.3L447.7,865.7L448.6,865.1L449.5,864.5L450.4,863.8L451.3,863.2L452.2,862.5L453.1,861.8L454.0,861.0L455.0,860.3L455.9,859.5L456.9,858.6L457.9,857.8L458.9,857.0L459.8,856.1L460.8,855.2L461.8,854.4L462.7,853.5L463.6,852.6L464.6,851.7L465.4,850.9L466.3,850.0L467.1,849.2L467.9,848.4L468.7,847.6L469.4,846.8L470.0,846.1L471.5,844.3L472.7,842.7L473.7,841.2L474.5,839.8L475.3,838.3L476.0,836.8L476.8,835.1L477.6,833.4L478.6,831.2L479.6,828.9L480.6,826.5L481.5,824.0L482.4,821.5L483.4,818.8L484.3,816.1L485.3,813.3L486.3,810.3L487.3,807.1L488.3,804.0L489.3,800.9L490.2,797.9L491.0,795.2L492.3,790.8L493.4,786.7L494.5,783.0L495.5,780.1L496.4,777.9L497.3,776.3L498.1,775.3L499.0,775.1L500.0,775.6L500.9,776.9L502.0,778.7L503.0,780.9L504.0,783.1L504.9,785.7L505.9,788.5L506.9,791.2L507.9,793.6L508.9,795.6L509.8,797.5L510.8,799.1L511.8,800.7L512.8,802.1L513.8,803.2L514.8,804.3L515.8,805.3L516.9,806.2L518.0,807.0L519.1,807.7L520.0,808.2L521.0,808.6L521.9,809.0L522.8,809.2L523.8,809.4L524.9,809.5L526.0,809.5L526.8,809.4L527.8,809.3L528.7,809.1L529.7,808.8L530.7,808.5L531.7,808.2L532.6,807.9L533.6,807.5L534.4,807.2L535.1,806.9L536.3,806.2L537.2,805.5L537.9,804.8L538.8,804.1L540.0,803.4L540.8,803.1L541.6,802.7L542.6,802.3L543.6,802.0L544.6,801.6L545.6,801.2L546.6,800.9L547.7,800.6L548.6,800.3L549.5,800.1L550.3,800.0L551.6,799.9L552.6,799.9L553.6,800.1L554.5,800.4L555.5,800.9L556.5,801.6L557.4,802.2L558.3,803.0L559.2,803.8L560.1,804.8L561.0,805.8L561.9,806.8L562.8,807.9L563.7,809.0L564.6,810.1L565.4,811.2L566.3,812.4L567.2,813.6L568.1,814.8L569.0,816.0L569.9,817.3L570.8,818.5L571.8,819.8L572.7,821.0L573.7,822.3L574.7,823.6L575.8,824.9L576.8,826.1L577.8,827.4L578.8,828.6L579.8,829.7L580.7,830.7L581.7,831.8L582.7,832.9L583.7,833.9L584.6,834.9L585.6,835.9L586.5,836.8L587.3,837.6L588.3,838.5L589.3,839.4L590.2,840.1L591.0,840.8L591.9,841.4L592.7,841.9L593.6,842.4L594.6,842.8L595.5,843.2L596.5,843.5L597.5,843.6L598.4,843.7L599.4,843.7L600.3,843.6L601.1,843.3L602.0,843.0L602.9,842.6L603.8,842.0L604.7,841.3L605.6,840.6L606.4,839.9L607.3,839.0L608.3,838.1L609.2,836.9L610.1,835.5L610.9,833.9L612.0,831.5L613.0,828.8L614.0,825.8L615.0,822.5L615.9,819.2L616.7,815.9L617.9,810.7L618.9,805.2L619.8,799.7L620.8,794.2L621.8,788.4L622.8,782.4L623.9,776.8L624.8,772.4L625.7,768.4L626.6,765.9L627.4,765.3L628.4,766.7L629.4,769.9L630.6,774.6L631.5,779.2L632.5,784.8L633.5,790.7L634.6,796.3L635.5,800.4L636.5,804.6L637.5,808.7L638.5,812.5L639.5,815.9L640.5,818.9L641.5,821.5L642.5,823.9L643.5,826.0L644.4,828.1L645.5,830.5L646.7,832.7L647.7,834.5L648.4,835.7" fill="none" stroke="#ff1a1a" stroke-width="1.0" stroke-linejoin="round"/>
<path d="M398.7,892.4L399.2,892.1L399.8,891.8L400.4,891.5L401.1,891.1L401.9,890.6L402.7,890.2L403.6,889.7L404.6,889.2L405.5,888.6L406.5,888.1L407.5,887.5L408.5,887.0L409.6,886.4L410.6,885.8L411.7,885.3L412.7,884.7L413.7,884.1L414.7,883.6L415.6,883.1L416.5,882.6L417.5,882.1L418.4,881.6L419.4,881.1L420.3,880.7L421.2,880.2L422.2,879.7L423.1,879.3L424.0,878.8L425.0,878.3L425.9,877.8L426.9,877.4L427.8,876.9L428.7,876.4L429.7,875.9L430.6,875.4L431.6,874.9L432.5,874.4L433.4,873.9L434.4,873.3L435.3,872.8L436.2,872.3L437.0,871.8L437.9,871.3L438.8,870.8L439.7,870.2L440.6,869.7L441.5,869.2L442.4,868.6L443.3,868.1L444.2,867.5L445.1,866.9L446.0,866.4L446.9,865.8L447.7,865.2L448.6,864.6L449.5,863.9L450.4,863.3L451.3,862.6L452.2,862.0L453.1,861.3L454.0,860.5L455.0,859.8L455.9,859.0L456.9,858.2L457.9,857.4L458.9,856.5L459.8,855.7L460.8,854.8L461.8,854.0L462.7,853.1L463.6,852.3L464.6,851.5L465.4,850.6L466.3,849.8L467.1,849.0L467.9,848.2L468.7,847.5L469.4,846.8L470.0,846.1L471.5,844.5L472.7,843.0L473.7,841.6L474.5,840.3L475.3,839.0L476.0,837.7L476.8,836.3L477.6,834.9L478.6,833.2L479.6,831.5L480.6,829.7L481.5,828.0L482.4,826.2L483.4,824.5L484.3,822.8L485.3,821.1L486.2,819.3L487.2,817.6L488.1,815.9L489.1,814.4L490.0,812.9L491.0,811.6L492.0,810.5L492.9,809.5L493.9,808.6L494.9,807.8L495.9,807.2L496.8,806.7L497.7,806.3L498.6,806.1L499.5,806.2L500.4,806.4L501.2,806.8L502.1,807.3L503.0,807.9L503.9,808.6L504.9,809.5L505.9,810.5L506.9,811.5L507.8,812.5L508.8,813.5L509.7,814.3L510.7,815.1L511.7,815.8L512.7,816.5L513.6,817.0L514.6,817.6L515.5,818.0L516.5,818.4L517.4,818.7L518.4,818.9L519.3,819.1L520.3,819.1L521.3,819.0L522.2,818.9L523.2,818.6L524.1,818.3L525.1,817.9L526.0,817.4L527.0,816.9L528.0,816.4L528.9,815.9L529.8,815.5L530.7,815.0L531.5,814.4L532.4,813.9L533.3,813.2L534.2,812.5L535.1,811.6L536.2,810.6L537.2,809.4L538.3,808.1L539.3,806.7L540.3,805.2L541.3,803.7L542.3,802.1L543.4,800.1L544.4,798.0L545.4,795.8L546.4,793.6L547.4,791.2L548.4,788.9L549.4,786.3L550.6,783.5L551.7,780.6L552.7,777.9L553.7,775.4L554.5,773.5L556.0,770.6L557.0,769.3L557.8,767.9L558.6,766.7L559.7,766.6L560.7,767.6L561.8,769.4L563.0,771.6L564.1,774.0L565.0,776.2L566.0,778.6L566.9,781.2L567.8,783.9L568.8,786.7L569.8,789.7L570.8,792.7L571.9,795.9L572.9,799.1L573.9,802.1L574.9,805.0L575.8,807.9L576.8,810.7L577.8,813.6L578.8,816.4L579.8,818.8L580.8,821.4L581.9,823.9L583.0,826.3L584.0,828.6L585.1,830.7L586.0,832.3L586.8,833.8L587.7,835.2L588.6,836.5L589.4,837.7L590.4,838.8L591.3,839.7L592.2,840.4L593.2,841.1L594.1,841.6L595.1,842.1L596.1,842.5L597.1,842.8L598.0,843.0L598.9,843.2L600.0,843.2L601.0,843.1L601.9,842.8L602.8,842.4L603.7,841.9L604.7,841.3L605.6,840.6L606.5,839.9L607.4,839.0L608.3,838.1L609.2,837.1L610.1,836.0L610.9,834.9L611.9,833.6L612.9,832.2L613.9,830.8L614.8,829.2L615.8,827.6L616.7,825.9L617.7,824.1L618.7,822.1L619.8,820.0L620.7,818.0L621.7,816.0L622.5,814.3L623.7,812.0L624.8,809.9L625.7,808.2L626.6,806.9L627.7,806.0L628.6,806.1L629.3,806.0L630.6,806.9L631.3,807.7L632.2,808.8L633.2,810.1L634.3,811.5L635.4,812.9L636.4,814.3L637.3,815.6L638.3,817.0L639.2,818.5L640.2,819.9L641.2,821.3L642.2,822.8L643.1,824.0L644.1,825.4L645.1,826.8L646.1,828.2L647.1,829.4L647.8,830.5L648.4,831.2" fill="none" stroke="#111" stroke-width="1.0" stroke-linejoin="round"/>
<path d="M398.70,743.30V928.70H648.40" fill="none" stroke="#555555" stroke-width="1.0"/>
<path d="M398.70,743.30H648.40" fill="none" stroke="#555555" stroke-width="1.0"/>
<path d="M648.40,743.30V928.70" fill="none" stroke="#555555" stroke-width="1.0"/>
<path d="M398.70,928.70h-3.60M398.70,902.21h-3.60M398.70,875.73h-3.60M398.70,849.24h-3.60M398.70,822.76h-3.60M398.70,796.27h-3.60M398.70,769.79h-3.60M398.70,743.30h-3.60M398.70,915.46h-2.20M398.70,888.97h-2.20M398.70,862.49h-2.20M398.70,836.00h-2.20M398.70,809.51h-2.20M398.70,783.03h-2.20M398.70,756.54h-2.20" stroke="#555555" stroke-width="1.0" fill="none"/>
<text x="392.70" y="932.30" text-anchor="end" font-family='"Liberation Sans", sans-serif' font-size="10.0" fill="#111" stroke="#111" stroke-width="0.22">0</text>
<text x="392.70" y="905.81" text-anchor="end" font-family='"Liberation Sans", sans-serif' font-size="10.0" fill="#111" stroke="#111" stroke-width="0.22">5</text>
<text x="392.70" y="879.33" text-anchor="end" font-family='"Liberation Sans", sans-serif' font-size="10.0" fill="#111" stroke="#111" stroke-width="0.22">10</text>
<text x="392.70" y="852.84" text-anchor="end" font-family='"Liberation Sans", sans-serif' font-size="10.0" fill="#111" stroke="#111" stroke-width="0.22">15</text>
<text x="392.70" y="826.36" text-anchor="end" font-family='"Liberation Sans", sans-serif' font-size="10.0" fill="#111" stroke="#111" stroke-width="0.22">20</text>
<text x="392.70" y="799.87" text-anchor="end" font-family='"Liberation Sans", sans-serif' font-size="10.0" fill="#111" stroke="#111" stroke-width="0.22">25</text>
<text x="392.70" y="773.39" text-anchor="end" font-family='"Liberation Sans", sans-serif' font-size="10.0" fill="#111" stroke="#111" stroke-width="0.22">30</text>
<text x="392.70" y="746.90" text-anchor="end" font-family='"Liberation Sans", sans-serif' font-size="10.0" fill="#111" stroke="#111" stroke-width="0.22">35</text>
<path d="M648.40,928.70h3.60M648.40,902.21h3.60M648.40,875.73h3.60M648.40,849.24h3.60M648.40,822.76h3.60M648.40,796.27h3.60M648.40,769.79h3.60M648.40,743.30h3.60M648.40,915.46h2.20M648.40,888.97h2.20M648.40,862.49h2.20M648.40,836.00h2.20M648.40,809.51h2.20M648.40,783.03h2.20M648.40,756.54h2.20" stroke="#555555" stroke-width="1.0" fill="none"/>
<text x="654.40" y="932.30" text-anchor="start" font-family='"Liberation Sans", sans-serif' font-size="10.0" fill="#111" stroke="#111" stroke-width="0.22">0</text>
<text x="654.40" y="905.81" text-anchor="start" font-family='"Liberation Sans", sans-serif' font-size="10.0" fill="#111" stroke="#111" stroke-width="0.22">5</text>
<text x="654.40" y="879.33" text-anchor="start" font-family='"Liberation Sans", sans-serif' font-size="10.0" fill="#111" stroke="#111" stroke-width="0.22">10</text>
<text x="654.40" y="852.84" text-anchor="start" font-family='"Liberation Sans", sans-serif' font-size="10.0" fill="#111" stroke="#111" stroke-width="0.22">15</text>
<text x="654.40" y="826.36" text-anchor="start" font-family='"Liberation Sans", sans-serif' font-size="10.0" fill="#111" stroke="#111" stroke-width="0.22">20</text>
<text x="654.40" y="799.87" text-anchor="start" font-family='"Liberation Sans", sans-serif' font-size="10.0" fill="#111" stroke="#111" stroke-width="0.22">25</text>
<text x="654.40" y="773.39" text-anchor="start" font-family='"Liberation Sans", sans-serif' font-size="10.0" fill="#111" stroke="#111" stroke-width="0.22">30</text>
<text x="654.40" y="746.90" text-anchor="start" font-family='"Liberation Sans", sans-serif' font-size="10.0" fill="#111" stroke="#111" stroke-width="0.22">35</text>
<path d="M425.45,928.70v3.60M470.04,928.70v3.60M514.63,928.70v3.60M559.22,928.70v3.60M603.81,928.70v3.60M648.40,928.70v3.60M403.16,928.70v2.20M447.75,928.70v2.20M492.34,928.70v2.20M536.93,928.70v2.20M581.52,928.70v2.20M626.11,928.70v2.20" stroke="#555555" stroke-width="1.0" fill="none"/>
<text x="425.45" y="942.70" text-anchor="middle" font-family='"Liberation Sans", sans-serif' font-size="10.0" fill="#111" stroke="#111" stroke-width="0.22">13</text>
<text x="470.04" y="942.70" text-anchor="middle" font-family='"Liberation Sans", sans-serif' font-size="10.0" fill="#111" stroke="#111" stroke-width="0.22">14</text>
<text x="514.63" y="942.70" text-anchor="middle" font-family='"Liberation Sans", sans-serif' font-size="10.0" fill="#111" stroke="#111" stroke-width="0.22">15</text>
<text x="559.22" y="942.70" text-anchor="middle" font-family='"Liberation Sans", sans-serif' font-size="10.0" fill="#111" stroke="#111" stroke-width="0.22">16</text>
<text x="603.81" y="942.70" text-anchor="middle" font-family='"Liberation Sans", sans-serif' font-size="10.0" fill="#111" stroke="#111" stroke-width="0.22">17</text>
<text x="648.40" y="942.70" text-anchor="middle" font-family='"Liberation Sans", sans-serif' font-size="10.0" fill="#111" stroke="#111" stroke-width="0.22">18</text>
<text x="523.50" y="960.60" text-anchor="middle" font-family='"Liberation Serif", serif' font-size="13.7" font-weight="bold" fill="#000">Frequency (GHz)</text>
<text x="372.20" y="835.00" text-anchor="middle" font-family='"Liberation Serif", serif' font-size="12.1" font-weight="bold" fill="#000" transform="rotate(-90 372.20 835.00)">Absolute value of reflection loss (dB)</text>
<text x="683.60" y="832.90" text-anchor="middle" font-family='"Liberation Serif", serif' font-size="12.17" font-weight="bold" fill="#000" transform="rotate(-90 683.60 832.90)">RCSR at normal incidence (dB)</text>
<text x="403.50" y="757.80" text-anchor="start" font-family='"Liberation Serif", serif' font-size="11.67" fill="#000"><tspan>Er</tspan><tspan font-size="7.47" baseline-shift="-5.02">2</tspan><tspan>Zr</tspan><tspan font-size="7.47" baseline-shift="-5.02">2</tspan><tspan>O</tspan><tspan font-size="7.47" baseline-shift="-5.02">7</tspan>/<tspan>Gd</tspan><tspan font-size="7.47" baseline-shift="-5.02">2</tspan><tspan>Zr</tspan><tspan font-size="7.47" baseline-shift="-5.02">2</tspan><tspan>O</tspan><tspan font-size="7.47" baseline-shift="-5.02">7</tspan> (0.4 mm/0.732 mm)</text>
<path d="M510.2,768.1 L528.6,760.6 L525.6,768.1 L528.6,776 Z" fill="#231815"/>
<path d="M525,768.1 H552.3" stroke="#231815" stroke-width="3.9" stroke-linecap="round"/>
<path d="M625.4,761.2 V752.5 Q625.4,751.1 627,751.1 H638" stroke="#e60012" stroke-width="3.7" stroke-linecap="round" fill="none"/>
<path d="M647.8,751.4 L636.6,746.8 L638.6,751.4 L636.6,756.1 Z" fill="#e60012"/>
</svg>
</body></html>
